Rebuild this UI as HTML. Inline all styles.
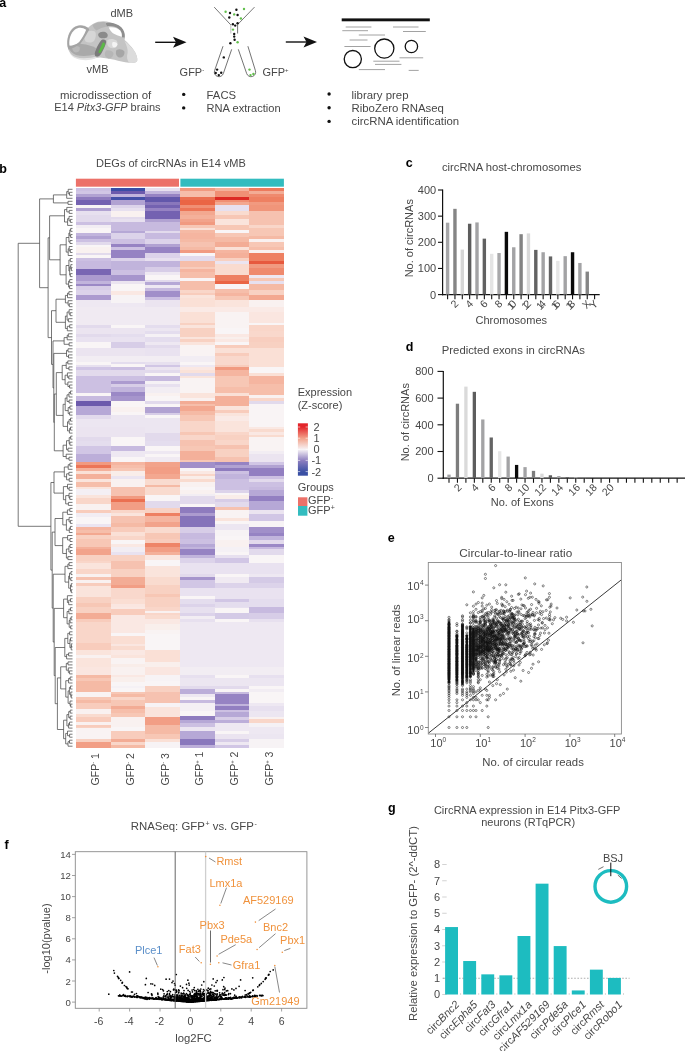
<!DOCTYPE html>
<html><head><meta charset="utf-8"><style>
html,body{margin:0;padding:0;background:#fff;}
svg{display:block;font-family:"Liberation Sans", sans-serif;will-change:transform;}
</style></head><body>
<svg width="685" height="1051" viewBox="0 0 685 1051">
<rect width="685" height="1051" fill="#fff"/>
<text x="-0.80" y="6.80" font-size="12.5" font-weight="bold" fill="#000">a</text>
<g>
<path d="M67.6,47 C66.4,39 68.5,31 74,27.2 C78.5,24.5 84,24.6 88,27.8 C91,25 94.5,22.8 98,21.8 C102,20.9 106,21.1 110,22.2 C116,23.7 121,27 123.6,31.5 C125.2,34.5 125.3,37.5 124.6,40 C128,43 131.5,46.5 134,50.5 C136.3,54 137.6,57.5 137.3,60.5 C136.4,62.8 133,63.3 129,62.8 C124,62.3 119,61.2 114.5,59.8 C110,58.8 105,58 100,57.4 C94,58.3 87,59.2 80,58.8 C74,58.3 69.5,54.5 67.6,47 Z" fill="#c4c4c4"/>
<path d="M69.5,53 C73,56.8 78,58.3 84,58.3 C89,58.2 94,57.4 97.5,56 C96.5,58.6 92,60 86,60.2 C79,60.3 73,58.5 69.5,53 Z" fill="#e3e3e3"/>
<path d="M68,46 C69,50 72,53.5 76,55 C82,56.5 89,56 95,54.5 L96,48 C92,46 87,44.5 82,44 C77,43.5 72,44 68,46 Z" fill="#a9a9a9"/>
<path d="M72,46.5 C74.5,45.3 77.5,45.5 79.5,47.3 C80.5,49.8 79,52.3 76,52.6 C73.5,52.2 72,50 72,46.5 Z" fill="#b9b9b9"/>
<path d="M85,33 C88,30.5 92,30 95,31.5 C96.5,34 96,38 94,41 C91.5,43 88,43 85.5,41.5 C84,38.5 84,35.5 85,33 Z" fill="#d6d6d6"/>
<path d="M67.6,46.5 C66.6,39 68.8,31.5 74,27.4 C78.3,24.6 84,24.7 88.2,28 L89.3,29.6 C86.2,35 83.5,40 80.6,43.6 C77,46.5 72.5,48.5 68.6,49.5 Z" fill="#a4a4a4"/>
<path d="M69.4,45.5 C68.8,39 70.6,33 75,29.5 C78.5,27 82.6,27.2 86.2,29.8 C84.2,34.5 81.8,38.8 79.2,42 C76,44.5 72.6,46.1 69.4,45.5 Z" fill="#ffffff"/>
<path d="M105.5,23.2 C111,21.8 117,23.5 121.3,27.2 C124,30 125.2,33.5 124.6,37.6 L122,37.2 C122.4,33.8 121.2,30.9 118.8,28.9 C115,26 110.5,25.4 106.8,26.4 Z" fill="#8e8e8e"/>
<path d="M108.8,27.6 C112.8,26.8 117,27.7 119.8,30.3 C121.6,32.2 122,34.6 121.7,36.8 C118.5,36 115.5,34.8 113,33.3 C111,31.8 109.6,29.8 108.8,27.6 Z" fill="#ffffff"/>
<path d="M92.5,25 C96,22.5 100.5,21.5 105.5,22.3 L106.8,26.4 C103,27.2 99.5,28.5 96.5,30.5 C94.5,29 93.2,27.2 92.5,25 Z" fill="#b3b3b3"/>
<path d="M98.3,33.8 C99.5,31.8 102.5,31.2 105.2,32 C107.6,33 108.4,35.4 107.2,37.2 C105.2,38.6 101.8,38.6 99.5,37.4 C98.3,36.4 97.9,35 98.3,33.8 Z" fill="#8a8a8a"/>
<path d="M101.5,40 C104,39 106.5,39.8 106.2,42.3 C105.5,45.5 103.5,49.5 101.6,53 C100.3,55.5 98,57.2 95.8,56.6 C94.2,55.4 94.6,52.6 95.7,50 C97.2,46.5 99,42.5 101.5,40 Z" fill="#7b7b7b"/>
<path d="M107.5,40 C110.5,38.5 114,38.8 116.8,40.8 C118.2,43 117.6,46 115.4,47.8 C112.6,48.8 109.6,48 108,46 C107,44 106.8,42 107.5,40 Z" fill="#d9d9d9"/>
<path d="M112.5,42.2 C114.5,41.5 116.8,42.2 117.5,44.2 C117.3,46.4 115.4,47.6 113.3,47.3 C112,46.2 111.8,43.8 112.5,42.2 Z" fill="#f4f4f4"/>
<path d="M116.5,50 C119,48.6 122.5,49 124.3,51.2 C125,54 123.5,56.8 120.6,57.6 C118,57.6 116.2,55.8 115.9,53.4 C115.8,52.2 116,51 116.5,50 Z" fill="#a6a6a6"/>
<path d="M124.5,41 C128,43.5 131.5,47 134,50.5 C136.3,54 137.6,57.5 137.3,60.5 C136.4,62.8 133,63.3 129,62.8 C127,60 126.5,56.5 127.6,53 C128.2,49.5 126.5,45 124.5,41 Z" fill="#dcdcdc"/>
<path d="M106,50.5 C109,49.8 112,50.6 113.5,53 C113.6,56 111.5,58.3 108.5,58.5 C106,58 104.6,56 104.8,53.5 C105,52.4 105.4,51.3 106,50.5 Z" fill="#b6b6b6"/>
<path d="M103.9,42.4 C105.4,43 105.2,45 104.1,47 L100.6,52.6 C99.6,53.5 98.3,52.9 98.6,51.4 L101.9,44.2 C102.4,43 103.1,42.2 103.9,42.4 Z" fill="#5cb947"/>
</g>
<text x="110.50" y="16.70" font-size="11" fill="#474747">dMB</text>
<text x="86.50" y="72.70" font-size="11" fill="#474747">vMB</text>
<text x="60.00" y="98.70" font-size="11.4" fill="#474747">microdissection of</text>
<text x="54.2" y="111.3" font-size="11.0" fill="#474747">E14 <tspan font-style="italic">Pitx3-GFP</tspan> brains</text>
<line x1="155.20" y1="42.30" x2="178.50" y2="42.30" stroke="#111" stroke-width="1.4"/>
<path d="M173.0,36.8 L186.5,42.3 L173.0,47.8 L176.0,42.3 Z" fill="#111"/>
<line x1="285.80" y1="42.00" x2="309.00" y2="42.00" stroke="#111" stroke-width="1.4"/>
<path d="M303.5,36.5 L317.0,42.0 L303.5,47.5 L306.5,42.0 Z" fill="#111"/>
<path d="M214.2,7.1 L230.8,24.9" stroke="#555" stroke-width="0.8" fill="none"/>
<path d="M254.5,7.1 L237.6,24.6" stroke="#555" stroke-width="0.8" fill="none"/>
<line x1="230.80" y1="24.90" x2="230.80" y2="33.50" stroke="#c8c8c8" stroke-width="1.2"/>
<line x1="237.60" y1="24.60" x2="237.60" y2="33.50" stroke="#666" stroke-width="0.9"/>
<path d="M223,46.2 L214.6,70.6 A4.6,4.6 0 0 0 223.3,73.6 L231.7,49.3" stroke="#444" stroke-width="0.75" fill="none"/>
<path d="M238.3,49.3 L246.7,73.6 A4.6,4.6 0 0 0 255.4,70.6 L247.9,46.2" stroke="#444" stroke-width="0.75" fill="none"/>
<circle cx="236.40" cy="9.70" r="1.20" fill="#111" stroke="none" stroke-width="1"/>
<circle cx="230.00" cy="13.00" r="1.20" fill="#111" stroke="none" stroke-width="1"/>
<circle cx="237.60" cy="15.00" r="1.20" fill="#111" stroke="none" stroke-width="1"/>
<circle cx="229.30" cy="17.50" r="1.20" fill="#111" stroke="none" stroke-width="1"/>
<circle cx="232.90" cy="24.30" r="1.20" fill="#111" stroke="none" stroke-width="1"/>
<circle cx="235.20" cy="25.60" r="1.20" fill="#111" stroke="none" stroke-width="1"/>
<circle cx="237.60" cy="23.20" r="1.20" fill="#111" stroke="none" stroke-width="1"/>
<circle cx="234.20" cy="34.00" r="1.20" fill="#111" stroke="none" stroke-width="1"/>
<circle cx="234.20" cy="36.60" r="1.20" fill="#111" stroke="none" stroke-width="1"/>
<circle cx="234.60" cy="39.80" r="1.20" fill="#111" stroke="none" stroke-width="1"/>
<circle cx="230.40" cy="43.30" r="1.20" fill="#111" stroke="none" stroke-width="1"/>
<circle cx="223.80" cy="57.40" r="1.20" fill="#111" stroke="none" stroke-width="1"/>
<circle cx="217.10" cy="69.60" r="1.20" fill="#111" stroke="none" stroke-width="1"/>
<circle cx="215.70" cy="73.00" r="1.20" fill="#111" stroke="none" stroke-width="1"/>
<circle cx="221.20" cy="72.80" r="1.20" fill="#111" stroke="none" stroke-width="1"/>
<circle cx="218.80" cy="75.10" r="1.20" fill="#111" stroke="none" stroke-width="1"/>
<circle cx="225.60" cy="11.80" r="1.20" fill="#62c04c" stroke="none" stroke-width="1"/>
<circle cx="244.00" cy="9.00" r="1.20" fill="#62c04c" stroke="none" stroke-width="1"/>
<circle cx="234.20" cy="14.40" r="1.20" fill="#62c04c" stroke="none" stroke-width="1"/>
<circle cx="240.90" cy="18.50" r="1.20" fill="#62c04c" stroke="none" stroke-width="1"/>
<circle cx="233.00" cy="29.60" r="1.20" fill="#62c04c" stroke="none" stroke-width="1"/>
<circle cx="237.60" cy="42.30" r="1.20" fill="#62c04c" stroke="none" stroke-width="1"/>
<circle cx="249.50" cy="69.60" r="1.20" fill="#62c04c" stroke="none" stroke-width="1"/>
<circle cx="250.50" cy="75.10" r="1.20" fill="#62c04c" stroke="none" stroke-width="1"/>
<circle cx="253.40" cy="74.00" r="1.20" fill="#62c04c" stroke="none" stroke-width="1"/>
<text x="179.6" y="76.2" font-size="11" fill="#474747">GFP<tspan dy="-4" font-size="6">-</tspan></text>
<text x="262.4" y="76.2" font-size="11" fill="#474747">GFP<tspan dy="-4" font-size="6">+</tspan></text>
<circle cx="183.70" cy="94.40" r="1.70" fill="#111" stroke="none" stroke-width="1"/>
<circle cx="183.70" cy="107.90" r="1.70" fill="#111" stroke="none" stroke-width="1"/>
<text x="206.60" y="98.50" font-size="11.3" fill="#474747">FACS</text>
<text x="206.60" y="112.00" font-size="11.1" fill="#474747">RNA extraction</text>
<rect x="341.70" y="18.40" width="88.10" height="2.90" fill="#111"/>
<line x1="345.70" y1="27.00" x2="371.40" y2="27.00" stroke="#8a8a8a" stroke-width="0.8"/>
<line x1="393.00" y1="27.00" x2="418.50" y2="27.00" stroke="#8a8a8a" stroke-width="0.8"/>
<line x1="342.30" y1="30.70" x2="368.00" y2="30.70" stroke="#8a8a8a" stroke-width="0.8"/>
<line x1="403.00" y1="31.50" x2="425.80" y2="31.50" stroke="#8a8a8a" stroke-width="0.8"/>
<line x1="358.80" y1="35.00" x2="385.00" y2="35.00" stroke="#8a8a8a" stroke-width="0.8"/>
<line x1="349.60" y1="40.00" x2="367.50" y2="40.00" stroke="#8a8a8a" stroke-width="0.8"/>
<line x1="344.40" y1="46.50" x2="370.60" y2="46.50" stroke="#8a8a8a" stroke-width="0.8"/>
<line x1="399.50" y1="57.80" x2="423.20" y2="57.80" stroke="#8a8a8a" stroke-width="0.8"/>
<line x1="373.30" y1="61.20" x2="399.50" y2="61.20" stroke="#8a8a8a" stroke-width="0.8"/>
<line x1="375.00" y1="64.40" x2="401.40" y2="64.40" stroke="#8a8a8a" stroke-width="0.8"/>
<line x1="358.80" y1="69.60" x2="385.00" y2="69.60" stroke="#8a8a8a" stroke-width="0.8"/>
<line x1="408.70" y1="70.40" x2="418.70" y2="70.40" stroke="#8a8a8a" stroke-width="0.8"/>
<circle cx="384.30" cy="48.60" r="9.60" fill="none" stroke="#111" stroke-width="1.3"/>
<circle cx="411.40" cy="46.50" r="6.20" fill="none" stroke="#111" stroke-width="1.3"/>
<circle cx="352.80" cy="59.10" r="8.60" fill="none" stroke="#111" stroke-width="1.3"/>
<circle cx="329.10" cy="94.00" r="1.70" fill="#111" stroke="none" stroke-width="1"/>
<circle cx="329.10" cy="107.70" r="1.70" fill="#111" stroke="none" stroke-width="1"/>
<circle cx="329.10" cy="121.40" r="1.70" fill="#111" stroke="none" stroke-width="1"/>
<text x="351.50" y="98.50" font-size="11.4" fill="#474747">library prep</text>
<text x="351.50" y="111.80" font-size="11.4" fill="#474747">RiboZero RNAseq</text>
<text x="351.50" y="125.30" font-size="11.4" fill="#474747">circRNA identification</text>
<text x="-0.80" y="172.90" font-size="12.5" font-weight="bold" fill="#000">b</text>
<text x="96.10" y="167.00" font-size="11" fill="#474747">DEGs of circRNAs in E14 vMB</text>
<rect x="75.90" y="178.70" width="103.10" height="8.00" fill="#ec7169"/>
<rect x="180.40" y="178.70" width="103.50" height="8.00" fill="#33bcbf"/>
<g shape-rendering="crispEdges">
<rect x="75.90" y="187.80" width="34.97" height="3.30" fill="#ccc0e2"/>
<rect x="75.90" y="190.80" width="34.97" height="3.34" fill="#d1c6e5"/>
<rect x="75.90" y="193.83" width="34.97" height="3.34" fill="#b1a2d2"/>
<rect x="75.90" y="196.87" width="34.97" height="3.34" fill="#8e7bbe"/>
<rect x="75.90" y="199.91" width="34.97" height="5.61" fill="#7462b1"/>
<rect x="75.90" y="205.22" width="34.97" height="2.58" fill="#f9f5f6"/>
<rect x="75.90" y="207.50" width="34.97" height="4.10" fill="#b1a2d2"/>
<rect x="75.90" y="211.29" width="34.97" height="4.10" fill="#e7e0ef"/>
<rect x="75.90" y="215.09" width="34.97" height="7.13" fill="#e2daec"/>
<rect x="75.90" y="221.92" width="34.97" height="3.34" fill="#ccc0e2"/>
<rect x="75.90" y="224.96" width="34.97" height="3.03" fill="#f2edf3"/>
<rect x="75.90" y="227.69" width="34.97" height="5.16" fill="#f9f5f6"/>
<rect x="75.90" y="232.55" width="34.97" height="3.34" fill="#c1b4dc"/>
<rect x="75.90" y="235.58" width="34.97" height="4.10" fill="#b1a2d2"/>
<rect x="75.90" y="239.38" width="34.97" height="3.34" fill="#ccc0e2"/>
<rect x="75.90" y="242.42" width="34.97" height="2.58" fill="#e2daec"/>
<rect x="75.90" y="244.69" width="34.97" height="2.58" fill="#f9f5f6"/>
<rect x="110.57" y="187.80" width="34.97" height="3.30" fill="#3a4da6"/>
<rect x="110.57" y="190.80" width="34.97" height="3.34" fill="#6c5aac"/>
<rect x="110.57" y="193.83" width="34.97" height="3.34" fill="#c1b4dc"/>
<rect x="110.57" y="196.87" width="34.97" height="3.34" fill="#4450a7"/>
<rect x="110.57" y="199.91" width="34.97" height="5.31" fill="#b1a2d2"/>
<rect x="110.57" y="204.92" width="34.97" height="3.64" fill="#dcd3ea"/>
<rect x="110.57" y="208.26" width="34.97" height="3.34" fill="#e7e0ef"/>
<rect x="110.57" y="211.29" width="34.97" height="5.61" fill="#f9f1f0"/>
<rect x="110.57" y="216.61" width="34.97" height="2.58" fill="#e2daec"/>
<rect x="110.57" y="218.88" width="34.97" height="3.34" fill="#e7e0ef"/>
<rect x="110.57" y="221.92" width="34.97" height="9.41" fill="#c7badf"/>
<rect x="110.57" y="231.03" width="34.97" height="2.58" fill="#b6a8d6"/>
<rect x="110.57" y="233.31" width="34.97" height="6.37" fill="#dcd3ea"/>
<rect x="110.57" y="239.38" width="34.97" height="4.85" fill="#ccc0e2"/>
<rect x="110.57" y="243.93" width="34.97" height="3.34" fill="#9683c3"/>
<rect x="145.23" y="187.80" width="34.97" height="3.30" fill="#e7e0ef"/>
<rect x="145.23" y="190.80" width="34.97" height="3.34" fill="#c1b4dc"/>
<rect x="145.23" y="193.83" width="34.97" height="3.34" fill="#9683c3"/>
<rect x="145.23" y="196.87" width="34.97" height="5.61" fill="#6257ab"/>
<rect x="145.23" y="202.18" width="34.97" height="3.03" fill="#8977bc"/>
<rect x="145.23" y="204.92" width="34.97" height="3.64" fill="#7462b1"/>
<rect x="145.23" y="208.26" width="34.97" height="3.34" fill="#9683c3"/>
<rect x="145.23" y="211.29" width="34.97" height="7.89" fill="#7462b1"/>
<rect x="145.23" y="218.88" width="34.97" height="3.34" fill="#b1a2d2"/>
<rect x="145.23" y="221.92" width="34.97" height="9.41" fill="#c7badf"/>
<rect x="145.23" y="231.03" width="34.97" height="2.58" fill="#e2daec"/>
<rect x="145.23" y="233.31" width="34.97" height="6.37" fill="#c7badf"/>
<rect x="145.23" y="239.38" width="34.97" height="4.85" fill="#dcd3ea"/>
<rect x="145.23" y="243.93" width="34.97" height="3.34" fill="#b1a2d2"/>
<rect x="179.90" y="187.80" width="34.97" height="3.30" fill="#f19a80"/>
<rect x="179.90" y="190.80" width="34.97" height="6.37" fill="#f6beaa"/>
<rect x="179.90" y="196.87" width="34.97" height="3.34" fill="#eb7051"/>
<rect x="179.90" y="199.91" width="34.97" height="5.61" fill="#ea6545"/>
<rect x="179.90" y="205.22" width="34.97" height="3.34" fill="#f08f74"/>
<rect x="179.90" y="208.26" width="34.97" height="3.34" fill="#ec7557"/>
<rect x="179.90" y="211.29" width="34.97" height="4.10" fill="#f3a890"/>
<rect x="179.90" y="215.09" width="34.97" height="4.10" fill="#f4b09a"/>
<rect x="179.90" y="218.88" width="34.97" height="3.34" fill="#f2a38b"/>
<rect x="179.90" y="221.92" width="34.97" height="3.34" fill="#f19a80"/>
<rect x="179.90" y="224.96" width="34.97" height="3.03" fill="#f7c7b5"/>
<rect x="179.90" y="227.69" width="34.97" height="2.88" fill="#fae0d6"/>
<rect x="179.90" y="230.27" width="34.97" height="2.58" fill="#f5baa5"/>
<rect x="179.90" y="232.55" width="34.97" height="7.13" fill="#f5b5a0"/>
<rect x="179.90" y="239.38" width="34.97" height="3.34" fill="#f5baa5"/>
<rect x="179.90" y="242.42" width="34.97" height="4.85" fill="#f6c2b0"/>
<rect x="214.57" y="187.80" width="34.97" height="3.30" fill="#f4b09a"/>
<rect x="214.57" y="190.80" width="34.97" height="6.37" fill="#f08f74"/>
<rect x="214.57" y="196.87" width="34.97" height="3.34" fill="#dc2a24"/>
<rect x="214.57" y="199.91" width="34.97" height="2.58" fill="#f08f74"/>
<rect x="214.57" y="202.18" width="34.97" height="3.34" fill="#f3a890"/>
<rect x="214.57" y="205.22" width="34.97" height="6.37" fill="#e7e0ef"/>
<rect x="214.57" y="211.29" width="34.97" height="4.10" fill="#f9dbcf"/>
<rect x="214.57" y="215.09" width="34.97" height="4.10" fill="#f7c7b5"/>
<rect x="214.57" y="218.88" width="34.97" height="6.37" fill="#fae4dc"/>
<rect x="214.57" y="224.96" width="34.97" height="5.61" fill="#f7c7b5"/>
<rect x="214.57" y="230.27" width="34.97" height="3.34" fill="#f9f5f6"/>
<rect x="214.57" y="233.31" width="34.97" height="4.10" fill="#f7c7b5"/>
<rect x="214.57" y="237.10" width="34.97" height="4.85" fill="#f5baa5"/>
<rect x="214.57" y="241.66" width="34.97" height="5.61" fill="#f3ac95"/>
<rect x="249.23" y="187.80" width="34.97" height="3.30" fill="#ed7a5d"/>
<rect x="249.23" y="190.80" width="34.97" height="3.34" fill="#f3ac95"/>
<rect x="249.23" y="193.83" width="34.97" height="3.34" fill="#ef8a6e"/>
<rect x="249.23" y="196.87" width="34.97" height="5.61" fill="#ee8062"/>
<rect x="249.23" y="202.18" width="34.97" height="3.34" fill="#f19a80"/>
<rect x="249.23" y="205.22" width="34.97" height="6.37" fill="#f0957a"/>
<rect x="249.23" y="211.29" width="34.97" height="13.96" fill="#f6c2b0"/>
<rect x="249.23" y="224.96" width="34.97" height="3.34" fill="#f9d6c9"/>
<rect x="249.23" y="227.99" width="34.97" height="7.89" fill="#f7c7b5"/>
<rect x="249.23" y="235.58" width="34.97" height="3.34" fill="#f5baa5"/>
<rect x="249.23" y="238.62" width="34.97" height="3.34" fill="#f9f1f0"/>
<rect x="249.23" y="241.66" width="34.97" height="5.61" fill="#f7c7b5"/>
<rect x="75.90" y="247.00" width="34.97" height="6.07" fill="#f9f1f0"/>
<rect x="75.90" y="252.77" width="34.97" height="2.88" fill="#e2daec"/>
<rect x="75.90" y="255.35" width="34.97" height="2.88" fill="#f9f5f6"/>
<rect x="75.90" y="257.93" width="34.97" height="3.79" fill="#ccc0e2"/>
<rect x="75.90" y="261.42" width="34.97" height="7.89" fill="#c7badf"/>
<rect x="75.90" y="269.01" width="34.97" height="6.37" fill="#7966b3"/>
<rect x="75.90" y="275.09" width="34.97" height="6.37" fill="#ac9bcf"/>
<rect x="75.90" y="281.16" width="34.97" height="3.34" fill="#c1b4dc"/>
<rect x="75.90" y="284.20" width="34.97" height="2.58" fill="#9b89c6"/>
<rect x="75.90" y="286.47" width="34.97" height="4.10" fill="#d7cde7"/>
<rect x="75.90" y="290.27" width="34.97" height="4.85" fill="#dcd3ea"/>
<rect x="75.90" y="294.82" width="34.97" height="5.61" fill="#ac9bcf"/>
<rect x="75.90" y="300.14" width="34.97" height="7.13" fill="#eee8f2"/>
<rect x="110.57" y="247.00" width="34.97" height="3.34" fill="#ccc0e2"/>
<rect x="110.57" y="250.04" width="34.97" height="8.19" fill="#9683c3"/>
<rect x="110.57" y="257.93" width="34.97" height="3.03" fill="#dcd3ea"/>
<rect x="110.57" y="260.66" width="34.97" height="9.41" fill="#c1b4dc"/>
<rect x="110.57" y="269.77" width="34.97" height="5.61" fill="#ccc0e2"/>
<rect x="110.57" y="275.09" width="34.97" height="6.37" fill="#a695cc"/>
<rect x="110.57" y="281.16" width="34.97" height="3.34" fill="#ebe4f0"/>
<rect x="110.57" y="284.20" width="34.97" height="7.13" fill="#f9f5f6"/>
<rect x="110.57" y="291.03" width="34.97" height="4.10" fill="#fae8e3"/>
<rect x="110.57" y="294.82" width="34.97" height="8.35" fill="#f7f3f5"/>
<rect x="110.57" y="302.87" width="34.97" height="4.40" fill="#eee8f2"/>
<rect x="145.23" y="247.00" width="34.97" height="6.07" fill="#9683c3"/>
<rect x="145.23" y="252.77" width="34.97" height="5.46" fill="#dcd3ea"/>
<rect x="145.23" y="257.93" width="34.97" height="3.03" fill="#e7e0ef"/>
<rect x="145.23" y="260.66" width="34.97" height="6.37" fill="#c1b4dc"/>
<rect x="145.23" y="266.74" width="34.97" height="5.61" fill="#d7cde7"/>
<rect x="145.23" y="272.05" width="34.97" height="3.34" fill="#eee8f2"/>
<rect x="145.23" y="275.09" width="34.97" height="4.85" fill="#f9f5f6"/>
<rect x="145.23" y="279.64" width="34.97" height="2.58" fill="#e2daec"/>
<rect x="145.23" y="281.92" width="34.97" height="3.34" fill="#b6a8d6"/>
<rect x="145.23" y="284.96" width="34.97" height="3.34" fill="#eee8f2"/>
<rect x="145.23" y="287.99" width="34.97" height="3.34" fill="#c7badf"/>
<rect x="145.23" y="291.03" width="34.97" height="6.37" fill="#a18fc9"/>
<rect x="145.23" y="297.10" width="34.97" height="3.34" fill="#ccc0e2"/>
<rect x="145.23" y="300.14" width="34.97" height="7.13" fill="#ebe4f0"/>
<rect x="179.90" y="247.00" width="34.97" height="3.34" fill="#f5baa5"/>
<rect x="179.90" y="250.04" width="34.97" height="3.03" fill="#f19a80"/>
<rect x="179.90" y="252.77" width="34.97" height="3.34" fill="#f9f5f6"/>
<rect x="179.90" y="255.81" width="34.97" height="5.16" fill="#e2daec"/>
<rect x="179.90" y="260.66" width="34.97" height="6.37" fill="#f6beaa"/>
<rect x="179.90" y="266.74" width="34.97" height="2.58" fill="#f8ccbc"/>
<rect x="179.90" y="269.01" width="34.97" height="3.34" fill="#f5b5a0"/>
<rect x="179.90" y="272.05" width="34.97" height="6.37" fill="#f6beaa"/>
<rect x="179.90" y="278.12" width="34.97" height="2.88" fill="#f9f5f6"/>
<rect x="179.90" y="280.71" width="34.97" height="9.11" fill="#f6beaa"/>
<rect x="179.90" y="289.51" width="34.97" height="3.34" fill="#f9d6c9"/>
<rect x="179.90" y="292.55" width="34.97" height="2.58" fill="#f8ccbc"/>
<rect x="179.90" y="294.82" width="34.97" height="3.34" fill="#fae4dc"/>
<rect x="179.90" y="297.86" width="34.97" height="9.41" fill="#fae0d6"/>
<rect x="214.57" y="247.00" width="34.97" height="3.34" fill="#fae0d6"/>
<rect x="214.57" y="250.04" width="34.97" height="3.34" fill="#f5b5a0"/>
<rect x="214.57" y="253.07" width="34.97" height="5.16" fill="#f4b09a"/>
<rect x="214.57" y="257.93" width="34.97" height="3.03" fill="#f8d1c2"/>
<rect x="214.57" y="260.66" width="34.97" height="3.34" fill="#ebe4f0"/>
<rect x="214.57" y="263.70" width="34.97" height="11.69" fill="#f9dbcf"/>
<rect x="214.57" y="275.09" width="34.97" height="6.37" fill="#ee8062"/>
<rect x="214.57" y="281.16" width="34.97" height="2.88" fill="#ea6545"/>
<rect x="214.57" y="283.74" width="34.97" height="5.31" fill="#f9f5f6"/>
<rect x="214.57" y="288.75" width="34.97" height="4.10" fill="#f6beaa"/>
<rect x="214.57" y="292.55" width="34.97" height="3.34" fill="#f5b5a0"/>
<rect x="214.57" y="295.58" width="34.97" height="4.85" fill="#f7c7b5"/>
<rect x="214.57" y="300.14" width="34.97" height="7.13" fill="#fae4dc"/>
<rect x="249.23" y="247.00" width="34.97" height="3.03" fill="#f6beaa"/>
<rect x="249.23" y="249.73" width="34.97" height="3.34" fill="#f9f1f0"/>
<rect x="249.23" y="252.77" width="34.97" height="8.50" fill="#ee8062"/>
<rect x="249.23" y="260.97" width="34.97" height="3.03" fill="#e7593e"/>
<rect x="249.23" y="263.70" width="34.97" height="4.10" fill="#f19a80"/>
<rect x="249.23" y="267.50" width="34.97" height="7.89" fill="#ef8a6e"/>
<rect x="249.23" y="275.09" width="34.97" height="3.34" fill="#eee8f2"/>
<rect x="249.23" y="278.12" width="34.97" height="3.34" fill="#f7c7b5"/>
<rect x="249.23" y="281.16" width="34.97" height="3.34" fill="#e7e0ef"/>
<rect x="249.23" y="284.20" width="34.97" height="5.61" fill="#f5baa5"/>
<rect x="249.23" y="289.51" width="34.97" height="5.61" fill="#f8d1c2"/>
<rect x="249.23" y="294.82" width="34.97" height="5.61" fill="#f3a890"/>
<rect x="249.23" y="300.14" width="34.97" height="7.13" fill="#f9f1f0"/>
<rect x="75.90" y="307.00" width="34.97" height="18.52" fill="#f0eaf2"/>
<rect x="75.90" y="325.22" width="34.97" height="3.34" fill="#e2daec"/>
<rect x="75.90" y="328.26" width="34.97" height="6.37" fill="#ebe4f0"/>
<rect x="75.90" y="334.33" width="34.97" height="3.34" fill="#e2daec"/>
<rect x="75.90" y="337.36" width="34.97" height="4.85" fill="#e9e2f0"/>
<rect x="75.90" y="341.92" width="34.97" height="6.37" fill="#f9f5f6"/>
<rect x="75.90" y="347.99" width="34.97" height="7.89" fill="#ebe4f0"/>
<rect x="75.90" y="355.58" width="34.97" height="6.68" fill="#f2edf3"/>
<rect x="75.90" y="361.96" width="34.97" height="3.03" fill="#f9f5f6"/>
<rect x="75.90" y="364.69" width="34.97" height="2.58" fill="#e7e0ef"/>
<rect x="110.57" y="307.00" width="34.97" height="18.52" fill="#f0eaf2"/>
<rect x="110.57" y="325.22" width="34.97" height="3.34" fill="#f9f5f6"/>
<rect x="110.57" y="328.26" width="34.97" height="6.37" fill="#ebe4f0"/>
<rect x="110.57" y="334.33" width="34.97" height="3.34" fill="#e4ddee"/>
<rect x="110.57" y="337.36" width="34.97" height="4.85" fill="#e9e2f0"/>
<rect x="110.57" y="341.92" width="34.97" height="6.37" fill="#d7cde7"/>
<rect x="110.57" y="347.99" width="34.97" height="7.89" fill="#ebe4f0"/>
<rect x="110.57" y="355.58" width="34.97" height="6.68" fill="#f2edf3"/>
<rect x="110.57" y="361.96" width="34.97" height="2.73" fill="#e4ddee"/>
<rect x="110.57" y="364.39" width="34.97" height="2.88" fill="#f9f5f6"/>
<rect x="145.23" y="307.00" width="34.97" height="18.52" fill="#f0eaf2"/>
<rect x="145.23" y="325.22" width="34.97" height="3.34" fill="#e4ddee"/>
<rect x="145.23" y="328.26" width="34.97" height="3.34" fill="#ece6f1"/>
<rect x="145.23" y="331.29" width="34.97" height="2.58" fill="#e4ddee"/>
<rect x="145.23" y="333.57" width="34.97" height="3.79" fill="#f5f1f5"/>
<rect x="145.23" y="337.06" width="34.97" height="5.46" fill="#e4ddee"/>
<rect x="145.23" y="342.22" width="34.97" height="3.03" fill="#eee8f2"/>
<rect x="145.23" y="344.96" width="34.97" height="3.34" fill="#e2daec"/>
<rect x="145.23" y="347.99" width="34.97" height="7.89" fill="#e9e2f0"/>
<rect x="145.23" y="355.58" width="34.97" height="6.68" fill="#f2edf3"/>
<rect x="145.23" y="361.96" width="34.97" height="3.03" fill="#e7e0ef"/>
<rect x="145.23" y="364.69" width="34.97" height="2.58" fill="#d1c6e5"/>
<rect x="179.90" y="307.00" width="34.97" height="4.85" fill="#faeae6"/>
<rect x="179.90" y="311.55" width="34.97" height="11.69" fill="#fae0d6"/>
<rect x="179.90" y="322.94" width="34.97" height="2.58" fill="#f8d1c2"/>
<rect x="179.90" y="325.22" width="34.97" height="3.34" fill="#fae4dc"/>
<rect x="179.90" y="328.26" width="34.97" height="8.65" fill="#f8d1c2"/>
<rect x="179.90" y="336.61" width="34.97" height="2.58" fill="#fae4dc"/>
<rect x="179.90" y="338.88" width="34.97" height="3.34" fill="#f8d1c2"/>
<rect x="179.90" y="341.92" width="34.97" height="3.34" fill="#fae4dc"/>
<rect x="179.90" y="344.96" width="34.97" height="10.93" fill="#f9f3f3"/>
<rect x="179.90" y="355.58" width="34.97" height="6.68" fill="#f2edf3"/>
<rect x="179.90" y="361.96" width="34.97" height="3.03" fill="#f9f5f6"/>
<rect x="179.90" y="364.69" width="34.97" height="2.58" fill="#eee8f2"/>
<rect x="214.57" y="307.00" width="34.97" height="4.85" fill="#faeae6"/>
<rect x="214.57" y="311.55" width="34.97" height="17.00" fill="#f9f3f3"/>
<rect x="214.57" y="328.26" width="34.97" height="6.07" fill="#f9f5f6"/>
<rect x="214.57" y="334.02" width="34.97" height="2.88" fill="#fae8e3"/>
<rect x="214.57" y="336.61" width="34.97" height="2.88" fill="#f9efec"/>
<rect x="214.57" y="339.19" width="34.97" height="3.03" fill="#fae8e3"/>
<rect x="214.57" y="341.92" width="34.97" height="3.34" fill="#f9f5f6"/>
<rect x="214.57" y="344.96" width="34.97" height="3.34" fill="#f8ccbc"/>
<rect x="214.57" y="347.99" width="34.97" height="4.85" fill="#fae0d6"/>
<rect x="214.57" y="352.55" width="34.97" height="3.34" fill="#f8ccbc"/>
<rect x="214.57" y="355.58" width="34.97" height="9.41" fill="#f9d8cc"/>
<rect x="214.57" y="364.69" width="34.97" height="2.58" fill="#f8ccbc"/>
<rect x="249.23" y="307.00" width="34.97" height="4.85" fill="#faeae6"/>
<rect x="249.23" y="311.55" width="34.97" height="11.69" fill="#fae6e0"/>
<rect x="249.23" y="322.94" width="34.97" height="2.58" fill="#f9f5f6"/>
<rect x="249.23" y="325.22" width="34.97" height="6.37" fill="#f9d6c9"/>
<rect x="249.23" y="331.29" width="34.97" height="5.61" fill="#f9d8cc"/>
<rect x="249.23" y="336.61" width="34.97" height="5.61" fill="#f8cebf"/>
<rect x="249.23" y="341.92" width="34.97" height="6.37" fill="#f8d1c2"/>
<rect x="249.23" y="347.99" width="34.97" height="3.34" fill="#fae0d6"/>
<rect x="249.23" y="351.03" width="34.97" height="16.24" fill="#fae0d6"/>
<rect x="75.90" y="367.00" width="34.97" height="3.34" fill="#d1c6e5"/>
<rect x="75.90" y="370.04" width="34.97" height="6.37" fill="#e2daec"/>
<rect x="75.90" y="376.11" width="34.97" height="17.00" fill="#ccc0e2"/>
<rect x="75.90" y="392.81" width="34.97" height="3.34" fill="#f9f5f6"/>
<rect x="75.90" y="395.85" width="34.97" height="5.61" fill="#c7badf"/>
<rect x="75.90" y="401.16" width="34.97" height="5.61" fill="#6c5aac"/>
<rect x="75.90" y="406.47" width="34.97" height="8.65" fill="#b6a8d6"/>
<rect x="75.90" y="414.82" width="34.97" height="4.10" fill="#e2daec"/>
<rect x="75.90" y="418.62" width="34.97" height="8.65" fill="#ece6f1"/>
<rect x="110.57" y="367.00" width="34.97" height="3.34" fill="#ccc0e2"/>
<rect x="110.57" y="370.04" width="34.97" height="6.37" fill="#e2daec"/>
<rect x="110.57" y="376.11" width="34.97" height="4.85" fill="#ccc0e2"/>
<rect x="110.57" y="380.66" width="34.97" height="3.64" fill="#ac9bcf"/>
<rect x="110.57" y="384.00" width="34.97" height="3.03" fill="#d7cde7"/>
<rect x="110.57" y="386.74" width="34.97" height="5.61" fill="#c1b4dc"/>
<rect x="110.57" y="392.05" width="34.97" height="4.10" fill="#9b89c6"/>
<rect x="110.57" y="395.85" width="34.97" height="5.61" fill="#a695cc"/>
<rect x="110.57" y="401.16" width="34.97" height="6.37" fill="#f9f5f6"/>
<rect x="110.57" y="407.23" width="34.97" height="4.85" fill="#f9f1f0"/>
<rect x="110.57" y="411.79" width="34.97" height="3.34" fill="#f9f5f6"/>
<rect x="110.57" y="414.82" width="34.97" height="12.45" fill="#ece6f1"/>
<rect x="145.23" y="367.00" width="34.97" height="3.34" fill="#ebe4f0"/>
<rect x="145.23" y="370.04" width="34.97" height="3.03" fill="#e2daec"/>
<rect x="145.23" y="372.77" width="34.97" height="3.64" fill="#f9f5f6"/>
<rect x="145.23" y="376.11" width="34.97" height="4.85" fill="#c7badf"/>
<rect x="145.23" y="380.66" width="34.97" height="3.64" fill="#f5f1f5"/>
<rect x="145.23" y="384.00" width="34.97" height="3.03" fill="#e7e0ef"/>
<rect x="145.23" y="386.74" width="34.97" height="6.37" fill="#f2edf3"/>
<rect x="145.23" y="392.81" width="34.97" height="3.34" fill="#f9f1f0"/>
<rect x="145.23" y="395.85" width="34.97" height="5.61" fill="#f9f5f6"/>
<rect x="145.23" y="401.16" width="34.97" height="3.34" fill="#e2daec"/>
<rect x="145.23" y="404.20" width="34.97" height="2.88" fill="#f9f5f6"/>
<rect x="145.23" y="406.78" width="34.97" height="6.07" fill="#b1a2d2"/>
<rect x="145.23" y="412.55" width="34.97" height="3.03" fill="#d7cde7"/>
<rect x="145.23" y="415.28" width="34.97" height="2.88" fill="#f9f5f6"/>
<rect x="145.23" y="417.86" width="34.97" height="9.41" fill="#ece6f1"/>
<rect x="179.90" y="367.00" width="34.97" height="3.34" fill="#fae8e3"/>
<rect x="179.90" y="370.04" width="34.97" height="3.34" fill="#fae2d9"/>
<rect x="179.90" y="373.07" width="34.97" height="3.03" fill="#e2daec"/>
<rect x="179.90" y="375.81" width="34.97" height="2.88" fill="#fae4dc"/>
<rect x="179.90" y="378.39" width="34.97" height="14.72" fill="#f9f3f3"/>
<rect x="179.90" y="392.81" width="34.97" height="5.61" fill="#fae4dc"/>
<rect x="179.90" y="398.12" width="34.97" height="3.34" fill="#f9f1f0"/>
<rect x="179.90" y="401.16" width="34.97" height="3.34" fill="#f3ac95"/>
<rect x="179.90" y="404.20" width="34.97" height="2.58" fill="#f6beaa"/>
<rect x="179.90" y="406.47" width="34.97" height="4.85" fill="#f3a890"/>
<rect x="179.90" y="411.03" width="34.97" height="4.10" fill="#f5baa5"/>
<rect x="179.90" y="414.82" width="34.97" height="6.37" fill="#f7c7b5"/>
<rect x="179.90" y="420.90" width="34.97" height="6.37" fill="#f9d6c9"/>
<rect x="214.57" y="367.00" width="34.97" height="3.34" fill="#f19a80"/>
<rect x="214.57" y="370.04" width="34.97" height="6.07" fill="#f5b5a0"/>
<rect x="214.57" y="375.81" width="34.97" height="11.23" fill="#f7c7b5"/>
<rect x="214.57" y="386.74" width="34.97" height="6.37" fill="#f6beaa"/>
<rect x="214.57" y="392.81" width="34.97" height="3.03" fill="#fae0d6"/>
<rect x="214.57" y="395.54" width="34.97" height="11.23" fill="#f4b09a"/>
<rect x="214.57" y="406.47" width="34.97" height="3.34" fill="#fae4dc"/>
<rect x="214.57" y="409.51" width="34.97" height="3.34" fill="#f8ccbc"/>
<rect x="214.57" y="412.55" width="34.97" height="3.34" fill="#fae4dc"/>
<rect x="214.57" y="415.58" width="34.97" height="5.61" fill="#faeae6"/>
<rect x="214.57" y="420.90" width="34.97" height="6.37" fill="#fae4dc"/>
<rect x="249.23" y="367.00" width="34.97" height="6.37" fill="#f9f5f6"/>
<rect x="249.23" y="373.07" width="34.97" height="3.34" fill="#fae0d6"/>
<rect x="249.23" y="376.11" width="34.97" height="8.65" fill="#f5b5a0"/>
<rect x="249.23" y="384.46" width="34.97" height="10.93" fill="#f6beaa"/>
<rect x="249.23" y="395.09" width="34.97" height="3.34" fill="#f9f1f0"/>
<rect x="249.23" y="398.12" width="34.97" height="3.34" fill="#f9d6c9"/>
<rect x="249.23" y="401.16" width="34.97" height="3.34" fill="#e2daec"/>
<rect x="249.23" y="404.20" width="34.97" height="23.07" fill="#f9f4f5"/>
<rect x="75.90" y="427.00" width="34.97" height="10.17" fill="#ebe4f0"/>
<rect x="75.90" y="436.87" width="34.97" height="4.10" fill="#e2daec"/>
<rect x="75.90" y="440.66" width="34.97" height="5.61" fill="#e4ddee"/>
<rect x="75.90" y="445.98" width="34.97" height="7.89" fill="#d1c6e5"/>
<rect x="75.90" y="453.57" width="34.97" height="8.95" fill="#bcaed9"/>
<rect x="75.90" y="462.22" width="34.97" height="2.73" fill="#f19a80"/>
<rect x="75.90" y="464.65" width="34.97" height="3.64" fill="#ec7557"/>
<rect x="75.90" y="467.99" width="34.97" height="3.34" fill="#f4b09a"/>
<rect x="75.90" y="471.03" width="34.97" height="3.34" fill="#fae0d6"/>
<rect x="75.90" y="474.07" width="34.97" height="5.61" fill="#f4b09a"/>
<rect x="75.90" y="479.38" width="34.97" height="3.34" fill="#fae4dc"/>
<rect x="75.90" y="482.42" width="34.97" height="4.85" fill="#f6beaa"/>
<rect x="110.57" y="427.00" width="34.97" height="10.17" fill="#ebe4f0"/>
<rect x="110.57" y="436.87" width="34.97" height="9.41" fill="#f9f5f6"/>
<rect x="110.57" y="445.98" width="34.97" height="5.61" fill="#c7badf"/>
<rect x="110.57" y="451.29" width="34.97" height="5.61" fill="#eee8f2"/>
<rect x="110.57" y="456.61" width="34.97" height="5.92" fill="#f9f5f6"/>
<rect x="110.57" y="462.22" width="34.97" height="3.03" fill="#f5b5a0"/>
<rect x="110.57" y="464.96" width="34.97" height="3.34" fill="#f6beaa"/>
<rect x="110.57" y="467.99" width="34.97" height="3.34" fill="#f7c7b5"/>
<rect x="110.57" y="471.03" width="34.97" height="4.85" fill="#f9ede9"/>
<rect x="110.57" y="475.58" width="34.97" height="4.10" fill="#ebe4f0"/>
<rect x="110.57" y="479.38" width="34.97" height="7.89" fill="#f9f1f0"/>
<rect x="145.23" y="427.00" width="34.97" height="6.37" fill="#ece6f1"/>
<rect x="145.23" y="433.07" width="34.97" height="7.89" fill="#e2daec"/>
<rect x="145.23" y="440.66" width="34.97" height="5.61" fill="#e4ddee"/>
<rect x="145.23" y="445.98" width="34.97" height="5.61" fill="#f9f5f6"/>
<rect x="145.23" y="451.29" width="34.97" height="2.58" fill="#eee8f2"/>
<rect x="145.23" y="453.57" width="34.97" height="3.34" fill="#f9f5f6"/>
<rect x="145.23" y="456.61" width="34.97" height="5.92" fill="#f0eaf2"/>
<rect x="145.23" y="462.22" width="34.97" height="5.31" fill="#f2a38b"/>
<rect x="145.23" y="467.23" width="34.97" height="7.13" fill="#f29e85"/>
<rect x="145.23" y="474.07" width="34.97" height="5.61" fill="#f3a890"/>
<rect x="145.23" y="479.38" width="34.97" height="5.61" fill="#f9dbcf"/>
<rect x="145.23" y="484.69" width="34.97" height="2.58" fill="#f5baa5"/>
<rect x="179.90" y="427.00" width="34.97" height="4.85" fill="#f9d6c9"/>
<rect x="179.90" y="431.55" width="34.97" height="3.34" fill="#f7c7b5"/>
<rect x="179.90" y="434.59" width="34.97" height="5.61" fill="#f9d6c9"/>
<rect x="179.90" y="439.91" width="34.97" height="6.37" fill="#f6c2b0"/>
<rect x="179.90" y="445.98" width="34.97" height="5.61" fill="#f7c7b5"/>
<rect x="179.90" y="451.29" width="34.97" height="8.65" fill="#f4b09a"/>
<rect x="179.90" y="459.64" width="34.97" height="2.88" fill="#f7c7b5"/>
<rect x="179.90" y="462.22" width="34.97" height="5.77" fill="#a18fc9"/>
<rect x="179.90" y="467.69" width="34.97" height="3.64" fill="#f9f5f6"/>
<rect x="179.90" y="471.03" width="34.97" height="3.34" fill="#fae8e3"/>
<rect x="179.90" y="474.07" width="34.97" height="2.58" fill="#f9d6c9"/>
<rect x="179.90" y="476.34" width="34.97" height="3.34" fill="#f9ede9"/>
<rect x="179.90" y="479.38" width="34.97" height="3.34" fill="#f9dbcf"/>
<rect x="179.90" y="482.42" width="34.97" height="4.85" fill="#f9f1f0"/>
<rect x="214.57" y="427.00" width="34.97" height="4.85" fill="#fae4dc"/>
<rect x="214.57" y="431.55" width="34.97" height="4.10" fill="#f9d6c9"/>
<rect x="214.57" y="435.35" width="34.97" height="4.85" fill="#f8d1c2"/>
<rect x="214.57" y="439.91" width="34.97" height="5.61" fill="#f9d6c9"/>
<rect x="214.57" y="445.22" width="34.97" height="4.10" fill="#f6c2b0"/>
<rect x="214.57" y="449.01" width="34.97" height="8.65" fill="#f8d1c2"/>
<rect x="214.57" y="457.36" width="34.97" height="5.16" fill="#f6c2b0"/>
<rect x="214.57" y="462.22" width="34.97" height="3.03" fill="#9683c3"/>
<rect x="214.57" y="464.96" width="34.97" height="3.03" fill="#b1a2d2"/>
<rect x="214.57" y="467.69" width="34.97" height="3.64" fill="#8e7bbe"/>
<rect x="214.57" y="471.03" width="34.97" height="3.34" fill="#ccc0e2"/>
<rect x="214.57" y="474.07" width="34.97" height="5.61" fill="#c1b4dc"/>
<rect x="214.57" y="479.38" width="34.97" height="7.89" fill="#ccc0e2"/>
<rect x="249.23" y="427.00" width="34.97" height="2.58" fill="#fae8e3"/>
<rect x="249.23" y="429.28" width="34.97" height="2.58" fill="#f9dbcf"/>
<rect x="249.23" y="431.55" width="34.97" height="3.34" fill="#fae8e3"/>
<rect x="249.23" y="434.59" width="34.97" height="2.58" fill="#f9dbcf"/>
<rect x="249.23" y="436.87" width="34.97" height="13.96" fill="#f9f3f3"/>
<rect x="249.23" y="450.53" width="34.97" height="3.34" fill="#f2edf3"/>
<rect x="249.23" y="453.57" width="34.97" height="8.95" fill="#ebe4f0"/>
<rect x="249.23" y="462.22" width="34.97" height="3.03" fill="#d1c6e5"/>
<rect x="249.23" y="464.96" width="34.97" height="3.34" fill="#b1a2d2"/>
<rect x="249.23" y="467.99" width="34.97" height="7.89" fill="#927fc1"/>
<rect x="249.23" y="475.58" width="34.97" height="4.10" fill="#ccc0e2"/>
<rect x="249.23" y="479.38" width="34.97" height="3.34" fill="#e2daec"/>
<rect x="249.23" y="482.42" width="34.97" height="4.85" fill="#ccc0e2"/>
<rect x="75.90" y="487.00" width="34.97" height="2.58" fill="#fae4dc"/>
<rect x="75.90" y="489.28" width="34.97" height="6.37" fill="#f4eff4"/>
<rect x="75.90" y="495.35" width="34.97" height="3.34" fill="#fae4dc"/>
<rect x="75.90" y="498.39" width="34.97" height="6.37" fill="#f9d6c9"/>
<rect x="75.90" y="504.46" width="34.97" height="5.61" fill="#f9f1f0"/>
<rect x="75.90" y="509.77" width="34.97" height="3.34" fill="#f8ccbc"/>
<rect x="75.90" y="512.81" width="34.97" height="4.10" fill="#f2edf3"/>
<rect x="75.90" y="516.61" width="34.97" height="7.89" fill="#f9f5f6"/>
<rect x="75.90" y="524.20" width="34.97" height="2.88" fill="#ebe4f0"/>
<rect x="75.90" y="526.78" width="34.97" height="3.34" fill="#f5b5a0"/>
<rect x="75.90" y="529.81" width="34.97" height="3.03" fill="#f6beaa"/>
<rect x="75.90" y="532.55" width="34.97" height="2.58" fill="#f3a890"/>
<rect x="75.90" y="534.82" width="34.97" height="4.85" fill="#f8d1c2"/>
<rect x="75.90" y="539.38" width="34.97" height="7.89" fill="#f7c7b5"/>
<rect x="110.57" y="487.00" width="34.97" height="9.41" fill="#f6c2b0"/>
<rect x="110.57" y="496.11" width="34.97" height="3.03" fill="#f19a80"/>
<rect x="110.57" y="498.84" width="34.97" height="3.34" fill="#eb7051"/>
<rect x="110.57" y="501.88" width="34.97" height="8.19" fill="#f29e85"/>
<rect x="110.57" y="509.77" width="34.97" height="3.34" fill="#f9d6c9"/>
<rect x="110.57" y="512.81" width="34.97" height="3.34" fill="#fae4dc"/>
<rect x="110.57" y="515.85" width="34.97" height="7.89" fill="#f6c2b0"/>
<rect x="110.57" y="523.44" width="34.97" height="3.64" fill="#f5baa5"/>
<rect x="110.57" y="526.78" width="34.97" height="5.31" fill="#f8ccbc"/>
<rect x="110.57" y="531.79" width="34.97" height="4.10" fill="#fae0d6"/>
<rect x="110.57" y="535.58" width="34.97" height="4.85" fill="#f9d6c9"/>
<rect x="110.57" y="540.14" width="34.97" height="4.10" fill="#f9f5f6"/>
<rect x="110.57" y="543.93" width="34.97" height="3.34" fill="#fae8e3"/>
<rect x="145.23" y="487.00" width="34.97" height="8.65" fill="#f9dbcf"/>
<rect x="145.23" y="495.35" width="34.97" height="6.37" fill="#f9f5f6"/>
<rect x="145.23" y="501.42" width="34.97" height="6.37" fill="#e2daec"/>
<rect x="145.23" y="507.50" width="34.97" height="5.61" fill="#f8d1c2"/>
<rect x="145.23" y="512.81" width="34.97" height="3.34" fill="#ee8062"/>
<rect x="145.23" y="515.85" width="34.97" height="6.37" fill="#f5b5a0"/>
<rect x="145.23" y="521.92" width="34.97" height="5.16" fill="#f2a38b"/>
<rect x="145.23" y="526.78" width="34.97" height="6.07" fill="#f9dbcf"/>
<rect x="145.23" y="532.55" width="34.97" height="6.37" fill="#f7c7b5"/>
<rect x="145.23" y="538.62" width="34.97" height="4.85" fill="#f8ccbc"/>
<rect x="145.23" y="543.18" width="34.97" height="4.10" fill="#ee8568"/>
<rect x="179.90" y="487.00" width="34.97" height="3.34" fill="#f9f5f6"/>
<rect x="179.90" y="490.04" width="34.97" height="4.10" fill="#f9f1f0"/>
<rect x="179.90" y="493.83" width="34.97" height="2.58" fill="#f2edf3"/>
<rect x="179.90" y="496.11" width="34.97" height="8.65" fill="#e2daec"/>
<rect x="179.90" y="504.46" width="34.97" height="2.88" fill="#f9f5f6"/>
<rect x="179.90" y="507.04" width="34.97" height="6.07" fill="#8e7bbe"/>
<rect x="179.90" y="512.81" width="34.97" height="3.34" fill="#ac9bcf"/>
<rect x="179.90" y="515.85" width="34.97" height="11.23" fill="#8573ba"/>
<rect x="179.90" y="526.78" width="34.97" height="6.07" fill="#d7cde7"/>
<rect x="179.90" y="532.55" width="34.97" height="6.37" fill="#c7badf"/>
<rect x="179.90" y="538.62" width="34.97" height="5.61" fill="#ccc0e2"/>
<rect x="179.90" y="543.93" width="34.97" height="3.34" fill="#b6a8d6"/>
<rect x="214.57" y="487.00" width="34.97" height="3.34" fill="#ccc0e2"/>
<rect x="214.57" y="490.04" width="34.97" height="3.34" fill="#dcd3ea"/>
<rect x="214.57" y="493.07" width="34.97" height="2.58" fill="#f9f5f6"/>
<rect x="214.57" y="495.35" width="34.97" height="3.79" fill="#f9ede9"/>
<rect x="214.57" y="498.84" width="34.97" height="3.34" fill="#d7cde7"/>
<rect x="214.57" y="501.88" width="34.97" height="5.46" fill="#e2daec"/>
<rect x="214.57" y="507.04" width="34.97" height="3.03" fill="#f6c2b0"/>
<rect x="214.57" y="509.77" width="34.97" height="8.65" fill="#f9f3f3"/>
<rect x="214.57" y="518.12" width="34.97" height="2.88" fill="#fae4dc"/>
<rect x="214.57" y="520.71" width="34.97" height="3.79" fill="#f9f5f6"/>
<rect x="214.57" y="524.20" width="34.97" height="5.61" fill="#ece6f1"/>
<rect x="214.57" y="529.51" width="34.97" height="6.37" fill="#f7f3f5"/>
<rect x="214.57" y="535.58" width="34.97" height="4.85" fill="#f9f5f6"/>
<rect x="214.57" y="540.14" width="34.97" height="7.13" fill="#f9f1f0"/>
<rect x="249.23" y="487.00" width="34.97" height="3.34" fill="#c7badf"/>
<rect x="249.23" y="490.04" width="34.97" height="6.37" fill="#b6a8d6"/>
<rect x="249.23" y="496.11" width="34.97" height="5.61" fill="#927fc1"/>
<rect x="249.23" y="501.42" width="34.97" height="8.65" fill="#b6a8d6"/>
<rect x="249.23" y="509.77" width="34.97" height="4.85" fill="#ebe4f0"/>
<rect x="249.23" y="514.33" width="34.97" height="7.13" fill="#d1c6e5"/>
<rect x="249.23" y="521.16" width="34.97" height="5.92" fill="#f7f3f5"/>
<rect x="249.23" y="526.78" width="34.97" height="6.07" fill="#a18fc9"/>
<rect x="249.23" y="532.55" width="34.97" height="3.34" fill="#9683c3"/>
<rect x="249.23" y="535.58" width="34.97" height="4.85" fill="#c1b4dc"/>
<rect x="249.23" y="540.14" width="34.97" height="4.10" fill="#e2daec"/>
<rect x="249.23" y="543.93" width="34.97" height="3.34" fill="#9b89c6"/>
<rect x="75.90" y="547.00" width="34.97" height="2.58" fill="#f4b09a"/>
<rect x="75.90" y="549.28" width="34.97" height="5.61" fill="#f2a38b"/>
<rect x="75.90" y="554.59" width="34.97" height="6.37" fill="#f8d1c2"/>
<rect x="75.90" y="560.66" width="34.97" height="2.58" fill="#f9d6c9"/>
<rect x="75.90" y="562.94" width="34.97" height="6.37" fill="#fae4dc"/>
<rect x="75.90" y="569.01" width="34.97" height="4.85" fill="#f9d6c9"/>
<rect x="75.90" y="573.57" width="34.97" height="3.34" fill="#f9f1f0"/>
<rect x="75.90" y="576.61" width="34.97" height="3.34" fill="#f6c2b0"/>
<rect x="75.90" y="579.64" width="34.97" height="3.34" fill="#f9f1f0"/>
<rect x="75.90" y="582.68" width="34.97" height="3.34" fill="#f8ccbc"/>
<rect x="75.90" y="585.72" width="34.97" height="11.69" fill="#fae4dc"/>
<rect x="75.90" y="597.10" width="34.97" height="6.37" fill="#f8d1c2"/>
<rect x="75.90" y="603.18" width="34.97" height="4.10" fill="#f7c7b5"/>
<rect x="110.57" y="547.00" width="34.97" height="4.85" fill="#f2edf3"/>
<rect x="110.57" y="551.55" width="34.97" height="3.34" fill="#e9e2f0"/>
<rect x="110.57" y="554.59" width="34.97" height="6.37" fill="#f8d1c2"/>
<rect x="110.57" y="560.66" width="34.97" height="8.65" fill="#f6c2b0"/>
<rect x="110.57" y="569.01" width="34.97" height="7.89" fill="#f8d1c2"/>
<rect x="110.57" y="576.61" width="34.97" height="8.65" fill="#f3ac95"/>
<rect x="110.57" y="584.96" width="34.97" height="3.64" fill="#f29e85"/>
<rect x="110.57" y="588.30" width="34.97" height="10.62" fill="#f9d8cc"/>
<rect x="110.57" y="598.62" width="34.97" height="5.61" fill="#faded3"/>
<rect x="110.57" y="603.93" width="34.97" height="3.34" fill="#fae6e0"/>
<rect x="145.23" y="547.00" width="34.97" height="4.85" fill="#f29e85"/>
<rect x="145.23" y="551.55" width="34.97" height="3.34" fill="#f4b09a"/>
<rect x="145.23" y="554.59" width="34.97" height="5.61" fill="#fae6e0"/>
<rect x="145.23" y="559.91" width="34.97" height="6.37" fill="#f9f5f6"/>
<rect x="145.23" y="565.98" width="34.97" height="11.69" fill="#fae4dc"/>
<rect x="145.23" y="577.36" width="34.97" height="7.89" fill="#f9dbcf"/>
<rect x="145.23" y="584.96" width="34.97" height="9.41" fill="#f8d1c2"/>
<rect x="145.23" y="594.07" width="34.97" height="3.34" fill="#f7c7b5"/>
<rect x="145.23" y="597.10" width="34.97" height="10.17" fill="#f8d1c2"/>
<rect x="179.90" y="547.00" width="34.97" height="2.58" fill="#c1b4dc"/>
<rect x="179.90" y="549.28" width="34.97" height="5.61" fill="#9683c3"/>
<rect x="179.90" y="554.59" width="34.97" height="3.34" fill="#c1b4dc"/>
<rect x="179.90" y="557.63" width="34.97" height="5.61" fill="#dcd3ea"/>
<rect x="179.90" y="562.94" width="34.97" height="11.69" fill="#e9e2f0"/>
<rect x="179.90" y="574.33" width="34.97" height="3.03" fill="#e2daec"/>
<rect x="179.90" y="577.06" width="34.97" height="3.34" fill="#a695cc"/>
<rect x="179.90" y="580.10" width="34.97" height="8.19" fill="#d1c6e5"/>
<rect x="179.90" y="587.99" width="34.97" height="8.65" fill="#e9e2f0"/>
<rect x="179.90" y="596.34" width="34.97" height="3.34" fill="#f9f5f6"/>
<rect x="179.90" y="599.38" width="34.97" height="4.85" fill="#e4ddee"/>
<rect x="179.90" y="603.93" width="34.97" height="3.34" fill="#dcd3ea"/>
<rect x="214.57" y="547.00" width="34.97" height="5.61" fill="#f5f1f5"/>
<rect x="214.57" y="552.31" width="34.97" height="3.34" fill="#f9f5f6"/>
<rect x="214.57" y="555.35" width="34.97" height="2.58" fill="#e7e0ef"/>
<rect x="214.57" y="557.63" width="34.97" height="5.61" fill="#d1c6e5"/>
<rect x="214.57" y="562.94" width="34.97" height="11.69" fill="#e9e2f0"/>
<rect x="214.57" y="574.33" width="34.97" height="3.34" fill="#f9f5f6"/>
<rect x="214.57" y="577.36" width="34.97" height="5.61" fill="#f0eaf2"/>
<rect x="214.57" y="582.68" width="34.97" height="5.61" fill="#dcd3ea"/>
<rect x="214.57" y="587.99" width="34.97" height="10.93" fill="#e9e2f0"/>
<rect x="214.57" y="598.62" width="34.97" height="4.10" fill="#d1c6e5"/>
<rect x="214.57" y="602.42" width="34.97" height="4.85" fill="#e4ddee"/>
<rect x="249.23" y="547.00" width="34.97" height="2.58" fill="#c7badf"/>
<rect x="249.23" y="549.28" width="34.97" height="5.61" fill="#e2daec"/>
<rect x="249.23" y="554.59" width="34.97" height="8.65" fill="#f9f5f6"/>
<rect x="249.23" y="562.94" width="34.97" height="11.69" fill="#e9e2f0"/>
<rect x="249.23" y="574.33" width="34.97" height="3.03" fill="#eee8f2"/>
<rect x="249.23" y="577.06" width="34.97" height="5.92" fill="#d4cae6"/>
<rect x="249.23" y="582.68" width="34.97" height="5.61" fill="#dcd3ea"/>
<rect x="249.23" y="587.99" width="34.97" height="10.93" fill="#e9e2f0"/>
<rect x="249.23" y="598.62" width="34.97" height="8.65" fill="#e4ddee"/>
<rect x="75.90" y="607.00" width="34.97" height="6.37" fill="#f8d1c2"/>
<rect x="75.90" y="613.07" width="34.97" height="6.07" fill="#f3ac95"/>
<rect x="75.90" y="618.84" width="34.97" height="3.64" fill="#f8ccbc"/>
<rect x="75.90" y="622.18" width="34.97" height="21.56" fill="#f9d6c9"/>
<rect x="75.90" y="643.44" width="34.97" height="6.37" fill="#f8ccbc"/>
<rect x="75.90" y="649.51" width="34.97" height="5.61" fill="#fae4dc"/>
<rect x="75.90" y="654.82" width="34.97" height="3.34" fill="#f9f1f0"/>
<rect x="75.90" y="657.86" width="34.97" height="9.41" fill="#fae4dc"/>
<rect x="110.57" y="607.00" width="34.97" height="1.82" fill="#fae8e3"/>
<rect x="110.57" y="608.52" width="34.97" height="7.13" fill="#f8ccbc"/>
<rect x="110.57" y="615.35" width="34.97" height="17.76" fill="#fae8e3"/>
<rect x="110.57" y="632.81" width="34.97" height="3.34" fill="#f9f5f6"/>
<rect x="110.57" y="635.85" width="34.97" height="8.65" fill="#faded3"/>
<rect x="110.57" y="644.20" width="34.97" height="2.58" fill="#fae6e0"/>
<rect x="110.57" y="646.47" width="34.97" height="3.34" fill="#f9dbcf"/>
<rect x="110.57" y="649.51" width="34.97" height="5.61" fill="#fae8e3"/>
<rect x="110.57" y="654.82" width="34.97" height="3.34" fill="#fae4dc"/>
<rect x="110.57" y="657.86" width="34.97" height="6.37" fill="#f9f3f3"/>
<rect x="110.57" y="663.93" width="34.97" height="3.34" fill="#f9ede9"/>
<rect x="145.23" y="607.00" width="34.97" height="4.10" fill="#f9d6c9"/>
<rect x="145.23" y="610.80" width="34.97" height="2.58" fill="#f9f1f0"/>
<rect x="145.23" y="613.07" width="34.97" height="2.58" fill="#f9d6c9"/>
<rect x="145.23" y="615.35" width="34.97" height="4.10" fill="#f9dbcf"/>
<rect x="145.23" y="619.15" width="34.97" height="5.61" fill="#fae8e3"/>
<rect x="145.23" y="624.46" width="34.97" height="5.61" fill="#f9efec"/>
<rect x="145.23" y="629.77" width="34.97" height="4.10" fill="#f9f3f3"/>
<rect x="145.23" y="633.57" width="34.97" height="16.24" fill="#f9f5f6"/>
<rect x="145.23" y="649.51" width="34.97" height="12.45" fill="#fae0d6"/>
<rect x="145.23" y="661.66" width="34.97" height="5.61" fill="#f9efec"/>
<rect x="179.90" y="607.00" width="34.97" height="6.37" fill="#e7e0ef"/>
<rect x="179.90" y="613.07" width="34.97" height="3.03" fill="#dcd3ea"/>
<rect x="179.90" y="615.81" width="34.97" height="3.64" fill="#f2edf3"/>
<rect x="179.90" y="619.15" width="34.97" height="3.34" fill="#e7e0ef"/>
<rect x="179.90" y="622.18" width="34.97" height="45.09" fill="#eee8f2"/>
<rect x="214.57" y="607.00" width="34.97" height="1.51" fill="#e7e0ef"/>
<rect x="214.57" y="608.21" width="34.97" height="5.16" fill="#f9f5f6"/>
<rect x="214.57" y="613.07" width="34.97" height="6.37" fill="#d4cae6"/>
<rect x="214.57" y="619.15" width="34.97" height="3.34" fill="#f9f5f6"/>
<rect x="214.57" y="622.18" width="34.97" height="45.09" fill="#eee8f2"/>
<rect x="249.23" y="607.00" width="34.97" height="6.37" fill="#c7badf"/>
<rect x="249.23" y="613.07" width="34.97" height="6.37" fill="#d7cde7"/>
<rect x="249.23" y="619.15" width="34.97" height="3.34" fill="#e7e0ef"/>
<rect x="249.23" y="622.18" width="34.97" height="45.09" fill="#eee8f2"/>
<rect x="75.90" y="667.00" width="34.97" height="7.89" fill="#fae6e0"/>
<rect x="75.90" y="674.59" width="34.97" height="3.64" fill="#f5baa5"/>
<rect x="75.90" y="677.93" width="34.97" height="3.03" fill="#f7c7b5"/>
<rect x="75.90" y="680.66" width="34.97" height="11.69" fill="#f5baa5"/>
<rect x="75.90" y="692.05" width="34.97" height="5.61" fill="#f9f3f3"/>
<rect x="75.90" y="697.36" width="34.97" height="2.58" fill="#f7c7b5"/>
<rect x="75.90" y="699.64" width="34.97" height="4.10" fill="#f5baa5"/>
<rect x="75.90" y="703.44" width="34.97" height="5.61" fill="#f8ccbc"/>
<rect x="75.90" y="708.75" width="34.97" height="5.61" fill="#f9f1f0"/>
<rect x="75.90" y="714.07" width="34.97" height="3.34" fill="#f9dbcf"/>
<rect x="75.90" y="717.10" width="34.97" height="5.61" fill="#f8ccbc"/>
<rect x="75.90" y="722.42" width="34.97" height="2.58" fill="#f9f1f0"/>
<rect x="75.90" y="724.69" width="34.97" height="2.58" fill="#f8ccbc"/>
<rect x="110.57" y="667.00" width="34.97" height="7.89" fill="#f9f1f0"/>
<rect x="110.57" y="674.59" width="34.97" height="2.58" fill="#fae8e3"/>
<rect x="110.57" y="676.87" width="34.97" height="5.61" fill="#f9efec"/>
<rect x="110.57" y="682.18" width="34.97" height="4.10" fill="#f9f5f6"/>
<rect x="110.57" y="685.98" width="34.97" height="2.58" fill="#f5f1f5"/>
<rect x="110.57" y="688.26" width="34.97" height="4.10" fill="#f9f5f6"/>
<rect x="110.57" y="692.05" width="34.97" height="2.58" fill="#f7c7b5"/>
<rect x="110.57" y="694.33" width="34.97" height="3.34" fill="#f5baa5"/>
<rect x="110.57" y="697.36" width="34.97" height="3.34" fill="#f9d6c9"/>
<rect x="110.57" y="700.40" width="34.97" height="5.61" fill="#f7c7b5"/>
<rect x="110.57" y="705.72" width="34.97" height="3.34" fill="#f3ac95"/>
<rect x="110.57" y="708.75" width="34.97" height="4.10" fill="#f6beaa"/>
<rect x="110.57" y="712.55" width="34.97" height="4.85" fill="#f7c7b5"/>
<rect x="110.57" y="717.10" width="34.97" height="10.17" fill="#f9f1f0"/>
<rect x="145.23" y="667.00" width="34.97" height="7.89" fill="#fae6e0"/>
<rect x="145.23" y="674.59" width="34.97" height="6.37" fill="#f7f3f5"/>
<rect x="145.23" y="680.66" width="34.97" height="5.61" fill="#f9f5f6"/>
<rect x="145.23" y="685.98" width="34.97" height="6.37" fill="#f8d1c2"/>
<rect x="145.23" y="692.05" width="34.97" height="10.93" fill="#f6c2b0"/>
<rect x="145.23" y="702.68" width="34.97" height="4.85" fill="#f7f3f5"/>
<rect x="145.23" y="707.23" width="34.97" height="10.17" fill="#fae4dc"/>
<rect x="145.23" y="717.10" width="34.97" height="7.89" fill="#f29e85"/>
<rect x="145.23" y="724.69" width="34.97" height="2.58" fill="#f5baa5"/>
<rect x="179.90" y="667.00" width="34.97" height="7.89" fill="#f2edf3"/>
<rect x="179.90" y="674.59" width="34.97" height="3.64" fill="#e7e0ef"/>
<rect x="179.90" y="677.93" width="34.97" height="8.35" fill="#ece6f1"/>
<rect x="179.90" y="685.98" width="34.97" height="3.34" fill="#e2daec"/>
<rect x="179.90" y="689.01" width="34.97" height="5.61" fill="#bcaed9"/>
<rect x="179.90" y="694.33" width="34.97" height="3.34" fill="#eee8f2"/>
<rect x="179.90" y="697.36" width="34.97" height="3.03" fill="#f9f5f6"/>
<rect x="179.90" y="700.10" width="34.97" height="3.34" fill="#c7badf"/>
<rect x="179.90" y="703.13" width="34.97" height="8.19" fill="#f4eff4"/>
<rect x="179.90" y="711.03" width="34.97" height="5.61" fill="#f9f5f6"/>
<rect x="179.90" y="716.34" width="34.97" height="4.10" fill="#8e7bbe"/>
<rect x="179.90" y="720.14" width="34.97" height="3.34" fill="#b6a8d6"/>
<rect x="179.90" y="723.18" width="34.97" height="4.10" fill="#ccc0e2"/>
<rect x="214.57" y="667.00" width="34.97" height="7.89" fill="#f2edf3"/>
<rect x="214.57" y="674.59" width="34.97" height="3.64" fill="#f9f5f6"/>
<rect x="214.57" y="677.93" width="34.97" height="8.35" fill="#ece6f1"/>
<rect x="214.57" y="685.98" width="34.97" height="3.34" fill="#e2daec"/>
<rect x="214.57" y="689.01" width="34.97" height="3.34" fill="#f9f5f6"/>
<rect x="214.57" y="692.05" width="34.97" height="2.58" fill="#c7badf"/>
<rect x="214.57" y="694.33" width="34.97" height="10.17" fill="#9683c3"/>
<rect x="214.57" y="704.20" width="34.97" height="2.58" fill="#c1b4dc"/>
<rect x="214.57" y="706.47" width="34.97" height="3.34" fill="#927fc1"/>
<rect x="214.57" y="709.51" width="34.97" height="2.58" fill="#ccc0e2"/>
<rect x="214.57" y="711.79" width="34.97" height="5.61" fill="#b6a8d6"/>
<rect x="214.57" y="717.10" width="34.97" height="3.34" fill="#d7cde7"/>
<rect x="214.57" y="720.14" width="34.97" height="3.34" fill="#bcaed9"/>
<rect x="214.57" y="723.18" width="34.97" height="4.10" fill="#eee8f2"/>
<rect x="249.23" y="667.00" width="34.97" height="7.89" fill="#f2edf3"/>
<rect x="249.23" y="674.59" width="34.97" height="3.64" fill="#e7e0ef"/>
<rect x="249.23" y="677.93" width="34.97" height="8.35" fill="#ece6f1"/>
<rect x="249.23" y="685.98" width="34.97" height="3.34" fill="#f9f5f6"/>
<rect x="249.23" y="689.01" width="34.97" height="3.34" fill="#f2edf3"/>
<rect x="249.23" y="692.05" width="34.97" height="10.93" fill="#f9f5f6"/>
<rect x="249.23" y="702.68" width="34.97" height="3.34" fill="#eee8f2"/>
<rect x="249.23" y="705.72" width="34.97" height="5.61" fill="#e7e0ef"/>
<rect x="249.23" y="711.03" width="34.97" height="6.37" fill="#ece6f1"/>
<rect x="249.23" y="717.10" width="34.97" height="2.58" fill="#f9f1f0"/>
<rect x="249.23" y="719.38" width="34.97" height="4.10" fill="#f9d6c9"/>
<rect x="249.23" y="723.18" width="34.97" height="4.10" fill="#f5f1f5"/>
<rect x="75.90" y="727.04" width="34.97" height="1.51" fill="#f8d1c2"/>
<rect x="75.90" y="728.26" width="34.97" height="10.93" fill="#f9f3f3"/>
<rect x="75.90" y="738.88" width="34.97" height="3.64" fill="#f8d1c2"/>
<rect x="75.90" y="742.22" width="34.97" height="5.77" fill="#f29e85"/>
<rect x="110.57" y="727.04" width="34.97" height="4.55" fill="#f9f5f6"/>
<rect x="110.57" y="731.29" width="34.97" height="7.89" fill="#f8ccbc"/>
<rect x="110.57" y="738.88" width="34.97" height="3.64" fill="#f3ac95"/>
<rect x="110.57" y="742.22" width="34.97" height="3.03" fill="#f9d6c9"/>
<rect x="110.57" y="744.96" width="34.97" height="3.03" fill="#f5baa5"/>
<rect x="145.23" y="727.04" width="34.97" height="7.59" fill="#f5baa5"/>
<rect x="145.23" y="734.33" width="34.97" height="4.85" fill="#f7c7b5"/>
<rect x="145.23" y="738.88" width="34.97" height="3.34" fill="#fae0d6"/>
<rect x="145.23" y="741.92" width="34.97" height="6.07" fill="#f7f3f5"/>
<rect x="179.90" y="727.04" width="34.97" height="4.55" fill="#ece6f1"/>
<rect x="179.90" y="731.29" width="34.97" height="7.89" fill="#b6a8d6"/>
<rect x="179.90" y="738.88" width="34.97" height="6.37" fill="#8977bc"/>
<rect x="179.90" y="744.96" width="34.97" height="3.03" fill="#bcaed9"/>
<rect x="214.57" y="727.04" width="34.97" height="3.79" fill="#eee8f2"/>
<rect x="214.57" y="730.53" width="34.97" height="4.10" fill="#f9f5f6"/>
<rect x="214.57" y="734.33" width="34.97" height="4.85" fill="#ebe4f0"/>
<rect x="214.57" y="738.88" width="34.97" height="3.34" fill="#d7cde7"/>
<rect x="214.57" y="741.92" width="34.97" height="3.34" fill="#eee8f2"/>
<rect x="214.57" y="744.96" width="34.97" height="3.03" fill="#d1c6e5"/>
<rect x="249.23" y="727.04" width="34.97" height="7.59" fill="#eee8f2"/>
<rect x="249.23" y="734.33" width="34.97" height="4.85" fill="#ece6f1"/>
<rect x="249.23" y="738.88" width="34.97" height="9.11" fill="#f7f3f5"/>
</g>
<text x="99.23" y="785.40" font-size="10.5" fill="#474747" transform="rotate(-90 99.23 785.40)">GFP<tspan dy="-4" font-size="6">-</tspan><tspan dy="4"> 1</tspan></text>
<text x="133.90" y="785.40" font-size="10.5" fill="#474747" transform="rotate(-90 133.90 785.40)">GFP<tspan dy="-4" font-size="6">-</tspan><tspan dy="4"> 2</tspan></text>
<text x="168.57" y="785.40" font-size="10.5" fill="#474747" transform="rotate(-90 168.57 785.40)">GFP<tspan dy="-4" font-size="6">-</tspan><tspan dy="4"> 3</tspan></text>
<text x="203.23" y="785.40" font-size="10.5" fill="#474747" transform="rotate(-90 203.23 785.40)">GFP<tspan dy="-4" font-size="6">+</tspan><tspan dy="4"> 1</tspan></text>
<text x="237.90" y="785.40" font-size="10.5" fill="#474747" transform="rotate(-90 237.90 785.40)">GFP<tspan dy="-4" font-size="6">+</tspan><tspan dy="4"> 2</tspan></text>
<text x="272.57" y="785.40" font-size="10.5" fill="#474747" transform="rotate(-90 272.57 785.40)">GFP<tspan dy="-4" font-size="6">+</tspan><tspan dy="4"> 3</tspan></text>
<g stroke="#4a4a4a" stroke-width="0.75" fill="none">
<line x1="69.5" y1="192.3" x2="69.5" y2="195.3"/>
<line x1="69.5" y1="192.3" x2="72.5" y2="192.3"/>
<line x1="69.5" y1="195.3" x2="72.5" y2="195.3"/>
<line x1="68.2" y1="189.3" x2="68.2" y2="193.8"/>
<line x1="68.2" y1="189.3" x2="72.5" y2="189.3"/>
<line x1="68.2" y1="193.8" x2="69.5" y2="193.8"/>
<line x1="66.7" y1="191.6" x2="66.7" y2="198.3"/>
<line x1="66.7" y1="191.6" x2="68.2" y2="191.6"/>
<line x1="66.7" y1="198.3" x2="72.5" y2="198.3"/>
<line x1="68.0" y1="201.3" x2="68.0" y2="204.4"/>
<line x1="68.0" y1="201.3" x2="72.5" y2="201.3"/>
<line x1="68.0" y1="204.4" x2="72.5" y2="204.4"/>
<line x1="53.4" y1="194.9" x2="53.4" y2="202.9"/>
<line x1="53.4" y1="194.9" x2="66.7" y2="194.9"/>
<line x1="53.4" y1="202.9" x2="68.0" y2="202.9"/>
<line x1="69.2" y1="210.4" x2="69.2" y2="213.4"/>
<line x1="69.2" y1="210.4" x2="72.5" y2="210.4"/>
<line x1="69.2" y1="213.4" x2="72.5" y2="213.4"/>
<line x1="66.8" y1="207.4" x2="66.8" y2="211.9"/>
<line x1="66.8" y1="207.4" x2="72.5" y2="207.4"/>
<line x1="66.8" y1="211.9" x2="69.2" y2="211.9"/>
<line x1="70.4" y1="219.4" x2="70.4" y2="222.4"/>
<line x1="70.4" y1="219.4" x2="72.5" y2="219.4"/>
<line x1="70.4" y1="222.4" x2="72.5" y2="222.4"/>
<line x1="69.0" y1="216.4" x2="69.0" y2="220.9"/>
<line x1="69.0" y1="216.4" x2="72.5" y2="216.4"/>
<line x1="69.0" y1="220.9" x2="70.4" y2="220.9"/>
<line x1="67.6" y1="218.7" x2="67.6" y2="225.4"/>
<line x1="67.6" y1="218.7" x2="69.0" y2="218.7"/>
<line x1="67.6" y1="225.4" x2="72.5" y2="225.4"/>
<line x1="64.5" y1="209.6" x2="64.5" y2="222.0"/>
<line x1="64.5" y1="209.6" x2="66.8" y2="209.6"/>
<line x1="64.5" y1="222.0" x2="67.6" y2="222.0"/>
<line x1="70.7" y1="228.4" x2="70.7" y2="231.4"/>
<line x1="70.7" y1="228.4" x2="72.5" y2="228.4"/>
<line x1="70.7" y1="231.4" x2="72.5" y2="231.4"/>
<line x1="70.7" y1="234.5" x2="70.7" y2="237.5"/>
<line x1="70.7" y1="234.5" x2="72.5" y2="234.5"/>
<line x1="70.7" y1="237.5" x2="72.5" y2="237.5"/>
<line x1="69.8" y1="229.9" x2="69.8" y2="236.0"/>
<line x1="69.8" y1="229.9" x2="70.7" y2="229.9"/>
<line x1="69.8" y1="236.0" x2="70.7" y2="236.0"/>
<line x1="70.0" y1="240.5" x2="70.0" y2="243.5"/>
<line x1="70.0" y1="240.5" x2="72.5" y2="240.5"/>
<line x1="70.0" y1="243.5" x2="72.5" y2="243.5"/>
<line x1="68.9" y1="233.0" x2="68.9" y2="242.0"/>
<line x1="68.9" y1="233.0" x2="69.8" y2="233.0"/>
<line x1="68.9" y1="242.0" x2="70.0" y2="242.0"/>
<line x1="70.3" y1="249.5" x2="70.3" y2="252.5"/>
<line x1="70.3" y1="249.5" x2="72.5" y2="249.5"/>
<line x1="70.3" y1="252.5" x2="72.5" y2="252.5"/>
<line x1="69.2" y1="246.5" x2="69.2" y2="251.0"/>
<line x1="69.2" y1="246.5" x2="72.5" y2="246.5"/>
<line x1="69.2" y1="251.0" x2="70.3" y2="251.0"/>
<line x1="68.2" y1="248.8" x2="68.2" y2="255.5"/>
<line x1="68.2" y1="248.8" x2="69.2" y2="248.8"/>
<line x1="68.2" y1="255.5" x2="72.5" y2="255.5"/>
<line x1="66.2" y1="237.5" x2="66.2" y2="252.1"/>
<line x1="66.2" y1="237.5" x2="68.9" y2="237.5"/>
<line x1="66.2" y1="252.1" x2="68.2" y2="252.1"/>
<line x1="70.3" y1="258.5" x2="70.3" y2="261.6"/>
<line x1="70.3" y1="258.5" x2="72.5" y2="258.5"/>
<line x1="70.3" y1="261.6" x2="72.5" y2="261.6"/>
<line x1="71.3" y1="267.6" x2="71.3" y2="270.6"/>
<line x1="71.3" y1="267.6" x2="72.5" y2="267.6"/>
<line x1="71.3" y1="270.6" x2="72.5" y2="270.6"/>
<line x1="70.8" y1="264.6" x2="70.8" y2="269.1"/>
<line x1="70.8" y1="264.6" x2="72.5" y2="264.6"/>
<line x1="70.8" y1="269.1" x2="71.3" y2="269.1"/>
<line x1="70.3" y1="273.6" x2="70.3" y2="276.6"/>
<line x1="70.3" y1="273.6" x2="72.5" y2="273.6"/>
<line x1="70.3" y1="276.6" x2="72.5" y2="276.6"/>
<line x1="69.7" y1="266.8" x2="69.7" y2="275.1"/>
<line x1="69.7" y1="266.8" x2="70.8" y2="266.8"/>
<line x1="69.7" y1="275.1" x2="70.3" y2="275.1"/>
<line x1="68.9" y1="260.0" x2="68.9" y2="271.0"/>
<line x1="68.9" y1="260.0" x2="70.3" y2="260.0"/>
<line x1="68.9" y1="271.0" x2="69.7" y2="271.0"/>
<line x1="69.7" y1="279.6" x2="69.7" y2="282.6"/>
<line x1="69.7" y1="279.6" x2="72.5" y2="279.6"/>
<line x1="69.7" y1="282.6" x2="72.5" y2="282.6"/>
<line x1="69.6" y1="285.6" x2="69.6" y2="288.6"/>
<line x1="69.6" y1="285.6" x2="72.5" y2="285.6"/>
<line x1="69.6" y1="288.6" x2="72.5" y2="288.6"/>
<line x1="68.6" y1="281.1" x2="68.6" y2="287.1"/>
<line x1="68.6" y1="281.1" x2="69.7" y2="281.1"/>
<line x1="68.6" y1="287.1" x2="69.6" y2="287.1"/>
<line x1="66.1" y1="265.5" x2="66.1" y2="284.1"/>
<line x1="66.1" y1="265.5" x2="68.9" y2="265.5"/>
<line x1="66.1" y1="284.1" x2="68.6" y2="284.1"/>
<line x1="60.1" y1="244.8" x2="60.1" y2="274.8"/>
<line x1="60.1" y1="244.8" x2="66.2" y2="244.8"/>
<line x1="60.1" y1="274.8" x2="66.1" y2="274.8"/>
<line x1="49.6" y1="215.8" x2="49.6" y2="259.8"/>
<line x1="49.6" y1="215.8" x2="64.5" y2="215.8"/>
<line x1="49.6" y1="259.8" x2="60.1" y2="259.8"/>
<line x1="68.9" y1="291.7" x2="68.9" y2="294.7"/>
<line x1="68.9" y1="291.7" x2="72.5" y2="291.7"/>
<line x1="68.9" y1="294.7" x2="72.5" y2="294.7"/>
<line x1="67.5" y1="293.2" x2="67.5" y2="297.7"/>
<line x1="67.5" y1="293.2" x2="68.9" y2="293.2"/>
<line x1="67.5" y1="297.7" x2="72.5" y2="297.7"/>
<line x1="69.3" y1="303.7" x2="69.3" y2="306.7"/>
<line x1="69.3" y1="303.7" x2="72.5" y2="303.7"/>
<line x1="69.3" y1="306.7" x2="72.5" y2="306.7"/>
<line x1="68.1" y1="300.7" x2="68.1" y2="305.2"/>
<line x1="68.1" y1="300.7" x2="72.5" y2="300.7"/>
<line x1="68.1" y1="305.2" x2="69.3" y2="305.2"/>
<line x1="65.4" y1="295.4" x2="65.4" y2="302.9"/>
<line x1="65.4" y1="295.4" x2="67.5" y2="295.4"/>
<line x1="65.4" y1="302.9" x2="68.1" y2="302.9"/>
<line x1="70.2" y1="312.7" x2="70.2" y2="315.7"/>
<line x1="70.2" y1="312.7" x2="72.5" y2="312.7"/>
<line x1="70.2" y1="315.7" x2="72.5" y2="315.7"/>
<line x1="69.1" y1="309.7" x2="69.1" y2="314.2"/>
<line x1="69.1" y1="309.7" x2="72.5" y2="309.7"/>
<line x1="69.1" y1="314.2" x2="70.2" y2="314.2"/>
<line x1="68.4" y1="318.7" x2="68.4" y2="321.8"/>
<line x1="68.4" y1="318.7" x2="72.5" y2="318.7"/>
<line x1="68.4" y1="321.8" x2="72.5" y2="321.8"/>
<line x1="67.1" y1="312.0" x2="67.1" y2="320.2"/>
<line x1="67.1" y1="312.0" x2="69.1" y2="312.0"/>
<line x1="67.1" y1="320.2" x2="68.4" y2="320.2"/>
<line x1="69.7" y1="324.8" x2="69.7" y2="327.8"/>
<line x1="69.7" y1="324.8" x2="72.5" y2="324.8"/>
<line x1="69.7" y1="327.8" x2="72.5" y2="327.8"/>
<line x1="67.3" y1="326.3" x2="67.3" y2="330.8"/>
<line x1="67.3" y1="326.3" x2="69.7" y2="326.3"/>
<line x1="67.3" y1="330.8" x2="72.5" y2="330.8"/>
<line x1="65.4" y1="316.1" x2="65.4" y2="328.5"/>
<line x1="65.4" y1="316.1" x2="67.1" y2="316.1"/>
<line x1="65.4" y1="328.5" x2="67.3" y2="328.5"/>
<line x1="56.0" y1="299.2" x2="56.0" y2="322.3"/>
<line x1="56.0" y1="299.2" x2="65.4" y2="299.2"/>
<line x1="56.0" y1="322.3" x2="65.4" y2="322.3"/>
<line x1="68.3" y1="333.8" x2="68.3" y2="336.8"/>
<line x1="68.3" y1="333.8" x2="72.5" y2="333.8"/>
<line x1="68.3" y1="336.8" x2="72.5" y2="336.8"/>
<line x1="67.2" y1="335.3" x2="67.2" y2="339.8"/>
<line x1="67.2" y1="335.3" x2="68.3" y2="335.3"/>
<line x1="67.2" y1="339.8" x2="72.5" y2="339.8"/>
<line x1="69.1" y1="342.8" x2="69.1" y2="345.8"/>
<line x1="69.1" y1="342.8" x2="72.5" y2="342.8"/>
<line x1="69.1" y1="345.8" x2="72.5" y2="345.8"/>
<line x1="64.1" y1="337.6" x2="64.1" y2="344.3"/>
<line x1="64.1" y1="337.6" x2="67.2" y2="337.6"/>
<line x1="64.1" y1="344.3" x2="69.1" y2="344.3"/>
<line x1="68.0" y1="348.8" x2="68.0" y2="351.9"/>
<line x1="68.0" y1="348.8" x2="72.5" y2="348.8"/>
<line x1="68.0" y1="351.9" x2="72.5" y2="351.9"/>
<line x1="68.5" y1="354.9" x2="68.5" y2="357.9"/>
<line x1="68.5" y1="354.9" x2="72.5" y2="354.9"/>
<line x1="68.5" y1="357.9" x2="72.5" y2="357.9"/>
<line x1="66.5" y1="350.4" x2="66.5" y2="356.4"/>
<line x1="66.5" y1="350.4" x2="68.0" y2="350.4"/>
<line x1="66.5" y1="356.4" x2="68.5" y2="356.4"/>
<line x1="67.8" y1="360.9" x2="67.8" y2="363.9"/>
<line x1="67.8" y1="360.9" x2="72.5" y2="360.9"/>
<line x1="67.8" y1="363.9" x2="72.5" y2="363.9"/>
<line x1="68.9" y1="366.9" x2="68.9" y2="369.9"/>
<line x1="68.9" y1="366.9" x2="72.5" y2="366.9"/>
<line x1="68.9" y1="369.9" x2="72.5" y2="369.9"/>
<line x1="66.2" y1="362.4" x2="66.2" y2="368.4"/>
<line x1="66.2" y1="362.4" x2="67.8" y2="362.4"/>
<line x1="66.2" y1="368.4" x2="68.9" y2="368.4"/>
<line x1="68.8" y1="375.9" x2="68.8" y2="378.9"/>
<line x1="68.8" y1="375.9" x2="72.5" y2="375.9"/>
<line x1="68.8" y1="378.9" x2="72.5" y2="378.9"/>
<line x1="67.4" y1="372.9" x2="67.4" y2="377.4"/>
<line x1="67.4" y1="372.9" x2="72.5" y2="372.9"/>
<line x1="67.4" y1="377.4" x2="68.8" y2="377.4"/>
<line x1="69.6" y1="385.0" x2="69.6" y2="388.0"/>
<line x1="69.6" y1="385.0" x2="72.5" y2="385.0"/>
<line x1="69.6" y1="388.0" x2="72.5" y2="388.0"/>
<line x1="67.9" y1="382.0" x2="67.9" y2="386.5"/>
<line x1="67.9" y1="382.0" x2="72.5" y2="382.0"/>
<line x1="67.9" y1="386.5" x2="69.6" y2="386.5"/>
<line x1="65.1" y1="375.2" x2="65.1" y2="384.2"/>
<line x1="65.1" y1="375.2" x2="67.4" y2="375.2"/>
<line x1="65.1" y1="384.2" x2="67.9" y2="384.2"/>
<line x1="62.2" y1="365.4" x2="62.2" y2="379.7"/>
<line x1="62.2" y1="365.4" x2="66.2" y2="365.4"/>
<line x1="62.2" y1="379.7" x2="65.1" y2="379.7"/>
<line x1="70.4" y1="391.0" x2="70.4" y2="394.0"/>
<line x1="70.4" y1="391.0" x2="72.5" y2="391.0"/>
<line x1="70.4" y1="394.0" x2="72.5" y2="394.0"/>
<line x1="69.0" y1="392.5" x2="69.0" y2="397.0"/>
<line x1="69.0" y1="392.5" x2="70.4" y2="392.5"/>
<line x1="69.0" y1="397.0" x2="72.5" y2="397.0"/>
<line x1="69.1" y1="400.0" x2="69.1" y2="403.0"/>
<line x1="69.1" y1="400.0" x2="72.5" y2="400.0"/>
<line x1="69.1" y1="403.0" x2="72.5" y2="403.0"/>
<line x1="67.0" y1="394.8" x2="67.0" y2="401.5"/>
<line x1="67.0" y1="394.8" x2="69.0" y2="394.8"/>
<line x1="67.0" y1="401.5" x2="69.1" y2="401.5"/>
<line x1="69.9" y1="406.0" x2="69.9" y2="409.1"/>
<line x1="69.9" y1="406.0" x2="72.5" y2="406.0"/>
<line x1="69.9" y1="409.1" x2="72.5" y2="409.1"/>
<line x1="69.6" y1="412.1" x2="69.6" y2="415.1"/>
<line x1="69.6" y1="412.1" x2="72.5" y2="412.1"/>
<line x1="69.6" y1="415.1" x2="72.5" y2="415.1"/>
<line x1="68.2" y1="407.5" x2="68.2" y2="413.6"/>
<line x1="68.2" y1="407.5" x2="69.9" y2="407.5"/>
<line x1="68.2" y1="413.6" x2="69.6" y2="413.6"/>
<line x1="65.2" y1="398.1" x2="65.2" y2="410.6"/>
<line x1="65.2" y1="398.1" x2="67.0" y2="398.1"/>
<line x1="65.2" y1="410.6" x2="68.2" y2="410.6"/>
<line x1="70.5" y1="418.1" x2="70.5" y2="421.1"/>
<line x1="70.5" y1="418.1" x2="72.5" y2="418.1"/>
<line x1="70.5" y1="421.1" x2="72.5" y2="421.1"/>
<line x1="69.0" y1="419.6" x2="69.0" y2="424.1"/>
<line x1="69.0" y1="419.6" x2="70.5" y2="419.6"/>
<line x1="69.0" y1="424.1" x2="72.5" y2="424.1"/>
<line x1="70.5" y1="427.1" x2="70.5" y2="430.1"/>
<line x1="70.5" y1="427.1" x2="72.5" y2="427.1"/>
<line x1="70.5" y1="430.1" x2="72.5" y2="430.1"/>
<line x1="69.4" y1="428.6" x2="69.4" y2="433.1"/>
<line x1="69.4" y1="428.6" x2="70.5" y2="428.6"/>
<line x1="69.4" y1="433.1" x2="72.5" y2="433.1"/>
<line x1="67.5" y1="421.8" x2="67.5" y2="430.9"/>
<line x1="67.5" y1="421.8" x2="69.0" y2="421.8"/>
<line x1="67.5" y1="430.9" x2="69.4" y2="430.9"/>
<line x1="63.1" y1="404.3" x2="63.1" y2="426.4"/>
<line x1="63.1" y1="404.3" x2="65.2" y2="404.3"/>
<line x1="63.1" y1="426.4" x2="67.5" y2="426.4"/>
<line x1="56.3" y1="372.6" x2="56.3" y2="415.4"/>
<line x1="56.3" y1="372.6" x2="62.2" y2="372.6"/>
<line x1="56.3" y1="415.4" x2="63.1" y2="415.4"/>
<line x1="70.7" y1="436.1" x2="70.7" y2="439.2"/>
<line x1="70.7" y1="436.1" x2="72.5" y2="436.1"/>
<line x1="70.7" y1="439.2" x2="72.5" y2="439.2"/>
<line x1="69.9" y1="442.2" x2="69.9" y2="445.2"/>
<line x1="69.9" y1="442.2" x2="72.5" y2="442.2"/>
<line x1="69.9" y1="445.2" x2="72.5" y2="445.2"/>
<line x1="69.2" y1="437.6" x2="69.2" y2="443.7"/>
<line x1="69.2" y1="437.6" x2="70.7" y2="437.6"/>
<line x1="69.2" y1="443.7" x2="69.9" y2="443.7"/>
<line x1="68.0" y1="448.2" x2="68.0" y2="451.2"/>
<line x1="68.0" y1="448.2" x2="72.5" y2="448.2"/>
<line x1="68.0" y1="451.2" x2="72.5" y2="451.2"/>
<line x1="66.5" y1="440.7" x2="66.5" y2="449.7"/>
<line x1="66.5" y1="440.7" x2="69.2" y2="440.7"/>
<line x1="66.5" y1="449.7" x2="68.0" y2="449.7"/>
<line x1="69.0" y1="457.2" x2="69.0" y2="460.2"/>
<line x1="69.0" y1="457.2" x2="72.5" y2="457.2"/>
<line x1="69.0" y1="460.2" x2="72.5" y2="460.2"/>
<line x1="66.2" y1="454.2" x2="66.2" y2="458.7"/>
<line x1="66.2" y1="454.2" x2="72.5" y2="454.2"/>
<line x1="66.2" y1="458.7" x2="69.0" y2="458.7"/>
<line x1="63.1" y1="445.2" x2="63.1" y2="456.5"/>
<line x1="63.1" y1="445.2" x2="66.5" y2="445.2"/>
<line x1="63.1" y1="456.5" x2="66.2" y2="456.5"/>
<line x1="54.3" y1="394.0" x2="54.3" y2="450.8"/>
<line x1="54.3" y1="394.0" x2="56.3" y2="394.0"/>
<line x1="54.3" y1="450.8" x2="63.1" y2="450.8"/>
<line x1="53.8" y1="353.4" x2="53.8" y2="422.4"/>
<line x1="53.8" y1="353.4" x2="66.5" y2="353.4"/>
<line x1="53.8" y1="422.4" x2="54.3" y2="422.4"/>
<line x1="53.0" y1="340.9" x2="53.0" y2="387.9"/>
<line x1="53.0" y1="340.9" x2="64.1" y2="340.9"/>
<line x1="53.0" y1="387.9" x2="53.8" y2="387.9"/>
<line x1="51.5" y1="310.7" x2="51.5" y2="364.4"/>
<line x1="51.5" y1="310.7" x2="56.0" y2="310.7"/>
<line x1="51.5" y1="364.4" x2="53.0" y2="364.4"/>
<line x1="48.1" y1="237.8" x2="48.1" y2="337.6"/>
<line x1="48.1" y1="237.8" x2="49.6" y2="237.8"/>
<line x1="48.1" y1="337.6" x2="51.5" y2="337.6"/>
<line x1="39.6" y1="198.9" x2="39.6" y2="287.7"/>
<line x1="39.6" y1="198.9" x2="53.4" y2="198.9"/>
<line x1="39.6" y1="287.7" x2="48.1" y2="287.7"/>
<line x1="69.9" y1="463.2" x2="69.9" y2="466.2"/>
<line x1="69.9" y1="463.2" x2="72.5" y2="463.2"/>
<line x1="69.9" y1="466.2" x2="72.5" y2="466.2"/>
<line x1="68.2" y1="464.7" x2="68.2" y2="469.3"/>
<line x1="68.2" y1="464.7" x2="69.9" y2="464.7"/>
<line x1="68.2" y1="469.3" x2="72.5" y2="469.3"/>
<line x1="68.9" y1="472.3" x2="68.9" y2="475.3"/>
<line x1="68.9" y1="472.3" x2="72.5" y2="472.3"/>
<line x1="68.9" y1="475.3" x2="72.5" y2="475.3"/>
<line x1="69.2" y1="478.3" x2="69.2" y2="481.3"/>
<line x1="69.2" y1="478.3" x2="72.5" y2="478.3"/>
<line x1="69.2" y1="481.3" x2="72.5" y2="481.3"/>
<line x1="66.6" y1="473.8" x2="66.6" y2="479.8"/>
<line x1="66.6" y1="473.8" x2="68.9" y2="473.8"/>
<line x1="66.6" y1="479.8" x2="69.2" y2="479.8"/>
<line x1="64.3" y1="467.0" x2="64.3" y2="476.8"/>
<line x1="64.3" y1="467.0" x2="68.2" y2="467.0"/>
<line x1="64.3" y1="476.8" x2="66.6" y2="476.8"/>
<line x1="69.1" y1="487.3" x2="69.1" y2="490.3"/>
<line x1="69.1" y1="487.3" x2="72.5" y2="487.3"/>
<line x1="69.1" y1="490.3" x2="72.5" y2="490.3"/>
<line x1="67.5" y1="484.3" x2="67.5" y2="488.8"/>
<line x1="67.5" y1="484.3" x2="72.5" y2="484.3"/>
<line x1="67.5" y1="488.8" x2="69.1" y2="488.8"/>
<line x1="69.8" y1="496.3" x2="69.8" y2="499.4"/>
<line x1="69.8" y1="496.3" x2="72.5" y2="496.3"/>
<line x1="69.8" y1="499.4" x2="72.5" y2="499.4"/>
<line x1="69.0" y1="493.3" x2="69.0" y2="497.9"/>
<line x1="69.0" y1="493.3" x2="72.5" y2="493.3"/>
<line x1="69.0" y1="497.9" x2="69.8" y2="497.9"/>
<line x1="68.4" y1="502.4" x2="68.4" y2="505.4"/>
<line x1="68.4" y1="502.4" x2="72.5" y2="502.4"/>
<line x1="68.4" y1="505.4" x2="72.5" y2="505.4"/>
<line x1="65.7" y1="495.6" x2="65.7" y2="503.9"/>
<line x1="65.7" y1="495.6" x2="69.0" y2="495.6"/>
<line x1="65.7" y1="503.9" x2="68.4" y2="503.9"/>
<line x1="63.4" y1="486.6" x2="63.4" y2="499.7"/>
<line x1="63.4" y1="486.6" x2="67.5" y2="486.6"/>
<line x1="63.4" y1="499.7" x2="65.7" y2="499.7"/>
<line x1="54.0" y1="471.9" x2="54.0" y2="493.1"/>
<line x1="54.0" y1="471.9" x2="64.3" y2="471.9"/>
<line x1="54.0" y1="493.1" x2="63.4" y2="493.1"/>
<line x1="69.8" y1="508.4" x2="69.8" y2="511.4"/>
<line x1="69.8" y1="508.4" x2="72.5" y2="508.4"/>
<line x1="69.8" y1="511.4" x2="72.5" y2="511.4"/>
<line x1="67.4" y1="509.9" x2="67.4" y2="514.4"/>
<line x1="67.4" y1="509.9" x2="69.8" y2="509.9"/>
<line x1="67.4" y1="514.4" x2="72.5" y2="514.4"/>
<line x1="70.4" y1="520.4" x2="70.4" y2="523.4"/>
<line x1="70.4" y1="520.4" x2="72.5" y2="520.4"/>
<line x1="70.4" y1="523.4" x2="72.5" y2="523.4"/>
<line x1="69.1" y1="517.4" x2="69.1" y2="521.9"/>
<line x1="69.1" y1="517.4" x2="72.5" y2="517.4"/>
<line x1="69.1" y1="521.9" x2="70.4" y2="521.9"/>
<line x1="70.4" y1="526.4" x2="70.4" y2="529.5"/>
<line x1="70.4" y1="526.4" x2="72.5" y2="526.4"/>
<line x1="70.4" y1="529.5" x2="72.5" y2="529.5"/>
<line x1="69.3" y1="528.0" x2="69.3" y2="532.5"/>
<line x1="69.3" y1="528.0" x2="70.4" y2="528.0"/>
<line x1="69.3" y1="532.5" x2="72.5" y2="532.5"/>
<line x1="66.4" y1="519.7" x2="66.4" y2="530.2"/>
<line x1="66.4" y1="519.7" x2="69.1" y2="519.7"/>
<line x1="66.4" y1="530.2" x2="69.3" y2="530.2"/>
<line x1="62.8" y1="512.2" x2="62.8" y2="524.9"/>
<line x1="62.8" y1="512.2" x2="67.4" y2="512.2"/>
<line x1="62.8" y1="524.9" x2="66.4" y2="524.9"/>
<line x1="70.0" y1="538.5" x2="70.0" y2="541.5"/>
<line x1="70.0" y1="538.5" x2="72.5" y2="538.5"/>
<line x1="70.0" y1="541.5" x2="72.5" y2="541.5"/>
<line x1="67.6" y1="535.5" x2="67.6" y2="540.0"/>
<line x1="67.6" y1="535.5" x2="72.5" y2="535.5"/>
<line x1="67.6" y1="540.0" x2="70.0" y2="540.0"/>
<line x1="70.0" y1="544.5" x2="70.0" y2="547.5"/>
<line x1="70.0" y1="544.5" x2="72.5" y2="544.5"/>
<line x1="70.0" y1="547.5" x2="72.5" y2="547.5"/>
<line x1="70.4" y1="550.5" x2="70.4" y2="553.5"/>
<line x1="70.4" y1="550.5" x2="72.5" y2="550.5"/>
<line x1="70.4" y1="553.5" x2="72.5" y2="553.5"/>
<line x1="68.9" y1="546.0" x2="68.9" y2="552.0"/>
<line x1="68.9" y1="546.0" x2="70.0" y2="546.0"/>
<line x1="68.9" y1="552.0" x2="70.4" y2="552.0"/>
<line x1="67.9" y1="556.6" x2="67.9" y2="559.6"/>
<line x1="67.9" y1="556.6" x2="72.5" y2="556.6"/>
<line x1="67.9" y1="559.6" x2="72.5" y2="559.6"/>
<line x1="66.4" y1="549.0" x2="66.4" y2="558.1"/>
<line x1="66.4" y1="549.0" x2="68.9" y2="549.0"/>
<line x1="66.4" y1="558.1" x2="67.9" y2="558.1"/>
<line x1="62.7" y1="537.7" x2="62.7" y2="553.5"/>
<line x1="62.7" y1="537.7" x2="67.6" y2="537.7"/>
<line x1="62.7" y1="553.5" x2="66.4" y2="553.5"/>
<line x1="55.0" y1="518.5" x2="55.0" y2="545.6"/>
<line x1="55.0" y1="518.5" x2="62.8" y2="518.5"/>
<line x1="55.0" y1="545.6" x2="62.7" y2="545.6"/>
<line x1="69.1" y1="562.6" x2="69.1" y2="565.6"/>
<line x1="69.1" y1="562.6" x2="72.5" y2="562.6"/>
<line x1="69.1" y1="565.6" x2="72.5" y2="565.6"/>
<line x1="67.9" y1="564.1" x2="67.9" y2="568.6"/>
<line x1="67.9" y1="564.1" x2="69.1" y2="564.1"/>
<line x1="67.9" y1="568.6" x2="72.5" y2="568.6"/>
<line x1="71.0" y1="571.6" x2="71.0" y2="574.6"/>
<line x1="71.0" y1="571.6" x2="72.5" y2="571.6"/>
<line x1="71.0" y1="574.6" x2="72.5" y2="574.6"/>
<line x1="70.8" y1="577.6" x2="70.8" y2="580.6"/>
<line x1="70.8" y1="577.6" x2="72.5" y2="577.6"/>
<line x1="70.8" y1="580.6" x2="72.5" y2="580.6"/>
<line x1="69.5" y1="573.1" x2="69.5" y2="579.1"/>
<line x1="69.5" y1="573.1" x2="71.0" y2="573.1"/>
<line x1="69.5" y1="579.1" x2="70.8" y2="579.1"/>
<line x1="71.3" y1="583.6" x2="71.3" y2="586.7"/>
<line x1="71.3" y1="583.6" x2="72.5" y2="583.6"/>
<line x1="71.3" y1="586.7" x2="72.5" y2="586.7"/>
<line x1="71.3" y1="589.7" x2="71.3" y2="592.7"/>
<line x1="71.3" y1="589.7" x2="72.5" y2="589.7"/>
<line x1="71.3" y1="592.7" x2="72.5" y2="592.7"/>
<line x1="70.5" y1="585.1" x2="70.5" y2="591.2"/>
<line x1="70.5" y1="585.1" x2="71.3" y2="585.1"/>
<line x1="70.5" y1="591.2" x2="71.3" y2="591.2"/>
<line x1="68.7" y1="576.1" x2="68.7" y2="588.2"/>
<line x1="68.7" y1="576.1" x2="69.5" y2="576.1"/>
<line x1="68.7" y1="588.2" x2="70.5" y2="588.2"/>
<line x1="65.0" y1="566.3" x2="65.0" y2="582.1"/>
<line x1="65.0" y1="566.3" x2="67.9" y2="566.3"/>
<line x1="65.0" y1="582.1" x2="68.7" y2="582.1"/>
<line x1="70.5" y1="598.7" x2="70.5" y2="601.7"/>
<line x1="70.5" y1="598.7" x2="72.5" y2="598.7"/>
<line x1="70.5" y1="601.7" x2="72.5" y2="601.7"/>
<line x1="68.7" y1="600.2" x2="68.7" y2="604.7"/>
<line x1="68.7" y1="600.2" x2="70.5" y2="600.2"/>
<line x1="68.7" y1="604.7" x2="72.5" y2="604.7"/>
<line x1="67.4" y1="595.7" x2="67.4" y2="602.5"/>
<line x1="67.4" y1="595.7" x2="72.5" y2="595.7"/>
<line x1="67.4" y1="602.5" x2="68.7" y2="602.5"/>
<line x1="70.5" y1="607.7" x2="70.5" y2="610.7"/>
<line x1="70.5" y1="607.7" x2="72.5" y2="607.7"/>
<line x1="70.5" y1="610.7" x2="72.5" y2="610.7"/>
<line x1="68.9" y1="609.2" x2="68.9" y2="613.7"/>
<line x1="68.9" y1="609.2" x2="70.5" y2="609.2"/>
<line x1="68.9" y1="613.7" x2="72.5" y2="613.7"/>
<line x1="71.1" y1="616.8" x2="71.1" y2="619.8"/>
<line x1="71.1" y1="616.8" x2="72.5" y2="616.8"/>
<line x1="71.1" y1="619.8" x2="72.5" y2="619.8"/>
<line x1="70.1" y1="618.3" x2="70.1" y2="622.8"/>
<line x1="70.1" y1="618.3" x2="71.1" y2="618.3"/>
<line x1="70.1" y1="622.8" x2="72.5" y2="622.8"/>
<line x1="70.7" y1="625.8" x2="70.7" y2="628.8"/>
<line x1="70.7" y1="625.8" x2="72.5" y2="625.8"/>
<line x1="70.7" y1="628.8" x2="72.5" y2="628.8"/>
<line x1="69.2" y1="620.5" x2="69.2" y2="627.3"/>
<line x1="69.2" y1="620.5" x2="70.1" y2="620.5"/>
<line x1="69.2" y1="627.3" x2="70.7" y2="627.3"/>
<line x1="67.1" y1="611.5" x2="67.1" y2="623.9"/>
<line x1="67.1" y1="611.5" x2="68.9" y2="611.5"/>
<line x1="67.1" y1="623.9" x2="69.2" y2="623.9"/>
<line x1="63.6" y1="599.1" x2="63.6" y2="617.7"/>
<line x1="63.6" y1="599.1" x2="67.4" y2="599.1"/>
<line x1="63.6" y1="617.7" x2="67.1" y2="617.7"/>
<line x1="69.6" y1="631.8" x2="69.6" y2="634.8"/>
<line x1="69.6" y1="631.8" x2="72.5" y2="631.8"/>
<line x1="69.6" y1="634.8" x2="72.5" y2="634.8"/>
<line x1="70.5" y1="637.8" x2="70.5" y2="640.8"/>
<line x1="70.5" y1="637.8" x2="72.5" y2="637.8"/>
<line x1="70.5" y1="640.8" x2="72.5" y2="640.8"/>
<line x1="71.3" y1="643.8" x2="71.3" y2="646.9"/>
<line x1="71.3" y1="643.8" x2="72.5" y2="643.8"/>
<line x1="71.3" y1="646.9" x2="72.5" y2="646.9"/>
<line x1="71.2" y1="645.4" x2="71.2" y2="649.9"/>
<line x1="71.2" y1="645.4" x2="71.3" y2="645.4"/>
<line x1="71.2" y1="649.9" x2="72.5" y2="649.9"/>
<line x1="69.9" y1="639.3" x2="69.9" y2="647.6"/>
<line x1="69.9" y1="639.3" x2="70.5" y2="639.3"/>
<line x1="69.9" y1="647.6" x2="71.2" y2="647.6"/>
<line x1="67.8" y1="633.3" x2="67.8" y2="643.5"/>
<line x1="67.8" y1="633.3" x2="69.6" y2="633.3"/>
<line x1="67.8" y1="643.5" x2="69.9" y2="643.5"/>
<line x1="68.6" y1="652.9" x2="68.6" y2="655.9"/>
<line x1="68.6" y1="652.9" x2="72.5" y2="652.9"/>
<line x1="68.6" y1="655.9" x2="72.5" y2="655.9"/>
<line x1="66.6" y1="654.4" x2="66.6" y2="658.9"/>
<line x1="66.6" y1="654.4" x2="68.6" y2="654.4"/>
<line x1="66.6" y1="658.9" x2="72.5" y2="658.9"/>
<line x1="64.8" y1="638.4" x2="64.8" y2="656.6"/>
<line x1="64.8" y1="638.4" x2="67.8" y2="638.4"/>
<line x1="64.8" y1="656.6" x2="66.6" y2="656.6"/>
<line x1="68.0" y1="661.9" x2="68.0" y2="664.9"/>
<line x1="68.0" y1="661.9" x2="72.5" y2="661.9"/>
<line x1="68.0" y1="664.9" x2="72.5" y2="664.9"/>
<line x1="69.4" y1="670.9" x2="69.4" y2="673.9"/>
<line x1="69.4" y1="670.9" x2="72.5" y2="670.9"/>
<line x1="69.4" y1="673.9" x2="72.5" y2="673.9"/>
<line x1="68.3" y1="667.9" x2="68.3" y2="672.4"/>
<line x1="68.3" y1="667.9" x2="72.5" y2="667.9"/>
<line x1="68.3" y1="672.4" x2="69.4" y2="672.4"/>
<line x1="66.3" y1="663.4" x2="66.3" y2="670.2"/>
<line x1="66.3" y1="663.4" x2="68.0" y2="663.4"/>
<line x1="66.3" y1="670.2" x2="68.3" y2="670.2"/>
<line x1="70.1" y1="677.0" x2="70.1" y2="680.0"/>
<line x1="70.1" y1="677.0" x2="72.5" y2="677.0"/>
<line x1="70.1" y1="680.0" x2="72.5" y2="680.0"/>
<line x1="68.6" y1="678.5" x2="68.6" y2="683.0"/>
<line x1="68.6" y1="678.5" x2="70.1" y2="678.5"/>
<line x1="68.6" y1="683.0" x2="72.5" y2="683.0"/>
<line x1="70.4" y1="686.0" x2="70.4" y2="689.0"/>
<line x1="70.4" y1="686.0" x2="72.5" y2="686.0"/>
<line x1="70.4" y1="689.0" x2="72.5" y2="689.0"/>
<line x1="71.2" y1="695.0" x2="71.2" y2="698.0"/>
<line x1="71.2" y1="695.0" x2="72.5" y2="695.0"/>
<line x1="71.2" y1="698.0" x2="72.5" y2="698.0"/>
<line x1="70.8" y1="692.0" x2="70.8" y2="696.5"/>
<line x1="70.8" y1="692.0" x2="72.5" y2="692.0"/>
<line x1="70.8" y1="696.5" x2="71.2" y2="696.5"/>
<line x1="69.4" y1="687.5" x2="69.4" y2="694.3"/>
<line x1="69.4" y1="687.5" x2="70.4" y2="687.5"/>
<line x1="69.4" y1="694.3" x2="70.8" y2="694.3"/>
<line x1="70.7" y1="704.1" x2="70.7" y2="707.1"/>
<line x1="70.7" y1="704.1" x2="72.5" y2="704.1"/>
<line x1="70.7" y1="707.1" x2="72.5" y2="707.1"/>
<line x1="70.0" y1="701.0" x2="70.0" y2="705.6"/>
<line x1="70.0" y1="701.0" x2="72.5" y2="701.0"/>
<line x1="70.0" y1="705.6" x2="70.7" y2="705.6"/>
<line x1="68.1" y1="690.9" x2="68.1" y2="703.3"/>
<line x1="68.1" y1="690.9" x2="69.4" y2="690.9"/>
<line x1="68.1" y1="703.3" x2="70.0" y2="703.3"/>
<line x1="65.8" y1="680.7" x2="65.8" y2="697.1"/>
<line x1="65.8" y1="680.7" x2="68.6" y2="680.7"/>
<line x1="65.8" y1="697.1" x2="68.1" y2="697.1"/>
<line x1="60.7" y1="666.8" x2="60.7" y2="688.9"/>
<line x1="60.7" y1="666.8" x2="66.3" y2="666.8"/>
<line x1="60.7" y1="688.9" x2="65.8" y2="688.9"/>
<line x1="70.2" y1="710.1" x2="70.2" y2="713.1"/>
<line x1="70.2" y1="710.1" x2="72.5" y2="710.1"/>
<line x1="70.2" y1="713.1" x2="72.5" y2="713.1"/>
<line x1="70.1" y1="716.1" x2="70.1" y2="719.1"/>
<line x1="70.1" y1="716.1" x2="72.5" y2="716.1"/>
<line x1="70.1" y1="719.1" x2="72.5" y2="719.1"/>
<line x1="68.7" y1="711.6" x2="68.7" y2="717.6"/>
<line x1="68.7" y1="711.6" x2="70.2" y2="711.6"/>
<line x1="68.7" y1="717.6" x2="70.1" y2="717.6"/>
<line x1="69.5" y1="722.1" x2="69.5" y2="725.1"/>
<line x1="69.5" y1="722.1" x2="72.5" y2="722.1"/>
<line x1="69.5" y1="725.1" x2="72.5" y2="725.1"/>
<line x1="68.6" y1="723.6" x2="68.6" y2="728.1"/>
<line x1="68.6" y1="723.6" x2="69.5" y2="723.6"/>
<line x1="68.6" y1="728.1" x2="72.5" y2="728.1"/>
<line x1="66.9" y1="714.6" x2="66.9" y2="725.9"/>
<line x1="66.9" y1="714.6" x2="68.7" y2="714.6"/>
<line x1="66.9" y1="725.9" x2="68.6" y2="725.9"/>
<line x1="69.6" y1="734.2" x2="69.6" y2="737.2"/>
<line x1="69.6" y1="734.2" x2="72.5" y2="734.2"/>
<line x1="69.6" y1="737.2" x2="72.5" y2="737.2"/>
<line x1="67.5" y1="731.1" x2="67.5" y2="735.7"/>
<line x1="67.5" y1="731.1" x2="72.5" y2="731.1"/>
<line x1="67.5" y1="735.7" x2="69.6" y2="735.7"/>
<line x1="69.5" y1="740.2" x2="69.5" y2="743.2"/>
<line x1="69.5" y1="740.2" x2="72.5" y2="740.2"/>
<line x1="69.5" y1="743.2" x2="72.5" y2="743.2"/>
<line x1="68.0" y1="741.7" x2="68.0" y2="746.2"/>
<line x1="68.0" y1="741.7" x2="69.5" y2="741.7"/>
<line x1="68.0" y1="746.2" x2="72.5" y2="746.2"/>
<line x1="65.7" y1="733.4" x2="65.7" y2="743.9"/>
<line x1="65.7" y1="733.4" x2="67.5" y2="733.4"/>
<line x1="65.7" y1="743.9" x2="68.0" y2="743.9"/>
<line x1="63.6" y1="720.2" x2="63.6" y2="738.7"/>
<line x1="63.6" y1="720.2" x2="66.9" y2="720.2"/>
<line x1="63.6" y1="738.7" x2="65.7" y2="738.7"/>
<line x1="57.4" y1="677.9" x2="57.4" y2="729.5"/>
<line x1="57.4" y1="677.9" x2="60.7" y2="677.9"/>
<line x1="57.4" y1="729.5" x2="63.6" y2="729.5"/>
<line x1="55.2" y1="647.5" x2="55.2" y2="703.7"/>
<line x1="55.2" y1="647.5" x2="64.8" y2="647.5"/>
<line x1="55.2" y1="703.7" x2="57.4" y2="703.7"/>
<line x1="54.2" y1="608.4" x2="54.2" y2="675.6"/>
<line x1="54.2" y1="608.4" x2="63.6" y2="608.4"/>
<line x1="54.2" y1="675.6" x2="55.2" y2="675.6"/>
<line x1="53.2" y1="574.2" x2="53.2" y2="642.0"/>
<line x1="53.2" y1="574.2" x2="65.0" y2="574.2"/>
<line x1="53.2" y1="642.0" x2="54.2" y2="642.0"/>
<line x1="52.2" y1="532.1" x2="52.2" y2="608.1"/>
<line x1="52.2" y1="532.1" x2="55.0" y2="532.1"/>
<line x1="52.2" y1="608.1" x2="53.2" y2="608.1"/>
<line x1="50.9" y1="482.5" x2="50.9" y2="570.1"/>
<line x1="50.9" y1="482.5" x2="54.0" y2="482.5"/>
<line x1="50.9" y1="570.1" x2="52.2" y2="570.1"/>
<line x1="18.2" y1="243.3" x2="18.2" y2="526.3"/>
<line x1="18.2" y1="243.3" x2="39.6" y2="243.3"/>
<line x1="18.2" y1="526.3" x2="50.9" y2="526.3"/>
</g>
<text x="297.70" y="395.70" font-size="11" fill="#474747">Expression</text>
<text x="297.70" y="409.30" font-size="11" fill="#474747">(Z-score)</text>
<defs><linearGradient id="zg" x1="0" y1="0" x2="0" y2="1"><stop offset="0" stop-color="#e3232a"/><stop offset="0.07" stop-color="#e3262b"/><stop offset="0.29" stop-color="#f3a38b"/><stop offset="0.5" stop-color="#f7f3f6"/><stop offset="0.71" stop-color="#8e7fc0"/><stop offset="0.93" stop-color="#3a50a4"/><stop offset="1" stop-color="#3a50a4"/></linearGradient></defs>
<rect x="297.90" y="423.30" width="10.00" height="52.40" fill="url(#zg)"/>
<line x1="297.90" y1="427.00" x2="300.20" y2="427.00" stroke="#ffffff" stroke-width="0.6"/>
<line x1="305.60" y1="427.00" x2="307.90" y2="427.00" stroke="#ffffff" stroke-width="0.6"/>
<text x="313.40" y="430.90" font-size="11" fill="#474747">2</text>
<line x1="297.90" y1="438.20" x2="300.20" y2="438.20" stroke="#ffffff" stroke-width="0.6"/>
<line x1="305.60" y1="438.20" x2="307.90" y2="438.20" stroke="#ffffff" stroke-width="0.6"/>
<text x="313.40" y="442.10" font-size="11" fill="#474747">1</text>
<line x1="297.90" y1="449.30" x2="300.20" y2="449.30" stroke="#ffffff" stroke-width="0.6"/>
<line x1="305.60" y1="449.30" x2="307.90" y2="449.30" stroke="#ffffff" stroke-width="0.6"/>
<text x="313.40" y="453.20" font-size="11" fill="#474747">0</text>
<line x1="297.90" y1="460.40" x2="300.20" y2="460.40" stroke="#ffffff" stroke-width="0.6"/>
<line x1="305.60" y1="460.40" x2="307.90" y2="460.40" stroke="#ffffff" stroke-width="0.6"/>
<text x="311.40" y="464.30" font-size="11" fill="#474747">-1</text>
<line x1="297.90" y1="471.60" x2="300.20" y2="471.60" stroke="#ffffff" stroke-width="0.6"/>
<line x1="305.60" y1="471.60" x2="307.90" y2="471.60" stroke="#ffffff" stroke-width="0.6"/>
<text x="311.40" y="475.50" font-size="11" fill="#474747">-2</text>
<text x="297.70" y="490.70" font-size="11" fill="#474747">Groups</text>
<rect x="298.00" y="497.30" width="9.40" height="8.70" fill="#ec7169"/>
<rect x="298.00" y="506.00" width="9.40" height="9.70" fill="#33bcbf"/>
<text x="308" y="504.0" font-size="11" fill="#474747">GFP<tspan dy="-4" font-size="7">-</tspan></text>
<text x="308" y="514.0" font-size="11" fill="#474747">GFP<tspan dy="-4" font-size="7">+</tspan></text>
<text x="405.80" y="166.50" font-size="12.5" font-weight="bold" fill="#000">c</text>
<text x="441.90" y="170.80" font-size="11.25" fill="#474747">circRNA host-chromosomes</text>
<line x1="442.60" y1="189.50" x2="442.60" y2="295.20" stroke="#111" stroke-width="1.2"/>
<line x1="442.00" y1="294.60" x2="599.70" y2="294.60" stroke="#111" stroke-width="1.2"/>
<line x1="438.00" y1="294.60" x2="442.60" y2="294.60" stroke="#111" stroke-width="1.1"/>
<text x="436.20" y="298.50" font-size="11" text-anchor="end" fill="#474747">0</text>
<line x1="438.00" y1="268.45" x2="442.60" y2="268.45" stroke="#111" stroke-width="1.1"/>
<text x="436.20" y="272.35" font-size="11" text-anchor="end" fill="#474747">100</text>
<line x1="438.00" y1="242.30" x2="442.60" y2="242.30" stroke="#111" stroke-width="1.1"/>
<text x="436.20" y="246.20" font-size="11" text-anchor="end" fill="#474747">200</text>
<line x1="438.00" y1="216.15" x2="442.60" y2="216.15" stroke="#111" stroke-width="1.1"/>
<text x="436.20" y="220.05" font-size="11" text-anchor="end" fill="#474747">300</text>
<line x1="438.00" y1="190.00" x2="442.60" y2="190.00" stroke="#111" stroke-width="1.1"/>
<text x="436.20" y="193.90" font-size="11" text-anchor="end" fill="#474747">400</text>
<rect x="445.90" y="222.69" width="3.40" height="71.91" fill="#a6a6a8"/>
<line x1="447.60" y1="294.60" x2="447.60" y2="299.20" stroke="#111" stroke-width="1.1"/>
<rect x="453.25" y="208.83" width="3.40" height="85.77" fill="#858585"/>
<line x1="454.95" y1="294.60" x2="454.95" y2="299.20" stroke="#111" stroke-width="1.1"/>
<rect x="460.60" y="249.62" width="3.40" height="44.98" fill="#d6d6d6"/>
<line x1="462.30" y1="294.60" x2="462.30" y2="299.20" stroke="#111" stroke-width="1.1"/>
<rect x="467.95" y="223.73" width="3.40" height="70.87" fill="#5d5d5d"/>
<line x1="469.65" y1="294.60" x2="469.65" y2="299.20" stroke="#111" stroke-width="1.1"/>
<rect x="475.30" y="222.43" width="3.40" height="72.17" fill="#a3a3a5"/>
<line x1="477.00" y1="294.60" x2="477.00" y2="299.20" stroke="#111" stroke-width="1.1"/>
<rect x="482.65" y="238.64" width="3.40" height="55.96" fill="#616161"/>
<line x1="484.35" y1="294.60" x2="484.35" y2="299.20" stroke="#111" stroke-width="1.1"/>
<rect x="490.00" y="253.81" width="3.40" height="40.79" fill="#e4e4e4"/>
<line x1="491.70" y1="294.60" x2="491.70" y2="299.20" stroke="#111" stroke-width="1.1"/>
<rect x="497.35" y="253.02" width="3.40" height="41.58" fill="#a8a8aa"/>
<line x1="499.05" y1="294.60" x2="499.05" y2="299.20" stroke="#111" stroke-width="1.1"/>
<rect x="504.70" y="231.84" width="3.40" height="62.76" fill="#0a0a0a"/>
<line x1="506.40" y1="294.60" x2="506.40" y2="299.20" stroke="#111" stroke-width="1.1"/>
<rect x="512.05" y="247.27" width="3.40" height="47.33" fill="#a3a3a5"/>
<line x1="513.75" y1="294.60" x2="513.75" y2="299.20" stroke="#111" stroke-width="1.1"/>
<rect x="519.40" y="234.19" width="3.40" height="60.41" fill="#838383"/>
<line x1="521.10" y1="294.60" x2="521.10" y2="299.20" stroke="#111" stroke-width="1.1"/>
<rect x="526.75" y="233.41" width="3.40" height="61.19" fill="#d9d9d9"/>
<line x1="528.45" y1="294.60" x2="528.45" y2="299.20" stroke="#111" stroke-width="1.1"/>
<rect x="534.10" y="249.88" width="3.40" height="44.72" fill="#626262"/>
<line x1="535.80" y1="294.60" x2="535.80" y2="299.20" stroke="#111" stroke-width="1.1"/>
<rect x="541.45" y="252.24" width="3.40" height="42.36" fill="#a3a3a5"/>
<line x1="543.15" y1="294.60" x2="543.15" y2="299.20" stroke="#111" stroke-width="1.1"/>
<rect x="548.80" y="256.42" width="3.40" height="38.18" fill="#646464"/>
<line x1="550.50" y1="294.60" x2="550.50" y2="299.20" stroke="#111" stroke-width="1.1"/>
<rect x="556.15" y="260.87" width="3.40" height="33.73" fill="#e6e6e6"/>
<line x1="557.85" y1="294.60" x2="557.85" y2="299.20" stroke="#111" stroke-width="1.1"/>
<rect x="563.50" y="256.16" width="3.40" height="38.44" fill="#a3a3a5"/>
<line x1="565.20" y1="294.60" x2="565.20" y2="299.20" stroke="#111" stroke-width="1.1"/>
<rect x="570.85" y="252.24" width="3.40" height="42.36" fill="#0a0a0a"/>
<line x1="572.55" y1="294.60" x2="572.55" y2="299.20" stroke="#111" stroke-width="1.1"/>
<rect x="578.20" y="262.96" width="3.40" height="31.64" fill="#a3a3a5"/>
<line x1="579.90" y1="294.60" x2="579.90" y2="299.20" stroke="#111" stroke-width="1.1"/>
<rect x="585.55" y="271.59" width="3.40" height="23.01" fill="#858585"/>
<line x1="587.25" y1="294.60" x2="587.25" y2="299.20" stroke="#111" stroke-width="1.1"/>
<line x1="594.60" y1="294.60" x2="594.60" y2="299.20" stroke="#111" stroke-width="1.1"/>
<text x="456.25" y="301.60" font-size="10.5" text-anchor="end" fill="#474747" transform="rotate(-45 456.25 301.60)" dominant-baseline="central">2</text>
<text x="470.95" y="301.60" font-size="10.5" text-anchor="end" fill="#474747" transform="rotate(-45 470.95 301.60)" dominant-baseline="central">4</text>
<text x="485.65" y="301.60" font-size="10.5" text-anchor="end" fill="#474747" transform="rotate(-45 485.65 301.60)" dominant-baseline="central">6</text>
<text x="500.35" y="301.60" font-size="10.5" text-anchor="end" fill="#474747" transform="rotate(-45 500.35 301.60)" dominant-baseline="central">8</text>
<text x="512.05" y="303.90" font-size="10.5" text-anchor="end" fill="#474747" letter-spacing="-3.2" transform="rotate(-45 512.05 303.90)" dominant-baseline="central">10</text>
<text x="526.75" y="303.90" font-size="10.5" text-anchor="end" fill="#474747" letter-spacing="-3.2" transform="rotate(-45 526.75 303.90)" dominant-baseline="central">12</text>
<text x="541.45" y="303.90" font-size="10.5" text-anchor="end" fill="#474747" letter-spacing="-3.2" transform="rotate(-45 541.45 303.90)" dominant-baseline="central">14</text>
<text x="556.15" y="303.90" font-size="10.5" text-anchor="end" fill="#474747" letter-spacing="-3.2" transform="rotate(-45 556.15 303.90)" dominant-baseline="central">16</text>
<text x="570.85" y="303.90" font-size="10.5" text-anchor="end" fill="#474747" letter-spacing="-3.2" transform="rotate(-45 570.85 303.90)" dominant-baseline="central">18</text>
<text x="588.55" y="301.60" font-size="10.5" text-anchor="end" fill="#474747" transform="rotate(-45 588.55 301.60)" dominant-baseline="central">X</text>
<text x="595.90" y="301.60" font-size="10.5" text-anchor="end" fill="#474747" transform="rotate(-45 595.90 301.60)" dominant-baseline="central">Y</text>
<text x="475.50" y="323.50" font-size="11" fill="#474747">Chromosomes</text>
<text x="413.2" y="238.2" font-size="11" text-anchor="middle" fill="#474747" transform="rotate(-90 413.2 238.2)">No. of circRNAs</text>
<text x="405.80" y="350.50" font-size="12.5" font-weight="bold" fill="#000">d</text>
<text x="441.80" y="353.80" font-size="11.3" fill="#474747">Predicted exons in circRNAs</text>
<line x1="443.30" y1="370.90" x2="443.30" y2="478.80" stroke="#111" stroke-width="1.2"/>
<line x1="442.70" y1="478.20" x2="685.00" y2="478.20" stroke="#111" stroke-width="1.2"/>
<line x1="437.50" y1="478.20" x2="443.30" y2="478.20" stroke="#111" stroke-width="1.1"/>
<text x="433.60" y="482.10" font-size="11" text-anchor="end" fill="#474747">0</text>
<line x1="437.50" y1="451.50" x2="443.30" y2="451.50" stroke="#111" stroke-width="1.1"/>
<text x="433.60" y="455.40" font-size="11" text-anchor="end" fill="#474747">200</text>
<line x1="437.50" y1="424.80" x2="443.30" y2="424.80" stroke="#111" stroke-width="1.1"/>
<text x="433.60" y="428.70" font-size="11" text-anchor="end" fill="#474747">400</text>
<line x1="437.50" y1="398.10" x2="443.30" y2="398.10" stroke="#111" stroke-width="1.1"/>
<text x="433.60" y="402.00" font-size="11" text-anchor="end" fill="#474747">600</text>
<line x1="437.50" y1="371.40" x2="443.30" y2="371.40" stroke="#111" stroke-width="1.1"/>
<text x="433.60" y="375.30" font-size="11" text-anchor="end" fill="#474747">800</text>
<rect x="447.35" y="474.60" width="3.30" height="3.60" fill="#a3a3a5"/>
<line x1="449.00" y1="478.20" x2="449.00" y2="482.80" stroke="#111" stroke-width="1.1"/>
<rect x="455.80" y="403.71" width="3.30" height="74.49" fill="#7d7d7d"/>
<line x1="457.45" y1="478.20" x2="457.45" y2="482.80" stroke="#111" stroke-width="1.1"/>
<rect x="464.25" y="386.62" width="3.30" height="91.58" fill="#dadada"/>
<line x1="465.90" y1="478.20" x2="465.90" y2="482.80" stroke="#111" stroke-width="1.1"/>
<rect x="472.70" y="391.83" width="3.30" height="86.37" fill="#5d5d5d"/>
<line x1="474.35" y1="478.20" x2="474.35" y2="482.80" stroke="#111" stroke-width="1.1"/>
<rect x="481.15" y="419.46" width="3.30" height="58.74" fill="#a3a3a5"/>
<line x1="482.80" y1="478.20" x2="482.80" y2="482.80" stroke="#111" stroke-width="1.1"/>
<rect x="489.60" y="437.48" width="3.30" height="40.72" fill="#646464"/>
<line x1="491.25" y1="478.20" x2="491.25" y2="482.80" stroke="#111" stroke-width="1.1"/>
<rect x="498.05" y="451.23" width="3.30" height="26.97" fill="#e6e6e6"/>
<line x1="499.70" y1="478.20" x2="499.70" y2="482.80" stroke="#111" stroke-width="1.1"/>
<rect x="506.50" y="456.57" width="3.30" height="21.63" fill="#a3a3a5"/>
<line x1="508.15" y1="478.20" x2="508.15" y2="482.80" stroke="#111" stroke-width="1.1"/>
<rect x="514.95" y="464.92" width="3.30" height="13.28" fill="#0a0a0a"/>
<line x1="516.60" y1="478.20" x2="516.60" y2="482.80" stroke="#111" stroke-width="1.1"/>
<rect x="523.40" y="467.12" width="3.30" height="11.08" fill="#a3a3a5"/>
<line x1="525.05" y1="478.20" x2="525.05" y2="482.80" stroke="#111" stroke-width="1.1"/>
<rect x="531.85" y="470.86" width="3.30" height="7.34" fill="#7d7d7d"/>
<line x1="533.50" y1="478.20" x2="533.50" y2="482.80" stroke="#111" stroke-width="1.1"/>
<rect x="540.30" y="473.66" width="3.30" height="4.54" fill="#dadada"/>
<line x1="541.95" y1="478.20" x2="541.95" y2="482.80" stroke="#111" stroke-width="1.1"/>
<rect x="548.75" y="475.26" width="3.30" height="2.94" fill="#5d5d5d"/>
<line x1="550.40" y1="478.20" x2="550.40" y2="482.80" stroke="#111" stroke-width="1.1"/>
<rect x="557.20" y="476.06" width="3.30" height="2.14" fill="#a3a3a5"/>
<line x1="558.85" y1="478.20" x2="558.85" y2="482.80" stroke="#111" stroke-width="1.1"/>
<rect x="565.65" y="477.13" width="3.30" height="1.07" fill="#646464"/>
<line x1="567.30" y1="478.20" x2="567.30" y2="482.80" stroke="#111" stroke-width="1.1"/>
<rect x="574.10" y="477.67" width="3.30" height="0.53" fill="#e6e6e6"/>
<line x1="575.75" y1="478.20" x2="575.75" y2="482.80" stroke="#111" stroke-width="1.1"/>
<rect x="582.55" y="477.93" width="3.30" height="0.27" fill="#a3a3a5"/>
<line x1="584.20" y1="478.20" x2="584.20" y2="482.80" stroke="#111" stroke-width="1.1"/>
<rect x="591.00" y="478.07" width="3.30" height="0.13" fill="#0a0a0a"/>
<line x1="592.65" y1="478.20" x2="592.65" y2="482.80" stroke="#111" stroke-width="1.1"/>
<line x1="601.10" y1="478.20" x2="601.10" y2="482.80" stroke="#111" stroke-width="1.1"/>
<line x1="609.55" y1="478.20" x2="609.55" y2="482.80" stroke="#111" stroke-width="1.1"/>
<line x1="618.00" y1="478.20" x2="618.00" y2="482.80" stroke="#111" stroke-width="1.1"/>
<line x1="626.45" y1="478.20" x2="626.45" y2="482.80" stroke="#111" stroke-width="1.1"/>
<line x1="634.90" y1="478.20" x2="634.90" y2="482.80" stroke="#111" stroke-width="1.1"/>
<line x1="643.35" y1="478.20" x2="643.35" y2="482.80" stroke="#111" stroke-width="1.1"/>
<line x1="651.80" y1="478.20" x2="651.80" y2="482.80" stroke="#111" stroke-width="1.1"/>
<line x1="660.25" y1="478.20" x2="660.25" y2="482.80" stroke="#111" stroke-width="1.1"/>
<line x1="668.70" y1="478.20" x2="668.70" y2="482.80" stroke="#111" stroke-width="1.1"/>
<line x1="677.15" y1="478.20" x2="677.15" y2="482.80" stroke="#111" stroke-width="1.1"/>
<text x="459.65" y="485.40" font-size="10.5" text-anchor="end" fill="#474747" transform="rotate(-45 459.65 485.40)" dominant-baseline="central">2</text>
<text x="476.55" y="485.40" font-size="10.5" text-anchor="end" fill="#474747" transform="rotate(-45 476.55 485.40)" dominant-baseline="central">4</text>
<text x="493.45" y="485.40" font-size="10.5" text-anchor="end" fill="#474747" transform="rotate(-45 493.45 485.40)" dominant-baseline="central">6</text>
<text x="510.35" y="485.40" font-size="10.5" text-anchor="end" fill="#474747" transform="rotate(-45 510.35 485.40)" dominant-baseline="central">8</text>
<text x="527.25" y="485.40" font-size="10.5" text-anchor="end" fill="#474747" transform="rotate(-45 527.25 485.40)" dominant-baseline="central">10</text>
<text x="544.15" y="485.40" font-size="10.5" text-anchor="end" fill="#474747" transform="rotate(-45 544.15 485.40)" dominant-baseline="central">12</text>
<text x="561.05" y="485.40" font-size="10.5" text-anchor="end" fill="#474747" transform="rotate(-45 561.05 485.40)" dominant-baseline="central">14</text>
<text x="577.95" y="485.40" font-size="10.5" text-anchor="end" fill="#474747" transform="rotate(-45 577.95 485.40)" dominant-baseline="central">16</text>
<text x="594.85" y="485.40" font-size="10.5" text-anchor="end" fill="#474747" transform="rotate(-45 594.85 485.40)" dominant-baseline="central">18</text>
<text x="611.75" y="485.40" font-size="10.5" text-anchor="end" fill="#474747" transform="rotate(-45 611.75 485.40)" dominant-baseline="central">20</text>
<text x="490.80" y="506.40" font-size="11" fill="#474747">No. of Exons</text>
<text x="409.2" y="422.2" font-size="11" text-anchor="middle" fill="#474747" transform="rotate(-90 409.2 422.2)">No. of circRNAs</text>
<text x="387.80" y="542.00" font-size="12.5" font-weight="bold" fill="#000">e</text>
<text x="459.30" y="557.00" font-size="11.75" fill="#474747">Circular-to-linear ratio</text>
<rect x="447.84" y="621.41" width="2.3" height="61.59" fill="#151515"/>
<rect x="455.73" y="634.94" width="2.3" height="46.28" fill="#151515"/>
<rect x="461.32" y="624.26" width="2.3" height="60.52" fill="#151515"/>
<rect x="465.66" y="634.94" width="2.3" height="42.72" fill="#151515"/>
<rect x="469.21" y="626.04" width="2.3" height="51.62" fill="#151515"/>
<rect x="472.21" y="627.82" width="2.3" height="44.50" fill="#151515"/>
<g class="sc" fill="none" stroke="#111" stroke-width="0.5">
<circle cx="449.0" cy="663.2" r="1.05"/>
<circle cx="449.0" cy="659.6" r="1.05"/>
<circle cx="449.0" cy="656.9" r="1.05"/>
<circle cx="449.0" cy="651.2" r="1.05"/>
<circle cx="449.0" cy="658.1" r="1.05"/>
<circle cx="449.0" cy="645.7" r="1.05"/>
<circle cx="449.0" cy="670.5" r="1.05"/>
<circle cx="449.0" cy="635.0" r="1.05"/>
<circle cx="449.0" cy="637.5" r="1.05"/>
<circle cx="449.0" cy="651.3" r="1.05"/>
<circle cx="449.0" cy="652.6" r="1.05"/>
<circle cx="449.0" cy="649.6" r="1.05"/>
<circle cx="449.0" cy="644.5" r="1.05"/>
<circle cx="449.0" cy="665.3" r="1.05"/>
<circle cx="449.0" cy="659.9" r="1.05"/>
<circle cx="449.0" cy="664.5" r="1.05"/>
<circle cx="449.0" cy="628.9" r="1.05"/>
<circle cx="449.0" cy="653.4" r="1.05"/>
<circle cx="449.0" cy="642.5" r="1.05"/>
<circle cx="449.0" cy="672.1" r="1.05"/>
<circle cx="449.0" cy="638.6" r="1.05"/>
<circle cx="449.0" cy="653.1" r="1.05"/>
<circle cx="449.0" cy="686.7" r="1.05"/>
<circle cx="449.0" cy="646.2" r="1.05"/>
<circle cx="449.0" cy="667.6" r="1.05"/>
<circle cx="449.0" cy="668.3" r="1.05"/>
<circle cx="449.0" cy="624.8" r="1.05"/>
<circle cx="449.0" cy="647.0" r="1.05"/>
<circle cx="449.0" cy="660.3" r="1.05"/>
<circle cx="449.0" cy="648.7" r="1.05"/>
<circle cx="449.0" cy="649.2" r="1.05"/>
<circle cx="449.0" cy="662.7" r="1.05"/>
<circle cx="449.0" cy="644.1" r="1.05"/>
<circle cx="449.0" cy="643.6" r="1.05"/>
<circle cx="449.0" cy="657.4" r="1.05"/>
<circle cx="449.0" cy="682.8" r="1.05"/>
<circle cx="449.0" cy="647.5" r="1.05"/>
<circle cx="449.0" cy="658.6" r="1.05"/>
<circle cx="449.0" cy="661.4" r="1.05"/>
<circle cx="449.0" cy="645.1" r="1.05"/>
<circle cx="449.0" cy="655.7" r="1.05"/>
<circle cx="449.0" cy="654.8" r="1.05"/>
<circle cx="449.0" cy="666.4" r="1.05"/>
<circle cx="449.0" cy="652.1" r="1.05"/>
<circle cx="449.0" cy="650.6" r="1.05"/>
<circle cx="449.0" cy="649.8" r="1.05"/>
<circle cx="449.0" cy="654.1" r="1.05"/>
<circle cx="449.0" cy="663.7" r="1.05"/>
<circle cx="449.0" cy="659.0" r="1.05"/>
<circle cx="449.0" cy="673.9" r="1.05"/>
<circle cx="449.0" cy="677.1" r="1.05"/>
<circle cx="449.0" cy="646.5" r="1.05"/>
<circle cx="449.0" cy="676.5" r="1.05"/>
<circle cx="449.0" cy="665.0" r="1.05"/>
<circle cx="449.0" cy="641.6" r="1.05"/>
<circle cx="449.0" cy="677.7" r="1.05"/>
<circle cx="449.0" cy="639.6" r="1.05"/>
<circle cx="449.0" cy="685.6" r="1.05"/>
<circle cx="449.0" cy="661.2" r="1.05"/>
<circle cx="449.0" cy="670.1" r="1.05"/>
<circle cx="449.0" cy="642.2" r="1.05"/>
<circle cx="449.0" cy="673.4" r="1.05"/>
<circle cx="449.0" cy="643.2" r="1.05"/>
<circle cx="449.0" cy="655.8" r="1.05"/>
<circle cx="449.0" cy="633.8" r="1.05"/>
<circle cx="449.0" cy="629.6" r="1.05"/>
<circle cx="449.0" cy="635.9" r="1.05"/>
<circle cx="449.0" cy="671.3" r="1.05"/>
<circle cx="449.0" cy="710.5" r="1.05"/>
<circle cx="449.0" cy="636.8" r="1.05"/>
<circle cx="449.0" cy="628.0" r="1.05"/>
<circle cx="449.0" cy="669.3" r="1.05"/>
<circle cx="449.0" cy="676.0" r="1.05"/>
<circle cx="449.0" cy="669.0" r="1.05"/>
<circle cx="449.0" cy="624.5" r="1.05"/>
<circle cx="449.0" cy="693.5" r="1.05"/>
<circle cx="449.0" cy="632.2" r="1.05"/>
<circle cx="449.0" cy="656.6" r="1.05"/>
<circle cx="449.0" cy="654.4" r="1.05"/>
<circle cx="449.0" cy="636.4" r="1.05"/>
<circle cx="449.0" cy="633.4" r="1.05"/>
<circle cx="449.0" cy="679.0" r="1.05"/>
<circle cx="449.0" cy="648.1" r="1.05"/>
<circle cx="449.0" cy="638.0" r="1.05"/>
<circle cx="449.0" cy="620.3" r="1.05"/>
<circle cx="449.0" cy="668.0" r="1.05"/>
<circle cx="449.0" cy="697.4" r="1.05"/>
<circle cx="449.0" cy="663.9" r="1.05"/>
<circle cx="449.0" cy="632.4" r="1.05"/>
<circle cx="449.0" cy="626.7" r="1.05"/>
<circle cx="449.0" cy="629.9" r="1.05"/>
<circle cx="449.0" cy="666.1" r="1.05"/>
<circle cx="449.0" cy="687.8" r="1.05"/>
<circle cx="449.0" cy="635.3" r="1.05"/>
<circle cx="449.0" cy="674.9" r="1.05"/>
<circle cx="449.0" cy="683.7" r="1.05"/>
<circle cx="449.0" cy="638.8" r="1.05"/>
<circle cx="449.0" cy="617.3" r="1.05"/>
<circle cx="449.0" cy="641.2" r="1.05"/>
<circle cx="449.0" cy="625.3" r="1.05"/>
<circle cx="449.0" cy="640.3" r="1.05"/>
<circle cx="449.0" cy="627.1" r="1.05"/>
<circle cx="449.0" cy="682.0" r="1.05"/>
<circle cx="449.0" cy="679.7" r="1.05"/>
<circle cx="449.0" cy="673.0" r="1.05"/>
<circle cx="449.0" cy="674.4" r="1.05"/>
<circle cx="449.0" cy="670.9" r="1.05"/>
<circle cx="449.0" cy="631.5" r="1.05"/>
<circle cx="449.0" cy="633.1" r="1.05"/>
<circle cx="449.0" cy="640.1" r="1.05"/>
<circle cx="449.0" cy="716.8" r="1.05"/>
<circle cx="449.0" cy="619.5" r="1.05"/>
<circle cx="449.0" cy="667.0" r="1.05"/>
<circle cx="449.0" cy="634.7" r="1.05"/>
<circle cx="449.0" cy="630.3" r="1.05"/>
<circle cx="449.0" cy="662.0" r="1.05"/>
<circle cx="449.0" cy="690.4" r="1.05"/>
<circle cx="449.0" cy="695.3" r="1.05"/>
<circle cx="449.0" cy="631.2" r="1.05"/>
<circle cx="449.0" cy="675.4" r="1.05"/>
<circle cx="449.0" cy="621.9" r="1.05"/>
<circle cx="449.0" cy="628.5" r="1.05"/>
<circle cx="449.0" cy="689.1" r="1.05"/>
<circle cx="449.0" cy="623.3" r="1.05"/>
<circle cx="449.0" cy="691.9" r="1.05"/>
<circle cx="449.0" cy="706.1" r="1.05"/>
<circle cx="449.0" cy="727.5" r="1.05"/>
<circle cx="449.0" cy="702.6" r="1.05"/>
<circle cx="449.0" cy="623.9" r="1.05"/>
<circle cx="449.0" cy="681.2" r="1.05"/>
<circle cx="449.0" cy="699.8" r="1.05"/>
<circle cx="449.0" cy="627.4" r="1.05"/>
<circle cx="449.0" cy="678.4" r="1.05"/>
<circle cx="449.0" cy="672.5" r="1.05"/>
<circle cx="456.9" cy="667.3" r="1.05"/>
<circle cx="456.9" cy="648.2" r="1.05"/>
<circle cx="456.9" cy="661.4" r="1.05"/>
<circle cx="456.9" cy="710.5" r="1.05"/>
<circle cx="456.9" cy="648.8" r="1.05"/>
<circle cx="456.9" cy="657.4" r="1.05"/>
<circle cx="456.9" cy="647.0" r="1.05"/>
<circle cx="456.9" cy="656.0" r="1.05"/>
<circle cx="456.9" cy="662.3" r="1.05"/>
<circle cx="456.9" cy="653.1" r="1.05"/>
<circle cx="456.9" cy="670.9" r="1.05"/>
<circle cx="456.9" cy="658.3" r="1.05"/>
<circle cx="456.9" cy="681.2" r="1.05"/>
<circle cx="456.9" cy="664.5" r="1.05"/>
<circle cx="456.9" cy="676.0" r="1.05"/>
<circle cx="456.9" cy="645.1" r="1.05"/>
<circle cx="456.9" cy="642.9" r="1.05"/>
<circle cx="456.9" cy="650.0" r="1.05"/>
<circle cx="456.9" cy="663.0" r="1.05"/>
<circle cx="456.9" cy="659.6" r="1.05"/>
<circle cx="456.9" cy="665.3" r="1.05"/>
<circle cx="456.9" cy="669.0" r="1.05"/>
<circle cx="456.9" cy="646.0" r="1.05"/>
<circle cx="456.9" cy="660.7" r="1.05"/>
<circle cx="456.9" cy="665.0" r="1.05"/>
<circle cx="456.9" cy="668.6" r="1.05"/>
<circle cx="456.9" cy="682.8" r="1.05"/>
<circle cx="456.9" cy="670.1" r="1.05"/>
<circle cx="456.9" cy="693.5" r="1.05"/>
<circle cx="456.9" cy="663.9" r="1.05"/>
<circle cx="456.9" cy="665.8" r="1.05"/>
<circle cx="456.9" cy="650.9" r="1.05"/>
<circle cx="456.9" cy="640.2" r="1.05"/>
<circle cx="456.9" cy="679.7" r="1.05"/>
<circle cx="456.9" cy="663.7" r="1.05"/>
<circle cx="456.9" cy="654.3" r="1.05"/>
<circle cx="456.9" cy="666.7" r="1.05"/>
<circle cx="456.9" cy="673.4" r="1.05"/>
<circle cx="456.9" cy="637.2" r="1.05"/>
<circle cx="456.9" cy="689.1" r="1.05"/>
<circle cx="456.9" cy="683.7" r="1.05"/>
<circle cx="456.9" cy="672.5" r="1.05"/>
<circle cx="456.9" cy="654.8" r="1.05"/>
<circle cx="456.9" cy="667.0" r="1.05"/>
<circle cx="456.9" cy="633.7" r="1.05"/>
<circle cx="456.9" cy="642.4" r="1.05"/>
<circle cx="456.9" cy="657.8" r="1.05"/>
<circle cx="456.9" cy="640.9" r="1.05"/>
<circle cx="456.9" cy="670.5" r="1.05"/>
<circle cx="456.9" cy="652.4" r="1.05"/>
<circle cx="456.9" cy="658.8" r="1.05"/>
<circle cx="456.9" cy="643.6" r="1.05"/>
<circle cx="456.9" cy="634.9" r="1.05"/>
<circle cx="456.9" cy="676.5" r="1.05"/>
<circle cx="456.9" cy="671.7" r="1.05"/>
<circle cx="456.9" cy="682.0" r="1.05"/>
<circle cx="456.9" cy="631.1" r="1.05"/>
<circle cx="456.9" cy="625.5" r="1.05"/>
<circle cx="456.9" cy="669.3" r="1.05"/>
<circle cx="456.9" cy="636.0" r="1.05"/>
<circle cx="456.9" cy="623.6" r="1.05"/>
<circle cx="456.9" cy="673.9" r="1.05"/>
<circle cx="456.9" cy="668.0" r="1.05"/>
<circle cx="456.9" cy="645.4" r="1.05"/>
<circle cx="456.9" cy="641.3" r="1.05"/>
<circle cx="456.9" cy="680.4" r="1.05"/>
<circle cx="456.9" cy="647.4" r="1.05"/>
<circle cx="456.9" cy="635.7" r="1.05"/>
<circle cx="456.9" cy="677.7" r="1.05"/>
<circle cx="456.9" cy="653.9" r="1.05"/>
<circle cx="456.9" cy="631.5" r="1.05"/>
<circle cx="456.9" cy="674.9" r="1.05"/>
<circle cx="456.9" cy="653.5" r="1.05"/>
<circle cx="456.9" cy="649.5" r="1.05"/>
<circle cx="456.9" cy="659.9" r="1.05"/>
<circle cx="456.9" cy="651.5" r="1.05"/>
<circle cx="456.9" cy="677.1" r="1.05"/>
<circle cx="456.9" cy="661.8" r="1.05"/>
<circle cx="456.9" cy="650.4" r="1.05"/>
<circle cx="456.9" cy="690.4" r="1.05"/>
<circle cx="456.9" cy="686.7" r="1.05"/>
<circle cx="456.9" cy="639.2" r="1.05"/>
<circle cx="456.9" cy="651.8" r="1.05"/>
<circle cx="456.9" cy="646.3" r="1.05"/>
<circle cx="456.9" cy="636.5" r="1.05"/>
<circle cx="456.9" cy="661.2" r="1.05"/>
<circle cx="456.9" cy="684.6" r="1.05"/>
<circle cx="456.9" cy="679.0" r="1.05"/>
<circle cx="456.9" cy="655.4" r="1.05"/>
<circle cx="456.9" cy="656.9" r="1.05"/>
<circle cx="456.9" cy="672.1" r="1.05"/>
<circle cx="456.9" cy="674.4" r="1.05"/>
<circle cx="456.9" cy="639.3" r="1.05"/>
<circle cx="456.9" cy="706.1" r="1.05"/>
<circle cx="462.5" cy="658.1" r="1.05"/>
<circle cx="462.5" cy="641.4" r="1.05"/>
<circle cx="462.5" cy="645.3" r="1.05"/>
<circle cx="462.5" cy="677.7" r="1.05"/>
<circle cx="462.5" cy="666.1" r="1.05"/>
<circle cx="462.5" cy="661.8" r="1.05"/>
<circle cx="462.5" cy="664.7" r="1.05"/>
<circle cx="462.5" cy="643.9" r="1.05"/>
<circle cx="462.5" cy="639.2" r="1.05"/>
<circle cx="462.5" cy="657.4" r="1.05"/>
<circle cx="462.5" cy="672.5" r="1.05"/>
<circle cx="462.5" cy="650.1" r="1.05"/>
<circle cx="462.5" cy="634.9" r="1.05"/>
<circle cx="462.5" cy="624.5" r="1.05"/>
<circle cx="462.5" cy="669.3" r="1.05"/>
<circle cx="462.5" cy="649.0" r="1.05"/>
<circle cx="462.5" cy="665.3" r="1.05"/>
<circle cx="462.5" cy="630.5" r="1.05"/>
<circle cx="462.5" cy="667.6" r="1.05"/>
<circle cx="462.5" cy="654.4" r="1.05"/>
<circle cx="462.5" cy="655.3" r="1.05"/>
<circle cx="462.5" cy="666.4" r="1.05"/>
<circle cx="462.5" cy="644.4" r="1.05"/>
<circle cx="462.5" cy="653.6" r="1.05"/>
<circle cx="462.5" cy="632.9" r="1.05"/>
<circle cx="462.5" cy="647.5" r="1.05"/>
<circle cx="462.5" cy="637.3" r="1.05"/>
<circle cx="462.5" cy="716.8" r="1.05"/>
<circle cx="462.5" cy="654.8" r="1.05"/>
<circle cx="462.5" cy="636.1" r="1.05"/>
<circle cx="462.5" cy="684.6" r="1.05"/>
<circle cx="462.5" cy="639.8" r="1.05"/>
<circle cx="462.5" cy="681.2" r="1.05"/>
<circle cx="462.5" cy="647.8" r="1.05"/>
<circle cx="462.5" cy="659.6" r="1.05"/>
<circle cx="462.5" cy="651.7" r="1.05"/>
<circle cx="462.5" cy="667.0" r="1.05"/>
<circle cx="462.5" cy="648.7" r="1.05"/>
<circle cx="462.5" cy="661.0" r="1.05"/>
<circle cx="462.5" cy="671.7" r="1.05"/>
<circle cx="462.5" cy="649.5" r="1.05"/>
<circle cx="462.5" cy="651.0" r="1.05"/>
<circle cx="462.5" cy="646.1" r="1.05"/>
<circle cx="462.5" cy="658.8" r="1.05"/>
<circle cx="462.5" cy="647.2" r="1.05"/>
<circle cx="462.5" cy="662.3" r="1.05"/>
<circle cx="462.5" cy="663.9" r="1.05"/>
<circle cx="462.5" cy="676.0" r="1.05"/>
<circle cx="462.5" cy="637.1" r="1.05"/>
<circle cx="462.5" cy="661.4" r="1.05"/>
<circle cx="462.5" cy="633.4" r="1.05"/>
<circle cx="462.5" cy="616.9" r="1.05"/>
<circle cx="462.5" cy="645.0" r="1.05"/>
<circle cx="462.5" cy="656.5" r="1.05"/>
<circle cx="462.5" cy="660.7" r="1.05"/>
<circle cx="462.5" cy="656.9" r="1.05"/>
<circle cx="462.5" cy="653.0" r="1.05"/>
<circle cx="462.5" cy="680.4" r="1.05"/>
<circle cx="462.5" cy="652.1" r="1.05"/>
<circle cx="462.5" cy="650.7" r="1.05"/>
<circle cx="462.5" cy="625.8" r="1.05"/>
<circle cx="462.5" cy="672.1" r="1.05"/>
<circle cx="462.5" cy="631.9" r="1.05"/>
<circle cx="462.5" cy="652.4" r="1.05"/>
<circle cx="462.5" cy="668.0" r="1.05"/>
<circle cx="462.5" cy="668.6" r="1.05"/>
<circle cx="462.5" cy="673.4" r="1.05"/>
<circle cx="462.5" cy="656.1" r="1.05"/>
<circle cx="462.5" cy="631.0" r="1.05"/>
<circle cx="462.5" cy="641.0" r="1.05"/>
<circle cx="462.5" cy="678.4" r="1.05"/>
<circle cx="462.5" cy="670.5" r="1.05"/>
<circle cx="462.5" cy="629.6" r="1.05"/>
<circle cx="462.5" cy="625.1" r="1.05"/>
<circle cx="462.5" cy="674.4" r="1.05"/>
<circle cx="462.5" cy="658.5" r="1.05"/>
<circle cx="462.5" cy="619.6" r="1.05"/>
<circle cx="462.5" cy="643.1" r="1.05"/>
<circle cx="462.5" cy="621.0" r="1.05"/>
<circle cx="462.5" cy="663.0" r="1.05"/>
<circle cx="462.5" cy="670.1" r="1.05"/>
<circle cx="462.5" cy="626.9" r="1.05"/>
<circle cx="462.5" cy="643.3" r="1.05"/>
<circle cx="462.5" cy="685.6" r="1.05"/>
<circle cx="462.5" cy="660.1" r="1.05"/>
<circle cx="462.5" cy="633.9" r="1.05"/>
<circle cx="462.5" cy="638.1" r="1.05"/>
<circle cx="462.5" cy="673.0" r="1.05"/>
<circle cx="462.5" cy="627.9" r="1.05"/>
<circle cx="462.5" cy="641.8" r="1.05"/>
<circle cx="462.5" cy="632.7" r="1.05"/>
<circle cx="462.5" cy="636.5" r="1.05"/>
<circle cx="462.5" cy="629.0" r="1.05"/>
<circle cx="462.5" cy="674.9" r="1.05"/>
<circle cx="462.5" cy="615.8" r="1.05"/>
<circle cx="462.5" cy="626.6" r="1.05"/>
<circle cx="462.5" cy="634.3" r="1.05"/>
<circle cx="462.5" cy="635.4" r="1.05"/>
<circle cx="462.5" cy="646.4" r="1.05"/>
<circle cx="462.5" cy="624.0" r="1.05"/>
<circle cx="462.5" cy="640.7" r="1.05"/>
<circle cx="462.5" cy="653.9" r="1.05"/>
<circle cx="462.5" cy="639.4" r="1.05"/>
<circle cx="462.5" cy="663.4" r="1.05"/>
<circle cx="462.5" cy="689.1" r="1.05"/>
<circle cx="462.5" cy="631.4" r="1.05"/>
<circle cx="462.5" cy="690.4" r="1.05"/>
<circle cx="462.5" cy="682.0" r="1.05"/>
<circle cx="462.5" cy="673.9" r="1.05"/>
<circle cx="462.5" cy="665.0" r="1.05"/>
<circle cx="462.5" cy="669.0" r="1.05"/>
<circle cx="462.5" cy="642.3" r="1.05"/>
<circle cx="462.5" cy="670.9" r="1.05"/>
<circle cx="462.5" cy="695.3" r="1.05"/>
<circle cx="462.5" cy="727.5" r="1.05"/>
<circle cx="462.5" cy="682.8" r="1.05"/>
<circle cx="462.5" cy="676.5" r="1.05"/>
<circle cx="466.8" cy="656.1" r="1.05"/>
<circle cx="466.8" cy="658.5" r="1.05"/>
<circle cx="466.8" cy="644.4" r="1.05"/>
<circle cx="466.8" cy="676.5" r="1.05"/>
<circle cx="466.8" cy="649.5" r="1.05"/>
<circle cx="466.8" cy="664.2" r="1.05"/>
<circle cx="466.8" cy="660.1" r="1.05"/>
<circle cx="466.8" cy="667.6" r="1.05"/>
<circle cx="466.8" cy="626.8" r="1.05"/>
<circle cx="466.8" cy="647.6" r="1.05"/>
<circle cx="466.8" cy="642.3" r="1.05"/>
<circle cx="466.8" cy="659.6" r="1.05"/>
<circle cx="466.8" cy="656.5" r="1.05"/>
<circle cx="466.8" cy="636.1" r="1.05"/>
<circle cx="466.8" cy="645.2" r="1.05"/>
<circle cx="466.8" cy="654.0" r="1.05"/>
<circle cx="466.8" cy="680.4" r="1.05"/>
<circle cx="466.8" cy="652.4" r="1.05"/>
<circle cx="466.8" cy="675.4" r="1.05"/>
<circle cx="466.8" cy="650.1" r="1.05"/>
<circle cx="466.8" cy="654.5" r="1.05"/>
<circle cx="466.8" cy="653.4" r="1.05"/>
<circle cx="466.8" cy="679.7" r="1.05"/>
<circle cx="466.8" cy="632.9" r="1.05"/>
<circle cx="466.8" cy="660.3" r="1.05"/>
<circle cx="466.8" cy="661.4" r="1.05"/>
<circle cx="466.8" cy="657.9" r="1.05"/>
<circle cx="466.8" cy="639.6" r="1.05"/>
<circle cx="466.8" cy="667.0" r="1.05"/>
<circle cx="466.8" cy="649.2" r="1.05"/>
<circle cx="466.8" cy="665.8" r="1.05"/>
<circle cx="466.8" cy="678.4" r="1.05"/>
<circle cx="466.8" cy="651.7" r="1.05"/>
<circle cx="466.8" cy="673.0" r="1.05"/>
<circle cx="466.8" cy="647.2" r="1.05"/>
<circle cx="466.8" cy="657.4" r="1.05"/>
<circle cx="466.8" cy="639.2" r="1.05"/>
<circle cx="466.8" cy="655.5" r="1.05"/>
<circle cx="466.8" cy="627.7" r="1.05"/>
<circle cx="466.8" cy="665.3" r="1.05"/>
<circle cx="466.8" cy="669.3" r="1.05"/>
<circle cx="466.8" cy="661.8" r="1.05"/>
<circle cx="466.8" cy="664.5" r="1.05"/>
<circle cx="466.8" cy="666.7" r="1.05"/>
<circle cx="466.8" cy="638.2" r="1.05"/>
<circle cx="466.8" cy="648.0" r="1.05"/>
<circle cx="466.8" cy="638.6" r="1.05"/>
<circle cx="466.8" cy="671.7" r="1.05"/>
<circle cx="466.8" cy="670.5" r="1.05"/>
<circle cx="466.8" cy="676.0" r="1.05"/>
<circle cx="466.8" cy="659.2" r="1.05"/>
<circle cx="466.8" cy="648.6" r="1.05"/>
<circle cx="466.8" cy="663.0" r="1.05"/>
<circle cx="466.8" cy="672.1" r="1.05"/>
<circle cx="466.8" cy="682.8" r="1.05"/>
<circle cx="466.8" cy="673.4" r="1.05"/>
<circle cx="466.8" cy="702.6" r="1.05"/>
<circle cx="466.8" cy="645.5" r="1.05"/>
<circle cx="466.8" cy="651.8" r="1.05"/>
<circle cx="466.8" cy="663.7" r="1.05"/>
<circle cx="466.8" cy="668.3" r="1.05"/>
<circle cx="466.8" cy="646.6" r="1.05"/>
<circle cx="466.8" cy="641.5" r="1.05"/>
<circle cx="466.8" cy="677.1" r="1.05"/>
<circle cx="466.8" cy="654.8" r="1.05"/>
<circle cx="466.8" cy="653.1" r="1.05"/>
<circle cx="466.8" cy="646.1" r="1.05"/>
<circle cx="466.8" cy="674.4" r="1.05"/>
<circle cx="466.8" cy="670.1" r="1.05"/>
<circle cx="466.8" cy="651.1" r="1.05"/>
<circle cx="466.8" cy="628.9" r="1.05"/>
<circle cx="466.8" cy="635.2" r="1.05"/>
<circle cx="466.8" cy="657.1" r="1.05"/>
<circle cx="466.8" cy="604.8" r="1.05"/>
<circle cx="466.8" cy="677.7" r="1.05"/>
<circle cx="466.8" cy="662.5" r="1.05"/>
<circle cx="466.8" cy="650.3" r="1.05"/>
<circle cx="466.8" cy="681.2" r="1.05"/>
<circle cx="466.8" cy="695.3" r="1.05"/>
<circle cx="470.4" cy="633.7" r="1.05"/>
<circle cx="470.4" cy="671.7" r="1.05"/>
<circle cx="470.4" cy="651.9" r="1.05"/>
<circle cx="470.4" cy="633.9" r="1.05"/>
<circle cx="470.4" cy="659.0" r="1.05"/>
<circle cx="470.4" cy="658.3" r="1.05"/>
<circle cx="470.4" cy="646.5" r="1.05"/>
<circle cx="470.4" cy="654.8" r="1.05"/>
<circle cx="470.4" cy="651.3" r="1.05"/>
<circle cx="470.4" cy="656.0" r="1.05"/>
<circle cx="470.4" cy="657.9" r="1.05"/>
<circle cx="470.4" cy="666.1" r="1.05"/>
<circle cx="470.4" cy="647.7" r="1.05"/>
<circle cx="470.4" cy="636.1" r="1.05"/>
<circle cx="470.4" cy="659.9" r="1.05"/>
<circle cx="470.4" cy="681.2" r="1.05"/>
<circle cx="470.4" cy="642.5" r="1.05"/>
<circle cx="470.4" cy="673.4" r="1.05"/>
<circle cx="470.4" cy="646.0" r="1.05"/>
<circle cx="470.4" cy="651.2" r="1.05"/>
<circle cx="470.4" cy="659.4" r="1.05"/>
<circle cx="470.4" cy="654.5" r="1.05"/>
<circle cx="470.4" cy="648.0" r="1.05"/>
<circle cx="470.4" cy="648.5" r="1.05"/>
<circle cx="470.4" cy="639.3" r="1.05"/>
<circle cx="470.4" cy="668.6" r="1.05"/>
<circle cx="470.4" cy="650.4" r="1.05"/>
<circle cx="470.4" cy="643.1" r="1.05"/>
<circle cx="470.4" cy="649.1" r="1.05"/>
<circle cx="470.4" cy="645.6" r="1.05"/>
<circle cx="470.4" cy="660.5" r="1.05"/>
<circle cx="470.4" cy="653.2" r="1.05"/>
<circle cx="470.4" cy="628.7" r="1.05"/>
<circle cx="470.4" cy="668.0" r="1.05"/>
<circle cx="470.4" cy="690.4" r="1.05"/>
<circle cx="470.4" cy="662.3" r="1.05"/>
<circle cx="470.4" cy="673.9" r="1.05"/>
<circle cx="470.4" cy="652.6" r="1.05"/>
<circle cx="470.4" cy="640.5" r="1.05"/>
<circle cx="470.4" cy="673.0" r="1.05"/>
<circle cx="470.4" cy="646.8" r="1.05"/>
<circle cx="470.4" cy="672.5" r="1.05"/>
<circle cx="470.4" cy="649.9" r="1.05"/>
<circle cx="470.4" cy="641.8" r="1.05"/>
<circle cx="470.4" cy="663.2" r="1.05"/>
<circle cx="470.4" cy="637.5" r="1.05"/>
<circle cx="470.4" cy="657.6" r="1.05"/>
<circle cx="470.4" cy="669.3" r="1.05"/>
<circle cx="470.4" cy="663.4" r="1.05"/>
<circle cx="470.4" cy="617.0" r="1.05"/>
<circle cx="470.4" cy="672.1" r="1.05"/>
<circle cx="470.4" cy="631.9" r="1.05"/>
<circle cx="470.4" cy="634.6" r="1.05"/>
<circle cx="470.4" cy="639.9" r="1.05"/>
<circle cx="470.4" cy="645.1" r="1.05"/>
<circle cx="470.4" cy="666.7" r="1.05"/>
<circle cx="470.4" cy="644.7" r="1.05"/>
<circle cx="470.4" cy="612.8" r="1.05"/>
<circle cx="470.4" cy="685.6" r="1.05"/>
<circle cx="470.4" cy="653.4" r="1.05"/>
<circle cx="470.4" cy="682.8" r="1.05"/>
<circle cx="470.4" cy="631.1" r="1.05"/>
<circle cx="470.4" cy="638.1" r="1.05"/>
<circle cx="470.4" cy="664.2" r="1.05"/>
<circle cx="470.4" cy="638.3" r="1.05"/>
<circle cx="470.4" cy="643.8" r="1.05"/>
<circle cx="470.4" cy="629.0" r="1.05"/>
<circle cx="470.4" cy="655.4" r="1.05"/>
<circle cx="470.4" cy="661.2" r="1.05"/>
<circle cx="470.4" cy="643.5" r="1.05"/>
<circle cx="470.4" cy="687.8" r="1.05"/>
<circle cx="470.4" cy="626.2" r="1.05"/>
<circle cx="470.4" cy="632.4" r="1.05"/>
<circle cx="470.4" cy="637.2" r="1.05"/>
<circle cx="470.4" cy="656.8" r="1.05"/>
<circle cx="470.4" cy="641.7" r="1.05"/>
<circle cx="470.4" cy="676.0" r="1.05"/>
<circle cx="470.4" cy="662.0" r="1.05"/>
<circle cx="470.4" cy="640.9" r="1.05"/>
<circle cx="470.4" cy="629.4" r="1.05"/>
<circle cx="470.4" cy="622.7" r="1.05"/>
<circle cx="470.4" cy="620.2" r="1.05"/>
<circle cx="470.4" cy="664.5" r="1.05"/>
<circle cx="470.4" cy="633.0" r="1.05"/>
<circle cx="470.4" cy="654.1" r="1.05"/>
<circle cx="470.4" cy="634.9" r="1.05"/>
<circle cx="470.4" cy="665.0" r="1.05"/>
<circle cx="470.4" cy="661.6" r="1.05"/>
<circle cx="470.4" cy="695.3" r="1.05"/>
<circle cx="470.4" cy="679.7" r="1.05"/>
<circle cx="470.4" cy="626.7" r="1.05"/>
<circle cx="470.4" cy="670.1" r="1.05"/>
<circle cx="470.4" cy="623.2" r="1.05"/>
<circle cx="470.4" cy="689.1" r="1.05"/>
<circle cx="470.4" cy="635.6" r="1.05"/>
<circle cx="470.4" cy="656.5" r="1.05"/>
<circle cx="470.4" cy="649.5" r="1.05"/>
<circle cx="470.4" cy="676.5" r="1.05"/>
<circle cx="470.4" cy="665.3" r="1.05"/>
<circle cx="470.4" cy="639.2" r="1.05"/>
<circle cx="470.4" cy="627.5" r="1.05"/>
<circle cx="473.4" cy="648.3" r="1.05"/>
<circle cx="473.4" cy="614.4" r="1.05"/>
<circle cx="473.4" cy="639.8" r="1.05"/>
<circle cx="473.4" cy="653.4" r="1.05"/>
<circle cx="473.4" cy="634.8" r="1.05"/>
<circle cx="473.4" cy="641.8" r="1.05"/>
<circle cx="473.4" cy="645.2" r="1.05"/>
<circle cx="473.4" cy="697.4" r="1.05"/>
<circle cx="473.4" cy="651.1" r="1.05"/>
<circle cx="473.4" cy="621.3" r="1.05"/>
<circle cx="473.4" cy="674.4" r="1.05"/>
<circle cx="473.4" cy="649.1" r="1.05"/>
<circle cx="473.4" cy="638.9" r="1.05"/>
<circle cx="473.4" cy="630.6" r="1.05"/>
<circle cx="473.4" cy="654.5" r="1.05"/>
<circle cx="473.4" cy="637.5" r="1.05"/>
<circle cx="473.4" cy="616.2" r="1.05"/>
<circle cx="473.4" cy="642.4" r="1.05"/>
<circle cx="473.4" cy="655.4" r="1.05"/>
<circle cx="473.4" cy="650.3" r="1.05"/>
<circle cx="473.4" cy="647.4" r="1.05"/>
<circle cx="473.4" cy="644.5" r="1.05"/>
<circle cx="473.4" cy="658.1" r="1.05"/>
<circle cx="473.4" cy="644.0" r="1.05"/>
<circle cx="473.4" cy="649.6" r="1.05"/>
<circle cx="473.4" cy="632.2" r="1.05"/>
<circle cx="473.4" cy="618.2" r="1.05"/>
<circle cx="473.4" cy="667.6" r="1.05"/>
<circle cx="473.4" cy="661.6" r="1.05"/>
<circle cx="473.4" cy="634.3" r="1.05"/>
<circle cx="473.4" cy="666.1" r="1.05"/>
<circle cx="473.4" cy="606.2" r="1.05"/>
<circle cx="473.4" cy="653.2" r="1.05"/>
<circle cx="473.4" cy="691.9" r="1.05"/>
<circle cx="473.4" cy="659.0" r="1.05"/>
<circle cx="473.4" cy="648.1" r="1.05"/>
<circle cx="473.4" cy="637.2" r="1.05"/>
<circle cx="473.4" cy="650.0" r="1.05"/>
<circle cx="473.4" cy="667.0" r="1.05"/>
<circle cx="473.4" cy="673.9" r="1.05"/>
<circle cx="473.4" cy="636.4" r="1.05"/>
<circle cx="473.4" cy="633.1" r="1.05"/>
<circle cx="473.4" cy="651.8" r="1.05"/>
<circle cx="473.4" cy="656.1" r="1.05"/>
<circle cx="473.4" cy="646.9" r="1.05"/>
<circle cx="473.4" cy="651.3" r="1.05"/>
<circle cx="473.4" cy="656.3" r="1.05"/>
<circle cx="473.4" cy="646.6" r="1.05"/>
<circle cx="473.4" cy="632.6" r="1.05"/>
<circle cx="473.4" cy="643.6" r="1.05"/>
<circle cx="473.4" cy="625.4" r="1.05"/>
<circle cx="473.4" cy="643.2" r="1.05"/>
<circle cx="473.4" cy="645.3" r="1.05"/>
<circle cx="473.4" cy="639.7" r="1.05"/>
<circle cx="473.4" cy="640.8" r="1.05"/>
<circle cx="473.4" cy="641.5" r="1.05"/>
<circle cx="473.4" cy="662.3" r="1.05"/>
<circle cx="473.4" cy="664.7" r="1.05"/>
<circle cx="473.4" cy="699.8" r="1.05"/>
<circle cx="473.4" cy="633.3" r="1.05"/>
<circle cx="473.4" cy="636.2" r="1.05"/>
<circle cx="473.4" cy="652.4" r="1.05"/>
<circle cx="473.4" cy="622.5" r="1.05"/>
<circle cx="473.4" cy="631.2" r="1.05"/>
<circle cx="473.4" cy="591.9" r="1.05"/>
<circle cx="473.4" cy="663.2" r="1.05"/>
<circle cx="473.4" cy="655.1" r="1.05"/>
<circle cx="473.4" cy="663.9" r="1.05"/>
<circle cx="473.4" cy="627.4" r="1.05"/>
<circle cx="473.4" cy="640.4" r="1.05"/>
<circle cx="473.4" cy="635.3" r="1.05"/>
<circle cx="473.4" cy="637.8" r="1.05"/>
<circle cx="473.4" cy="620.2" r="1.05"/>
<circle cx="473.4" cy="616.7" r="1.05"/>
<circle cx="473.4" cy="665.0" r="1.05"/>
<circle cx="473.4" cy="629.0" r="1.05"/>
<circle cx="473.4" cy="659.7" r="1.05"/>
<circle cx="473.4" cy="653.9" r="1.05"/>
<circle cx="473.4" cy="611.6" r="1.05"/>
<circle cx="473.4" cy="657.4" r="1.05"/>
<circle cx="473.4" cy="686.7" r="1.05"/>
<circle cx="473.4" cy="669.3" r="1.05"/>
<circle cx="473.4" cy="628.2" r="1.05"/>
<circle cx="473.4" cy="668.6" r="1.05"/>
<circle cx="473.4" cy="673.0" r="1.05"/>
<circle cx="473.4" cy="673.4" r="1.05"/>
<circle cx="473.4" cy="617.4" r="1.05"/>
<circle cx="473.4" cy="615.7" r="1.05"/>
<circle cx="476.0" cy="633.3" r="1.05"/>
<circle cx="476.0" cy="648.7" r="1.05"/>
<circle cx="476.0" cy="620.5" r="1.05"/>
<circle cx="476.0" cy="634.3" r="1.05"/>
<circle cx="476.0" cy="636.8" r="1.05"/>
<circle cx="476.0" cy="643.1" r="1.05"/>
<circle cx="476.0" cy="642.0" r="1.05"/>
<circle cx="476.0" cy="644.5" r="1.05"/>
<circle cx="476.0" cy="629.2" r="1.05"/>
<circle cx="476.0" cy="667.6" r="1.05"/>
<circle cx="476.0" cy="659.7" r="1.05"/>
<circle cx="476.0" cy="626.3" r="1.05"/>
<circle cx="476.0" cy="650.1" r="1.05"/>
<circle cx="476.0" cy="658.1" r="1.05"/>
<circle cx="476.0" cy="653.2" r="1.05"/>
<circle cx="476.0" cy="631.8" r="1.05"/>
<circle cx="476.0" cy="649.1" r="1.05"/>
<circle cx="476.0" cy="657.6" r="1.05"/>
<circle cx="476.0" cy="650.9" r="1.05"/>
<circle cx="476.0" cy="651.3" r="1.05"/>
<circle cx="476.0" cy="655.1" r="1.05"/>
<circle cx="476.0" cy="666.7" r="1.05"/>
<circle cx="476.0" cy="646.3" r="1.05"/>
<circle cx="476.0" cy="609.3" r="1.05"/>
<circle cx="476.0" cy="621.1" r="1.05"/>
<circle cx="476.0" cy="650.3" r="1.05"/>
<circle cx="476.0" cy="635.5" r="1.05"/>
<circle cx="476.0" cy="660.1" r="1.05"/>
<circle cx="476.0" cy="640.1" r="1.05"/>
<circle cx="476.0" cy="640.5" r="1.05"/>
<circle cx="476.0" cy="637.4" r="1.05"/>
<circle cx="476.0" cy="658.6" r="1.05"/>
<circle cx="476.0" cy="636.2" r="1.05"/>
<circle cx="476.0" cy="647.4" r="1.05"/>
<circle cx="476.0" cy="652.6" r="1.05"/>
<circle cx="476.0" cy="645.9" r="1.05"/>
<circle cx="476.0" cy="664.2" r="1.05"/>
<circle cx="476.0" cy="654.1" r="1.05"/>
<circle cx="476.0" cy="617.2" r="1.05"/>
<circle cx="476.0" cy="629.5" r="1.05"/>
<circle cx="476.0" cy="656.1" r="1.05"/>
<circle cx="476.0" cy="661.0" r="1.05"/>
<circle cx="476.0" cy="628.0" r="1.05"/>
<circle cx="476.0" cy="649.6" r="1.05"/>
<circle cx="476.0" cy="621.7" r="1.05"/>
<circle cx="476.0" cy="656.5" r="1.05"/>
<circle cx="476.0" cy="645.7" r="1.05"/>
<circle cx="476.0" cy="660.3" r="1.05"/>
<circle cx="476.0" cy="663.0" r="1.05"/>
<circle cx="476.0" cy="627.2" r="1.05"/>
<circle cx="476.0" cy="664.7" r="1.05"/>
<circle cx="476.0" cy="631.2" r="1.05"/>
<circle cx="476.0" cy="639.1" r="1.05"/>
<circle cx="476.0" cy="634.8" r="1.05"/>
<circle cx="476.0" cy="670.5" r="1.05"/>
<circle cx="476.0" cy="643.9" r="1.05"/>
<circle cx="476.0" cy="658.8" r="1.05"/>
<circle cx="476.0" cy="638.7" r="1.05"/>
<circle cx="476.0" cy="622.4" r="1.05"/>
<circle cx="476.0" cy="616.5" r="1.05"/>
<circle cx="476.0" cy="632.6" r="1.05"/>
<circle cx="476.0" cy="654.5" r="1.05"/>
<circle cx="476.0" cy="653.6" r="1.05"/>
<circle cx="476.0" cy="661.8" r="1.05"/>
<circle cx="476.0" cy="641.1" r="1.05"/>
<circle cx="476.0" cy="667.0" r="1.05"/>
<circle cx="476.0" cy="665.0" r="1.05"/>
<circle cx="476.0" cy="630.6" r="1.05"/>
<circle cx="476.0" cy="604.1" r="1.05"/>
<circle cx="476.0" cy="643.4" r="1.05"/>
<circle cx="476.0" cy="631.7" r="1.05"/>
<circle cx="476.0" cy="630.0" r="1.05"/>
<circle cx="476.0" cy="647.0" r="1.05"/>
<circle cx="476.0" cy="634.1" r="1.05"/>
<circle cx="478.3" cy="668.6" r="1.05"/>
<circle cx="478.3" cy="643.2" r="1.05"/>
<circle cx="478.3" cy="677.1" r="1.05"/>
<circle cx="478.3" cy="646.7" r="1.05"/>
<circle cx="478.3" cy="657.4" r="1.05"/>
<circle cx="478.3" cy="673.9" r="1.05"/>
<circle cx="478.3" cy="647.6" r="1.05"/>
<circle cx="478.3" cy="663.0" r="1.05"/>
<circle cx="478.3" cy="625.6" r="1.05"/>
<circle cx="478.3" cy="628.9" r="1.05"/>
<circle cx="478.3" cy="602.5" r="1.05"/>
<circle cx="478.3" cy="654.0" r="1.05"/>
<circle cx="478.3" cy="632.7" r="1.05"/>
<circle cx="478.3" cy="670.5" r="1.05"/>
<circle cx="478.3" cy="639.0" r="1.05"/>
<circle cx="478.3" cy="645.2" r="1.05"/>
<circle cx="478.3" cy="638.7" r="1.05"/>
<circle cx="478.3" cy="672.5" r="1.05"/>
<circle cx="478.3" cy="649.1" r="1.05"/>
<circle cx="478.3" cy="653.4" r="1.05"/>
<circle cx="478.3" cy="690.4" r="1.05"/>
<circle cx="478.3" cy="630.2" r="1.05"/>
<circle cx="478.3" cy="644.1" r="1.05"/>
<circle cx="478.3" cy="636.4" r="1.05"/>
<circle cx="478.3" cy="650.3" r="1.05"/>
<circle cx="478.3" cy="647.1" r="1.05"/>
<circle cx="478.3" cy="642.3" r="1.05"/>
<circle cx="478.3" cy="673.0" r="1.05"/>
<circle cx="478.3" cy="664.5" r="1.05"/>
<circle cx="478.3" cy="679.7" r="1.05"/>
<circle cx="478.3" cy="682.0" r="1.05"/>
<circle cx="478.3" cy="652.4" r="1.05"/>
<circle cx="478.3" cy="633.9" r="1.05"/>
<circle cx="478.3" cy="632.1" r="1.05"/>
<circle cx="478.3" cy="612.6" r="1.05"/>
<circle cx="478.3" cy="667.6" r="1.05"/>
<circle cx="478.3" cy="662.0" r="1.05"/>
<circle cx="478.3" cy="665.3" r="1.05"/>
<circle cx="478.3" cy="628.6" r="1.05"/>
<circle cx="478.3" cy="651.2" r="1.05"/>
<circle cx="478.3" cy="640.2" r="1.05"/>
<circle cx="478.3" cy="674.9" r="1.05"/>
<circle cx="478.3" cy="645.7" r="1.05"/>
<circle cx="478.3" cy="655.3" r="1.05"/>
<circle cx="478.3" cy="633.4" r="1.05"/>
<circle cx="478.3" cy="646.1" r="1.05"/>
<circle cx="478.3" cy="654.4" r="1.05"/>
<circle cx="478.3" cy="626.7" r="1.05"/>
<circle cx="478.3" cy="650.2" r="1.05"/>
<circle cx="478.3" cy="651.3" r="1.05"/>
<circle cx="478.3" cy="631.2" r="1.05"/>
<circle cx="478.3" cy="630.3" r="1.05"/>
<circle cx="478.3" cy="676.5" r="1.05"/>
<circle cx="478.3" cy="627.8" r="1.05"/>
<circle cx="478.3" cy="649.5" r="1.05"/>
<circle cx="478.3" cy="682.8" r="1.05"/>
<circle cx="478.3" cy="669.0" r="1.05"/>
<circle cx="478.3" cy="640.8" r="1.05"/>
<circle cx="478.3" cy="666.1" r="1.05"/>
<circle cx="478.3" cy="699.8" r="1.05"/>
<circle cx="478.3" cy="638.1" r="1.05"/>
<circle cx="478.3" cy="622.7" r="1.05"/>
<circle cx="478.3" cy="648.7" r="1.05"/>
<circle cx="478.3" cy="662.5" r="1.05"/>
<circle cx="478.3" cy="668.0" r="1.05"/>
<circle cx="478.3" cy="647.9" r="1.05"/>
<circle cx="478.3" cy="635.4" r="1.05"/>
<circle cx="480.3" cy="651.9" r="1.05"/>
<circle cx="480.3" cy="621.5" r="1.05"/>
<circle cx="480.3" cy="622.1" r="1.05"/>
<circle cx="480.3" cy="611.6" r="1.05"/>
<circle cx="480.3" cy="631.1" r="1.05"/>
<circle cx="480.3" cy="629.7" r="1.05"/>
<circle cx="480.3" cy="628.7" r="1.05"/>
<circle cx="480.3" cy="642.4" r="1.05"/>
<circle cx="480.3" cy="636.0" r="1.05"/>
<circle cx="480.3" cy="644.5" r="1.05"/>
<circle cx="480.3" cy="667.3" r="1.05"/>
<circle cx="480.3" cy="650.8" r="1.05"/>
<circle cx="480.3" cy="624.4" r="1.05"/>
<circle cx="480.3" cy="647.6" r="1.05"/>
<circle cx="480.3" cy="630.5" r="1.05"/>
<circle cx="480.3" cy="642.9" r="1.05"/>
<circle cx="480.3" cy="641.4" r="1.05"/>
<circle cx="480.3" cy="640.9" r="1.05"/>
<circle cx="480.3" cy="646.8" r="1.05"/>
<circle cx="480.3" cy="637.5" r="1.05"/>
<circle cx="480.3" cy="655.7" r="1.05"/>
<circle cx="480.3" cy="645.6" r="1.05"/>
<circle cx="480.3" cy="641.9" r="1.05"/>
<circle cx="480.3" cy="652.5" r="1.05"/>
<circle cx="480.3" cy="687.8" r="1.05"/>
<circle cx="480.3" cy="653.4" r="1.05"/>
<circle cx="480.3" cy="634.7" r="1.05"/>
<circle cx="480.3" cy="649.5" r="1.05"/>
<circle cx="480.3" cy="668.6" r="1.05"/>
<circle cx="480.3" cy="647.8" r="1.05"/>
<circle cx="480.3" cy="664.2" r="1.05"/>
<circle cx="480.3" cy="620.8" r="1.05"/>
<circle cx="480.3" cy="628.9" r="1.05"/>
<circle cx="480.3" cy="636.7" r="1.05"/>
<circle cx="480.3" cy="654.8" r="1.05"/>
<circle cx="480.3" cy="646.0" r="1.05"/>
<circle cx="480.3" cy="658.3" r="1.05"/>
<circle cx="480.3" cy="627.3" r="1.05"/>
<circle cx="480.3" cy="635.7" r="1.05"/>
<circle cx="480.3" cy="631.7" r="1.05"/>
<circle cx="480.3" cy="648.4" r="1.05"/>
<circle cx="480.3" cy="665.5" r="1.05"/>
<circle cx="480.3" cy="639.8" r="1.05"/>
<circle cx="480.3" cy="637.2" r="1.05"/>
<circle cx="480.3" cy="679.7" r="1.05"/>
<circle cx="480.3" cy="638.9" r="1.05"/>
<circle cx="480.3" cy="662.3" r="1.05"/>
<circle cx="480.3" cy="638.4" r="1.05"/>
<circle cx="480.3" cy="654.3" r="1.05"/>
<circle cx="480.3" cy="617.4" r="1.05"/>
<circle cx="480.3" cy="622.3" r="1.05"/>
<circle cx="480.3" cy="660.7" r="1.05"/>
<circle cx="480.3" cy="632.4" r="1.05"/>
<circle cx="480.3" cy="623.8" r="1.05"/>
<circle cx="480.3" cy="632.8" r="1.05"/>
<circle cx="480.3" cy="653.1" r="1.05"/>
<circle cx="480.3" cy="651.5" r="1.05"/>
<circle cx="480.3" cy="619.1" r="1.05"/>
<circle cx="480.3" cy="702.6" r="1.05"/>
<circle cx="480.3" cy="634.8" r="1.05"/>
<circle cx="480.3" cy="644.2" r="1.05"/>
<circle cx="480.3" cy="646.7" r="1.05"/>
<circle cx="482.2" cy="650.1" r="1.05"/>
<circle cx="482.2" cy="630.3" r="1.05"/>
<circle cx="482.2" cy="646.0" r="1.05"/>
<circle cx="482.2" cy="668.3" r="1.05"/>
<circle cx="482.2" cy="650.7" r="1.05"/>
<circle cx="482.2" cy="647.0" r="1.05"/>
<circle cx="482.2" cy="659.0" r="1.05"/>
<circle cx="482.2" cy="606.1" r="1.05"/>
<circle cx="482.2" cy="665.3" r="1.05"/>
<circle cx="482.2" cy="631.3" r="1.05"/>
<circle cx="482.2" cy="635.9" r="1.05"/>
<circle cx="482.2" cy="651.9" r="1.05"/>
<circle cx="482.2" cy="632.6" r="1.05"/>
<circle cx="482.2" cy="597.9" r="1.05"/>
<circle cx="482.2" cy="616.3" r="1.05"/>
<circle cx="482.2" cy="655.1" r="1.05"/>
<circle cx="482.2" cy="638.0" r="1.05"/>
<circle cx="482.2" cy="643.4" r="1.05"/>
<circle cx="482.2" cy="675.4" r="1.05"/>
<circle cx="482.2" cy="635.2" r="1.05"/>
<circle cx="482.2" cy="658.5" r="1.05"/>
<circle cx="482.2" cy="644.1" r="1.05"/>
<circle cx="482.2" cy="625.7" r="1.05"/>
<circle cx="482.2" cy="657.1" r="1.05"/>
<circle cx="482.2" cy="638.5" r="1.05"/>
<circle cx="482.2" cy="640.8" r="1.05"/>
<circle cx="482.2" cy="636.8" r="1.05"/>
<circle cx="482.2" cy="652.6" r="1.05"/>
<circle cx="482.2" cy="629.6" r="1.05"/>
<circle cx="482.2" cy="646.4" r="1.05"/>
<circle cx="482.2" cy="642.3" r="1.05"/>
<circle cx="482.2" cy="653.4" r="1.05"/>
<circle cx="482.2" cy="662.5" r="1.05"/>
<circle cx="482.2" cy="641.9" r="1.05"/>
<circle cx="482.2" cy="647.6" r="1.05"/>
<circle cx="482.2" cy="639.3" r="1.05"/>
<circle cx="482.2" cy="651.2" r="1.05"/>
<circle cx="482.2" cy="644.9" r="1.05"/>
<circle cx="482.2" cy="610.3" r="1.05"/>
<circle cx="482.2" cy="616.9" r="1.05"/>
<circle cx="482.2" cy="651.4" r="1.05"/>
<circle cx="482.2" cy="663.0" r="1.05"/>
<circle cx="482.2" cy="632.9" r="1.05"/>
<circle cx="482.2" cy="648.3" r="1.05"/>
<circle cx="482.2" cy="667.6" r="1.05"/>
<circle cx="482.2" cy="611.8" r="1.05"/>
<circle cx="482.2" cy="639.9" r="1.05"/>
<circle cx="482.2" cy="649.0" r="1.05"/>
<circle cx="482.2" cy="659.9" r="1.05"/>
<circle cx="482.2" cy="639.1" r="1.05"/>
<circle cx="482.2" cy="628.9" r="1.05"/>
<circle cx="482.2" cy="640.6" r="1.05"/>
<circle cx="482.2" cy="641.5" r="1.05"/>
<circle cx="482.2" cy="626.3" r="1.05"/>
<circle cx="482.2" cy="603.1" r="1.05"/>
<circle cx="483.8" cy="646.9" r="1.05"/>
<circle cx="483.8" cy="645.4" r="1.05"/>
<circle cx="483.8" cy="639.1" r="1.05"/>
<circle cx="483.8" cy="636.9" r="1.05"/>
<circle cx="483.8" cy="652.9" r="1.05"/>
<circle cx="483.8" cy="620.0" r="1.05"/>
<circle cx="483.8" cy="608.9" r="1.05"/>
<circle cx="483.8" cy="640.9" r="1.05"/>
<circle cx="483.8" cy="633.9" r="1.05"/>
<circle cx="483.8" cy="625.5" r="1.05"/>
<circle cx="483.8" cy="627.4" r="1.05"/>
<circle cx="483.8" cy="652.6" r="1.05"/>
<circle cx="483.8" cy="658.1" r="1.05"/>
<circle cx="483.8" cy="649.4" r="1.05"/>
<circle cx="483.8" cy="654.5" r="1.05"/>
<circle cx="483.8" cy="655.1" r="1.05"/>
<circle cx="483.8" cy="643.9" r="1.05"/>
<circle cx="483.8" cy="652.0" r="1.05"/>
<circle cx="483.8" cy="646.1" r="1.05"/>
<circle cx="483.8" cy="595.4" r="1.05"/>
<circle cx="483.8" cy="661.4" r="1.05"/>
<circle cx="483.8" cy="634.7" r="1.05"/>
<circle cx="483.8" cy="636.5" r="1.05"/>
<circle cx="483.8" cy="637.7" r="1.05"/>
<circle cx="483.8" cy="638.0" r="1.05"/>
<circle cx="483.8" cy="624.6" r="1.05"/>
<circle cx="483.8" cy="624.1" r="1.05"/>
<circle cx="483.8" cy="649.2" r="1.05"/>
<circle cx="483.8" cy="645.1" r="1.05"/>
<circle cx="483.8" cy="631.9" r="1.05"/>
<circle cx="483.8" cy="649.8" r="1.05"/>
<circle cx="483.8" cy="664.5" r="1.05"/>
<circle cx="483.8" cy="650.7" r="1.05"/>
<circle cx="483.8" cy="660.3" r="1.05"/>
<circle cx="483.8" cy="633.7" r="1.05"/>
<circle cx="483.8" cy="641.9" r="1.05"/>
<circle cx="483.8" cy="639.8" r="1.05"/>
<circle cx="483.8" cy="630.8" r="1.05"/>
<circle cx="483.8" cy="658.8" r="1.05"/>
<circle cx="483.8" cy="626.9" r="1.05"/>
<circle cx="483.8" cy="632.8" r="1.05"/>
<circle cx="483.8" cy="643.0" r="1.05"/>
<circle cx="483.8" cy="639.5" r="1.05"/>
<circle cx="483.8" cy="615.7" r="1.05"/>
<circle cx="483.8" cy="618.6" r="1.05"/>
<circle cx="483.8" cy="631.6" r="1.05"/>
<circle cx="483.8" cy="616.9" r="1.05"/>
<circle cx="483.8" cy="644.4" r="1.05"/>
<circle cx="483.8" cy="621.0" r="1.05"/>
<circle cx="485.4" cy="634.5" r="1.05"/>
<circle cx="485.4" cy="622.4" r="1.05"/>
<circle cx="485.4" cy="653.9" r="1.05"/>
<circle cx="485.4" cy="608.4" r="1.05"/>
<circle cx="485.4" cy="648.7" r="1.05"/>
<circle cx="485.4" cy="630.3" r="1.05"/>
<circle cx="485.4" cy="646.8" r="1.05"/>
<circle cx="485.4" cy="632.1" r="1.05"/>
<circle cx="485.4" cy="665.5" r="1.05"/>
<circle cx="485.4" cy="616.3" r="1.05"/>
<circle cx="485.4" cy="647.3" r="1.05"/>
<circle cx="485.4" cy="578.5" r="1.05"/>
<circle cx="485.4" cy="633.8" r="1.05"/>
<circle cx="485.4" cy="574.3" r="1.05"/>
<circle cx="485.4" cy="668.6" r="1.05"/>
<circle cx="485.4" cy="634.8" r="1.05"/>
<circle cx="485.4" cy="642.3" r="1.05"/>
<circle cx="485.4" cy="613.7" r="1.05"/>
<circle cx="485.4" cy="635.8" r="1.05"/>
<circle cx="485.4" cy="622.1" r="1.05"/>
<circle cx="485.4" cy="655.8" r="1.05"/>
<circle cx="485.4" cy="643.3" r="1.05"/>
<circle cx="485.4" cy="635.3" r="1.05"/>
<circle cx="485.4" cy="666.7" r="1.05"/>
<circle cx="485.4" cy="624.3" r="1.05"/>
<circle cx="485.4" cy="625.1" r="1.05"/>
<circle cx="485.4" cy="655.5" r="1.05"/>
<circle cx="485.4" cy="664.5" r="1.05"/>
<circle cx="485.4" cy="641.8" r="1.05"/>
<circle cx="485.4" cy="638.3" r="1.05"/>
<circle cx="485.4" cy="646.1" r="1.05"/>
<circle cx="485.4" cy="651.5" r="1.05"/>
<circle cx="485.4" cy="661.2" r="1.05"/>
<circle cx="485.4" cy="647.8" r="1.05"/>
<circle cx="485.4" cy="619.2" r="1.05"/>
<circle cx="485.4" cy="629.4" r="1.05"/>
<circle cx="485.4" cy="648.9" r="1.05"/>
<circle cx="485.4" cy="663.4" r="1.05"/>
<circle cx="485.4" cy="621.3" r="1.05"/>
<circle cx="485.4" cy="652.9" r="1.05"/>
<circle cx="485.4" cy="623.8" r="1.05"/>
<circle cx="485.4" cy="663.0" r="1.05"/>
<circle cx="485.4" cy="650.8" r="1.05"/>
<circle cx="485.4" cy="649.9" r="1.05"/>
<circle cx="485.4" cy="637.1" r="1.05"/>
<circle cx="485.4" cy="640.8" r="1.05"/>
<circle cx="485.4" cy="633.7" r="1.05"/>
<circle cx="485.4" cy="641.3" r="1.05"/>
<circle cx="485.4" cy="643.0" r="1.05"/>
<circle cx="486.8" cy="654.8" r="1.05"/>
<circle cx="486.8" cy="630.0" r="1.05"/>
<circle cx="486.8" cy="649.0" r="1.05"/>
<circle cx="486.8" cy="645.2" r="1.05"/>
<circle cx="486.8" cy="636.5" r="1.05"/>
<circle cx="486.8" cy="646.5" r="1.05"/>
<circle cx="486.8" cy="634.3" r="1.05"/>
<circle cx="486.8" cy="621.5" r="1.05"/>
<circle cx="486.8" cy="654.1" r="1.05"/>
<circle cx="486.8" cy="643.6" r="1.05"/>
<circle cx="486.8" cy="646.1" r="1.05"/>
<circle cx="486.8" cy="638.5" r="1.05"/>
<circle cx="486.8" cy="629.5" r="1.05"/>
<circle cx="486.8" cy="666.4" r="1.05"/>
<circle cx="486.8" cy="628.1" r="1.05"/>
<circle cx="486.8" cy="648.4" r="1.05"/>
<circle cx="486.8" cy="642.3" r="1.05"/>
<circle cx="486.8" cy="639.0" r="1.05"/>
<circle cx="486.8" cy="626.8" r="1.05"/>
<circle cx="486.8" cy="650.2" r="1.05"/>
<circle cx="486.8" cy="657.8" r="1.05"/>
<circle cx="486.8" cy="645.5" r="1.05"/>
<circle cx="486.8" cy="647.4" r="1.05"/>
<circle cx="486.8" cy="641.7" r="1.05"/>
<circle cx="486.8" cy="669.3" r="1.05"/>
<circle cx="486.8" cy="642.8" r="1.05"/>
<circle cx="486.8" cy="656.5" r="1.05"/>
<circle cx="486.8" cy="632.1" r="1.05"/>
<circle cx="486.8" cy="631.6" r="1.05"/>
<circle cx="486.8" cy="677.1" r="1.05"/>
<circle cx="486.8" cy="651.9" r="1.05"/>
<circle cx="486.8" cy="657.3" r="1.05"/>
<circle cx="486.8" cy="649.6" r="1.05"/>
<circle cx="486.8" cy="637.5" r="1.05"/>
<circle cx="486.8" cy="661.0" r="1.05"/>
<circle cx="486.8" cy="614.6" r="1.05"/>
<circle cx="486.8" cy="656.9" r="1.05"/>
<circle cx="486.8" cy="674.4" r="1.05"/>
<circle cx="486.8" cy="632.4" r="1.05"/>
<circle cx="486.8" cy="654.4" r="1.05"/>
<circle cx="486.8" cy="658.6" r="1.05"/>
<circle cx="486.8" cy="605.2" r="1.05"/>
<circle cx="486.8" cy="640.8" r="1.05"/>
<circle cx="486.8" cy="613.0" r="1.05"/>
<circle cx="488.2" cy="650.4" r="1.05"/>
<circle cx="488.2" cy="672.1" r="1.05"/>
<circle cx="488.2" cy="648.2" r="1.05"/>
<circle cx="488.2" cy="639.6" r="1.05"/>
<circle cx="488.2" cy="634.7" r="1.05"/>
<circle cx="488.2" cy="667.0" r="1.05"/>
<circle cx="488.2" cy="641.7" r="1.05"/>
<circle cx="488.2" cy="612.5" r="1.05"/>
<circle cx="488.2" cy="638.9" r="1.05"/>
<circle cx="488.2" cy="642.9" r="1.05"/>
<circle cx="488.2" cy="643.6" r="1.05"/>
<circle cx="488.2" cy="619.6" r="1.05"/>
<circle cx="488.2" cy="644.8" r="1.05"/>
<circle cx="488.2" cy="670.9" r="1.05"/>
<circle cx="488.2" cy="644.4" r="1.05"/>
<circle cx="488.2" cy="640.2" r="1.05"/>
<circle cx="488.2" cy="633.6" r="1.05"/>
<circle cx="488.2" cy="676.0" r="1.05"/>
<circle cx="488.2" cy="635.6" r="1.05"/>
<circle cx="488.2" cy="643.8" r="1.05"/>
<circle cx="488.2" cy="646.2" r="1.05"/>
<circle cx="488.2" cy="631.0" r="1.05"/>
<circle cx="488.2" cy="661.4" r="1.05"/>
<circle cx="488.2" cy="650.1" r="1.05"/>
<circle cx="488.2" cy="626.7" r="1.05"/>
<circle cx="488.2" cy="634.1" r="1.05"/>
<circle cx="488.2" cy="615.1" r="1.05"/>
<circle cx="488.2" cy="664.7" r="1.05"/>
<circle cx="488.2" cy="649.2" r="1.05"/>
<circle cx="488.2" cy="651.3" r="1.05"/>
<circle cx="488.2" cy="637.5" r="1.05"/>
<circle cx="488.2" cy="629.5" r="1.05"/>
<circle cx="488.2" cy="646.8" r="1.05"/>
<circle cx="488.2" cy="627.9" r="1.05"/>
<circle cx="488.2" cy="632.3" r="1.05"/>
<circle cx="488.2" cy="658.1" r="1.05"/>
<circle cx="488.2" cy="617.1" r="1.05"/>
<circle cx="488.2" cy="649.5" r="1.05"/>
<circle cx="488.2" cy="652.2" r="1.05"/>
<circle cx="488.2" cy="662.0" r="1.05"/>
<circle cx="489.4" cy="628.5" r="1.05"/>
<circle cx="489.4" cy="640.5" r="1.05"/>
<circle cx="489.4" cy="651.4" r="1.05"/>
<circle cx="489.4" cy="637.7" r="1.05"/>
<circle cx="489.4" cy="626.2" r="1.05"/>
<circle cx="489.4" cy="649.3" r="1.05"/>
<circle cx="489.4" cy="655.1" r="1.05"/>
<circle cx="489.4" cy="650.8" r="1.05"/>
<circle cx="489.4" cy="620.7" r="1.05"/>
<circle cx="489.4" cy="654.5" r="1.05"/>
<circle cx="489.4" cy="682.0" r="1.05"/>
<circle cx="489.4" cy="642.5" r="1.05"/>
<circle cx="489.4" cy="641.9" r="1.05"/>
<circle cx="489.4" cy="663.0" r="1.05"/>
<circle cx="489.4" cy="668.0" r="1.05"/>
<circle cx="489.4" cy="650.4" r="1.05"/>
<circle cx="489.4" cy="646.7" r="1.05"/>
<circle cx="489.4" cy="646.9" r="1.05"/>
<circle cx="489.4" cy="622.4" r="1.05"/>
<circle cx="489.4" cy="630.3" r="1.05"/>
<circle cx="489.4" cy="661.4" r="1.05"/>
<circle cx="489.4" cy="635.5" r="1.05"/>
<circle cx="489.4" cy="657.9" r="1.05"/>
<circle cx="489.4" cy="647.4" r="1.05"/>
<circle cx="489.4" cy="628.9" r="1.05"/>
<circle cx="489.4" cy="666.1" r="1.05"/>
<circle cx="489.4" cy="642.8" r="1.05"/>
<circle cx="489.4" cy="628.1" r="1.05"/>
<circle cx="489.4" cy="635.1" r="1.05"/>
<circle cx="489.4" cy="633.1" r="1.05"/>
<circle cx="489.4" cy="652.7" r="1.05"/>
<circle cx="489.4" cy="629.7" r="1.05"/>
<circle cx="489.4" cy="648.7" r="1.05"/>
<circle cx="489.4" cy="619.9" r="1.05"/>
<circle cx="489.4" cy="604.0" r="1.05"/>
<circle cx="489.4" cy="621.3" r="1.05"/>
<circle cx="490.6" cy="640.7" r="1.05"/>
<circle cx="490.6" cy="642.3" r="1.05"/>
<circle cx="490.6" cy="639.7" r="1.05"/>
<circle cx="490.6" cy="624.9" r="1.05"/>
<circle cx="490.6" cy="646.6" r="1.05"/>
<circle cx="490.6" cy="637.9" r="1.05"/>
<circle cx="490.6" cy="631.0" r="1.05"/>
<circle cx="490.6" cy="621.2" r="1.05"/>
<circle cx="490.6" cy="648.7" r="1.05"/>
<circle cx="490.6" cy="639.0" r="1.05"/>
<circle cx="490.6" cy="611.8" r="1.05"/>
<circle cx="490.6" cy="630.7" r="1.05"/>
<circle cx="490.6" cy="650.4" r="1.05"/>
<circle cx="490.6" cy="628.1" r="1.05"/>
<circle cx="490.6" cy="674.9" r="1.05"/>
<circle cx="490.6" cy="623.8" r="1.05"/>
<circle cx="490.6" cy="644.2" r="1.05"/>
<circle cx="490.6" cy="634.0" r="1.05"/>
<circle cx="490.6" cy="642.2" r="1.05"/>
<circle cx="490.6" cy="631.9" r="1.05"/>
<circle cx="490.6" cy="639.9" r="1.05"/>
<circle cx="490.6" cy="643.2" r="1.05"/>
<circle cx="490.6" cy="634.9" r="1.05"/>
<circle cx="490.6" cy="645.2" r="1.05"/>
<circle cx="490.6" cy="633.4" r="1.05"/>
<circle cx="490.6" cy="646.9" r="1.05"/>
<circle cx="490.6" cy="625.7" r="1.05"/>
<circle cx="490.6" cy="633.0" r="1.05"/>
<circle cx="490.6" cy="614.2" r="1.05"/>
<circle cx="490.6" cy="635.7" r="1.05"/>
<circle cx="490.6" cy="627.5" r="1.05"/>
<circle cx="490.6" cy="659.0" r="1.05"/>
<circle cx="490.6" cy="631.3" r="1.05"/>
<circle cx="490.6" cy="624.3" r="1.05"/>
<circle cx="490.6" cy="649.4" r="1.05"/>
<circle cx="491.7" cy="625.3" r="1.05"/>
<circle cx="491.7" cy="636.8" r="1.05"/>
<circle cx="491.7" cy="655.7" r="1.05"/>
<circle cx="491.7" cy="669.3" r="1.05"/>
<circle cx="491.7" cy="632.5" r="1.05"/>
<circle cx="491.7" cy="653.1" r="1.05"/>
<circle cx="491.7" cy="632.8" r="1.05"/>
<circle cx="491.7" cy="660.5" r="1.05"/>
<circle cx="491.7" cy="632.2" r="1.05"/>
<circle cx="491.7" cy="635.5" r="1.05"/>
<circle cx="491.7" cy="626.5" r="1.05"/>
<circle cx="491.7" cy="627.9" r="1.05"/>
<circle cx="491.7" cy="636.5" r="1.05"/>
<circle cx="491.7" cy="644.3" r="1.05"/>
<circle cx="491.7" cy="649.4" r="1.05"/>
<circle cx="491.7" cy="638.7" r="1.05"/>
<circle cx="491.7" cy="659.6" r="1.05"/>
<circle cx="491.7" cy="612.3" r="1.05"/>
<circle cx="491.7" cy="633.3" r="1.05"/>
<circle cx="491.7" cy="609.7" r="1.05"/>
<circle cx="491.7" cy="645.5" r="1.05"/>
<circle cx="491.7" cy="607.1" r="1.05"/>
<circle cx="491.7" cy="642.1" r="1.05"/>
<circle cx="491.7" cy="626.1" r="1.05"/>
<circle cx="491.7" cy="650.6" r="1.05"/>
<circle cx="491.7" cy="629.2" r="1.05"/>
<circle cx="491.7" cy="647.7" r="1.05"/>
<circle cx="491.7" cy="648.1" r="1.05"/>
<circle cx="491.7" cy="656.3" r="1.05"/>
<circle cx="491.7" cy="653.5" r="1.05"/>
<circle cx="492.8" cy="623.9" r="1.05"/>
<circle cx="492.8" cy="640.6" r="1.05"/>
<circle cx="492.8" cy="621.1" r="1.05"/>
<circle cx="492.8" cy="646.0" r="1.05"/>
<circle cx="492.8" cy="675.4" r="1.05"/>
<circle cx="492.8" cy="622.7" r="1.05"/>
<circle cx="492.8" cy="637.8" r="1.05"/>
<circle cx="492.8" cy="640.8" r="1.05"/>
<circle cx="492.8" cy="651.8" r="1.05"/>
<circle cx="492.8" cy="651.5" r="1.05"/>
<circle cx="492.8" cy="635.8" r="1.05"/>
<circle cx="492.8" cy="619.0" r="1.05"/>
<circle cx="492.8" cy="667.6" r="1.05"/>
<circle cx="492.8" cy="676.5" r="1.05"/>
<circle cx="492.8" cy="642.8" r="1.05"/>
<circle cx="492.8" cy="644.2" r="1.05"/>
<circle cx="492.8" cy="670.1" r="1.05"/>
<circle cx="492.8" cy="632.1" r="1.05"/>
<circle cx="492.8" cy="619.9" r="1.05"/>
<circle cx="492.8" cy="631.4" r="1.05"/>
<circle cx="492.8" cy="636.4" r="1.05"/>
<circle cx="492.8" cy="685.6" r="1.05"/>
<circle cx="492.8" cy="648.7" r="1.05"/>
<circle cx="492.8" cy="622.1" r="1.05"/>
<circle cx="492.8" cy="655.7" r="1.05"/>
<circle cx="492.8" cy="666.7" r="1.05"/>
<circle cx="492.8" cy="674.4" r="1.05"/>
<circle cx="492.8" cy="628.8" r="1.05"/>
<circle cx="492.8" cy="631.1" r="1.05"/>
<circle cx="492.8" cy="634.0" r="1.05"/>
<circle cx="492.8" cy="632.8" r="1.05"/>
<circle cx="493.8" cy="656.8" r="1.05"/>
<circle cx="493.8" cy="626.7" r="1.05"/>
<circle cx="493.8" cy="652.4" r="1.05"/>
<circle cx="493.8" cy="627.8" r="1.05"/>
<circle cx="493.8" cy="673.9" r="1.05"/>
<circle cx="493.8" cy="644.5" r="1.05"/>
<circle cx="493.8" cy="639.1" r="1.05"/>
<circle cx="493.8" cy="648.1" r="1.05"/>
<circle cx="493.8" cy="623.6" r="1.05"/>
<circle cx="493.8" cy="631.6" r="1.05"/>
<circle cx="493.8" cy="655.4" r="1.05"/>
<circle cx="493.8" cy="621.0" r="1.05"/>
<circle cx="493.8" cy="648.6" r="1.05"/>
<circle cx="493.8" cy="662.3" r="1.05"/>
<circle cx="493.8" cy="643.3" r="1.05"/>
<circle cx="493.8" cy="636.0" r="1.05"/>
<circle cx="493.8" cy="661.2" r="1.05"/>
<circle cx="493.8" cy="619.9" r="1.05"/>
<circle cx="493.8" cy="632.4" r="1.05"/>
<circle cx="493.8" cy="639.7" r="1.05"/>
<circle cx="493.8" cy="671.7" r="1.05"/>
<circle cx="493.8" cy="636.3" r="1.05"/>
<circle cx="493.8" cy="641.1" r="1.05"/>
<circle cx="493.8" cy="630.9" r="1.05"/>
<circle cx="493.8" cy="676.5" r="1.05"/>
<circle cx="493.8" cy="587.8" r="1.05"/>
<circle cx="494.7" cy="637.4" r="1.05"/>
<circle cx="494.7" cy="617.1" r="1.05"/>
<circle cx="494.7" cy="643.6" r="1.05"/>
<circle cx="494.7" cy="634.1" r="1.05"/>
<circle cx="494.7" cy="610.4" r="1.05"/>
<circle cx="494.7" cy="623.8" r="1.05"/>
<circle cx="494.7" cy="615.8" r="1.05"/>
<circle cx="494.7" cy="630.4" r="1.05"/>
<circle cx="494.7" cy="663.9" r="1.05"/>
<circle cx="494.7" cy="646.2" r="1.05"/>
<circle cx="494.7" cy="643.9" r="1.05"/>
<circle cx="494.7" cy="640.4" r="1.05"/>
<circle cx="494.7" cy="612.4" r="1.05"/>
<circle cx="494.7" cy="645.5" r="1.05"/>
<circle cx="494.7" cy="622.2" r="1.05"/>
<circle cx="494.7" cy="641.2" r="1.05"/>
<circle cx="494.7" cy="638.4" r="1.05"/>
<circle cx="494.7" cy="658.1" r="1.05"/>
<circle cx="494.7" cy="635.3" r="1.05"/>
<circle cx="494.7" cy="626.9" r="1.05"/>
<circle cx="494.7" cy="661.0" r="1.05"/>
<circle cx="494.7" cy="635.9" r="1.05"/>
<circle cx="494.7" cy="658.3" r="1.05"/>
<circle cx="494.7" cy="662.0" r="1.05"/>
<circle cx="494.7" cy="659.0" r="1.05"/>
<circle cx="495.6" cy="667.3" r="1.05"/>
<circle cx="495.6" cy="609.9" r="1.05"/>
<circle cx="495.6" cy="663.0" r="1.05"/>
<circle cx="495.6" cy="647.4" r="1.05"/>
<circle cx="495.6" cy="645.5" r="1.05"/>
<circle cx="495.6" cy="661.8" r="1.05"/>
<circle cx="495.6" cy="641.9" r="1.05"/>
<circle cx="495.6" cy="640.1" r="1.05"/>
<circle cx="495.6" cy="666.4" r="1.05"/>
<circle cx="495.6" cy="636.3" r="1.05"/>
<circle cx="495.6" cy="565.6" r="1.05"/>
<circle cx="495.6" cy="655.3" r="1.05"/>
<circle cx="495.6" cy="623.1" r="1.05"/>
<circle cx="495.6" cy="654.3" r="1.05"/>
<circle cx="495.6" cy="656.3" r="1.05"/>
<circle cx="495.6" cy="650.0" r="1.05"/>
<circle cx="495.6" cy="636.9" r="1.05"/>
<circle cx="495.6" cy="647.9" r="1.05"/>
<circle cx="495.6" cy="660.7" r="1.05"/>
<circle cx="495.6" cy="634.0" r="1.05"/>
<circle cx="495.6" cy="613.0" r="1.05"/>
<circle cx="495.6" cy="631.4" r="1.05"/>
<circle cx="495.6" cy="625.0" r="1.05"/>
<circle cx="495.6" cy="662.3" r="1.05"/>
<circle cx="495.6" cy="646.5" r="1.05"/>
<circle cx="495.6" cy="643.8" r="1.05"/>
<circle cx="496.5" cy="623.6" r="1.05"/>
<circle cx="496.5" cy="641.1" r="1.05"/>
<circle cx="496.5" cy="644.4" r="1.05"/>
<circle cx="496.5" cy="625.0" r="1.05"/>
<circle cx="496.5" cy="609.7" r="1.05"/>
<circle cx="496.5" cy="600.6" r="1.05"/>
<circle cx="496.5" cy="626.6" r="1.05"/>
<circle cx="496.5" cy="645.1" r="1.05"/>
<circle cx="496.5" cy="636.9" r="1.05"/>
<circle cx="496.5" cy="638.5" r="1.05"/>
<circle cx="496.5" cy="659.4" r="1.05"/>
<circle cx="496.5" cy="638.9" r="1.05"/>
<circle cx="496.5" cy="618.1" r="1.05"/>
<circle cx="496.5" cy="649.7" r="1.05"/>
<circle cx="496.5" cy="659.9" r="1.05"/>
<circle cx="496.5" cy="653.2" r="1.05"/>
<circle cx="496.5" cy="683.7" r="1.05"/>
<circle cx="496.5" cy="643.0" r="1.05"/>
<circle cx="496.5" cy="647.7" r="1.05"/>
<circle cx="496.5" cy="648.7" r="1.05"/>
<circle cx="496.5" cy="624.5" r="1.05"/>
<circle cx="496.5" cy="639.8" r="1.05"/>
<circle cx="496.5" cy="635.7" r="1.05"/>
<circle cx="497.3" cy="639.8" r="1.05"/>
<circle cx="497.3" cy="635.8" r="1.05"/>
<circle cx="497.3" cy="649.0" r="1.05"/>
<circle cx="497.3" cy="629.8" r="1.05"/>
<circle cx="497.3" cy="638.5" r="1.05"/>
<circle cx="497.3" cy="679.7" r="1.05"/>
<circle cx="497.3" cy="631.0" r="1.05"/>
<circle cx="497.3" cy="666.4" r="1.05"/>
<circle cx="497.3" cy="622.4" r="1.05"/>
<circle cx="497.3" cy="626.1" r="1.05"/>
<circle cx="497.3" cy="639.2" r="1.05"/>
<circle cx="497.3" cy="649.8" r="1.05"/>
<circle cx="497.3" cy="603.4" r="1.05"/>
<circle cx="497.3" cy="668.3" r="1.05"/>
<circle cx="497.3" cy="656.5" r="1.05"/>
<circle cx="497.3" cy="631.5" r="1.05"/>
<circle cx="497.3" cy="663.7" r="1.05"/>
<circle cx="497.3" cy="614.1" r="1.05"/>
<circle cx="497.3" cy="651.7" r="1.05"/>
<circle cx="497.3" cy="620.0" r="1.05"/>
<circle cx="497.3" cy="645.9" r="1.05"/>
<circle cx="498.1" cy="655.8" r="1.05"/>
<circle cx="498.1" cy="649.8" r="1.05"/>
<circle cx="498.1" cy="654.4" r="1.05"/>
<circle cx="498.1" cy="643.7" r="1.05"/>
<circle cx="498.1" cy="649.3" r="1.05"/>
<circle cx="498.1" cy="652.7" r="1.05"/>
<circle cx="498.1" cy="622.1" r="1.05"/>
<circle cx="498.1" cy="633.9" r="1.05"/>
<circle cx="498.1" cy="636.7" r="1.05"/>
<circle cx="498.1" cy="628.0" r="1.05"/>
<circle cx="498.1" cy="638.9" r="1.05"/>
<circle cx="498.1" cy="614.4" r="1.05"/>
<circle cx="498.1" cy="647.6" r="1.05"/>
<circle cx="498.1" cy="633.1" r="1.05"/>
<circle cx="498.1" cy="638.1" r="1.05"/>
<circle cx="498.1" cy="654.8" r="1.05"/>
<circle cx="498.1" cy="621.1" r="1.05"/>
<circle cx="498.1" cy="614.0" r="1.05"/>
<circle cx="498.1" cy="630.4" r="1.05"/>
<circle cx="498.9" cy="632.9" r="1.05"/>
<circle cx="498.9" cy="650.2" r="1.05"/>
<circle cx="498.9" cy="642.1" r="1.05"/>
<circle cx="498.9" cy="622.1" r="1.05"/>
<circle cx="498.9" cy="666.1" r="1.05"/>
<circle cx="498.9" cy="634.9" r="1.05"/>
<circle cx="498.9" cy="654.7" r="1.05"/>
<circle cx="498.9" cy="669.0" r="1.05"/>
<circle cx="498.9" cy="652.1" r="1.05"/>
<circle cx="498.9" cy="638.0" r="1.05"/>
<circle cx="498.9" cy="637.3" r="1.05"/>
<circle cx="498.9" cy="611.7" r="1.05"/>
<circle cx="498.9" cy="644.8" r="1.05"/>
<circle cx="498.9" cy="634.1" r="1.05"/>
<circle cx="498.9" cy="648.9" r="1.05"/>
<circle cx="498.9" cy="632.4" r="1.05"/>
<circle cx="498.9" cy="664.2" r="1.05"/>
<circle cx="498.9" cy="650.3" r="1.05"/>
<circle cx="498.9" cy="651.5" r="1.05"/>
<circle cx="498.9" cy="648.3" r="1.05"/>
<circle cx="499.6" cy="663.0" r="1.05"/>
<circle cx="499.6" cy="648.7" r="1.05"/>
<circle cx="499.6" cy="656.9" r="1.05"/>
<circle cx="499.6" cy="632.4" r="1.05"/>
<circle cx="499.6" cy="634.1" r="1.05"/>
<circle cx="499.6" cy="639.8" r="1.05"/>
<circle cx="499.6" cy="611.3" r="1.05"/>
<circle cx="499.6" cy="616.5" r="1.05"/>
<circle cx="499.6" cy="621.8" r="1.05"/>
<circle cx="499.6" cy="641.9" r="1.05"/>
<circle cx="499.6" cy="661.0" r="1.05"/>
<circle cx="499.6" cy="584.7" r="1.05"/>
<circle cx="499.6" cy="671.7" r="1.05"/>
<circle cx="499.6" cy="659.6" r="1.05"/>
<circle cx="499.6" cy="625.5" r="1.05"/>
<circle cx="499.6" cy="623.2" r="1.05"/>
<circle cx="499.6" cy="628.6" r="1.05"/>
<circle cx="499.6" cy="640.5" r="1.05"/>
<circle cx="500.3" cy="643.4" r="1.05"/>
<circle cx="500.3" cy="684.6" r="1.05"/>
<circle cx="500.3" cy="617.5" r="1.05"/>
<circle cx="500.3" cy="659.7" r="1.05"/>
<circle cx="500.3" cy="639.8" r="1.05"/>
<circle cx="500.3" cy="629.5" r="1.05"/>
<circle cx="500.3" cy="624.8" r="1.05"/>
<circle cx="500.3" cy="644.1" r="1.05"/>
<circle cx="500.3" cy="631.0" r="1.05"/>
<circle cx="500.3" cy="639.5" r="1.05"/>
<circle cx="500.3" cy="630.1" r="1.05"/>
<circle cx="500.3" cy="651.0" r="1.05"/>
<circle cx="500.3" cy="645.0" r="1.05"/>
<circle cx="500.3" cy="613.0" r="1.05"/>
<circle cx="500.3" cy="643.0" r="1.05"/>
<circle cx="500.3" cy="634.3" r="1.05"/>
<circle cx="500.3" cy="655.5" r="1.05"/>
<circle cx="501.0" cy="637.9" r="1.05"/>
<circle cx="501.0" cy="648.6" r="1.05"/>
<circle cx="501.0" cy="638.5" r="1.05"/>
<circle cx="501.0" cy="623.8" r="1.05"/>
<circle cx="501.0" cy="655.0" r="1.05"/>
<circle cx="501.0" cy="613.6" r="1.05"/>
<circle cx="501.0" cy="636.3" r="1.05"/>
<circle cx="501.0" cy="628.9" r="1.05"/>
<circle cx="501.0" cy="610.3" r="1.05"/>
<circle cx="501.0" cy="623.4" r="1.05"/>
<circle cx="501.0" cy="631.4" r="1.05"/>
<circle cx="501.0" cy="638.8" r="1.05"/>
<circle cx="501.0" cy="636.2" r="1.05"/>
<circle cx="501.7" cy="597.3" r="1.05"/>
<circle cx="501.7" cy="628.1" r="1.05"/>
<circle cx="501.7" cy="655.7" r="1.05"/>
<circle cx="501.7" cy="630.0" r="1.05"/>
<circle cx="501.7" cy="604.0" r="1.05"/>
<circle cx="501.7" cy="656.5" r="1.05"/>
<circle cx="501.7" cy="625.3" r="1.05"/>
<circle cx="501.7" cy="641.5" r="1.05"/>
<circle cx="501.7" cy="641.2" r="1.05"/>
<circle cx="501.7" cy="643.9" r="1.05"/>
<circle cx="501.7" cy="626.5" r="1.05"/>
<circle cx="501.7" cy="598.6" r="1.05"/>
<circle cx="501.7" cy="635.5" r="1.05"/>
<circle cx="501.7" cy="651.0" r="1.05"/>
<circle cx="502.3" cy="634.4" r="1.05"/>
<circle cx="502.3" cy="633.5" r="1.05"/>
<circle cx="502.3" cy="631.8" r="1.05"/>
<circle cx="502.3" cy="630.4" r="1.05"/>
<circle cx="502.3" cy="605.8" r="1.05"/>
<circle cx="502.3" cy="638.7" r="1.05"/>
<circle cx="502.3" cy="652.6" r="1.05"/>
<circle cx="502.3" cy="644.1" r="1.05"/>
<circle cx="502.3" cy="653.9" r="1.05"/>
<circle cx="502.3" cy="646.1" r="1.05"/>
<circle cx="502.3" cy="623.1" r="1.05"/>
<circle cx="502.3" cy="625.5" r="1.05"/>
<circle cx="502.3" cy="629.0" r="1.05"/>
<circle cx="502.3" cy="618.7" r="1.05"/>
<circle cx="502.3" cy="642.3" r="1.05"/>
<circle cx="502.9" cy="631.4" r="1.05"/>
<circle cx="502.9" cy="636.4" r="1.05"/>
<circle cx="502.9" cy="627.8" r="1.05"/>
<circle cx="502.9" cy="654.0" r="1.05"/>
<circle cx="502.9" cy="619.1" r="1.05"/>
<circle cx="502.9" cy="626.3" r="1.05"/>
<circle cx="502.9" cy="614.0" r="1.05"/>
<circle cx="502.9" cy="617.7" r="1.05"/>
<circle cx="502.9" cy="638.0" r="1.05"/>
<circle cx="502.9" cy="625.7" r="1.05"/>
<circle cx="502.9" cy="605.1" r="1.05"/>
<circle cx="502.9" cy="644.0" r="1.05"/>
<circle cx="502.9" cy="635.4" r="1.05"/>
<circle cx="502.9" cy="638.9" r="1.05"/>
<circle cx="503.5" cy="648.0" r="1.05"/>
<circle cx="503.5" cy="619.1" r="1.05"/>
<circle cx="503.5" cy="611.5" r="1.05"/>
<circle cx="503.5" cy="630.5" r="1.05"/>
<circle cx="503.5" cy="643.1" r="1.05"/>
<circle cx="503.5" cy="658.8" r="1.05"/>
<circle cx="503.5" cy="610.7" r="1.05"/>
<circle cx="503.5" cy="620.3" r="1.05"/>
<circle cx="503.5" cy="641.6" r="1.05"/>
<circle cx="503.5" cy="649.7" r="1.05"/>
<circle cx="503.5" cy="653.4" r="1.05"/>
<circle cx="503.5" cy="644.2" r="1.05"/>
<circle cx="503.5" cy="664.7" r="1.05"/>
<circle cx="503.5" cy="632.0" r="1.05"/>
<circle cx="504.1" cy="599.4" r="1.05"/>
<circle cx="504.1" cy="636.8" r="1.05"/>
<circle cx="504.1" cy="651.3" r="1.05"/>
<circle cx="504.1" cy="648.6" r="1.05"/>
<circle cx="504.1" cy="612.9" r="1.05"/>
<circle cx="504.1" cy="674.9" r="1.05"/>
<circle cx="504.1" cy="649.4" r="1.05"/>
<circle cx="504.1" cy="639.0" r="1.05"/>
<circle cx="504.1" cy="611.7" r="1.05"/>
<circle cx="504.1" cy="645.3" r="1.05"/>
<circle cx="504.1" cy="635.9" r="1.05"/>
<circle cx="504.1" cy="627.6" r="1.05"/>
<circle cx="504.1" cy="613.6" r="1.05"/>
<circle cx="504.7" cy="628.6" r="1.05"/>
<circle cx="504.7" cy="625.7" r="1.05"/>
<circle cx="504.7" cy="628.8" r="1.05"/>
<circle cx="504.7" cy="621.7" r="1.05"/>
<circle cx="504.7" cy="631.4" r="1.05"/>
<circle cx="504.7" cy="641.8" r="1.05"/>
<circle cx="504.7" cy="630.0" r="1.05"/>
<circle cx="504.7" cy="627.6" r="1.05"/>
<circle cx="504.7" cy="624.7" r="1.05"/>
<circle cx="504.7" cy="625.1" r="1.05"/>
<circle cx="505.2" cy="638.7" r="1.05"/>
<circle cx="505.2" cy="618.2" r="1.05"/>
<circle cx="505.2" cy="606.7" r="1.05"/>
<circle cx="505.2" cy="630.9" r="1.05"/>
<circle cx="505.2" cy="663.9" r="1.05"/>
<circle cx="505.2" cy="648.2" r="1.05"/>
<circle cx="505.2" cy="616.4" r="1.05"/>
<circle cx="505.2" cy="662.3" r="1.05"/>
<circle cx="505.2" cy="623.2" r="1.05"/>
<circle cx="505.2" cy="644.6" r="1.05"/>
<circle cx="505.2" cy="629.3" r="1.05"/>
<circle cx="505.2" cy="611.6" r="1.05"/>
<circle cx="505.8" cy="640.1" r="1.05"/>
<circle cx="505.8" cy="643.5" r="1.05"/>
<circle cx="505.8" cy="584.8" r="1.05"/>
<circle cx="505.8" cy="592.2" r="1.05"/>
<circle cx="505.8" cy="650.2" r="1.05"/>
<circle cx="505.8" cy="669.3" r="1.05"/>
<circle cx="505.8" cy="654.7" r="1.05"/>
<circle cx="505.8" cy="629.5" r="1.05"/>
<circle cx="505.8" cy="659.9" r="1.05"/>
<circle cx="505.8" cy="650.3" r="1.05"/>
<circle cx="505.8" cy="644.5" r="1.05"/>
<circle cx="506.3" cy="621.1" r="1.05"/>
<circle cx="506.3" cy="658.1" r="1.05"/>
<circle cx="506.3" cy="624.9" r="1.05"/>
<circle cx="506.3" cy="648.6" r="1.05"/>
<circle cx="506.3" cy="644.7" r="1.05"/>
<circle cx="506.3" cy="634.1" r="1.05"/>
<circle cx="506.3" cy="630.9" r="1.05"/>
<circle cx="506.3" cy="619.9" r="1.05"/>
<circle cx="506.3" cy="672.1" r="1.05"/>
<circle cx="506.3" cy="626.7" r="1.05"/>
<circle cx="506.3" cy="620.3" r="1.05"/>
<circle cx="506.8" cy="624.8" r="1.05"/>
<circle cx="506.8" cy="665.8" r="1.05"/>
<circle cx="506.8" cy="646.3" r="1.05"/>
<circle cx="506.8" cy="649.4" r="1.05"/>
<circle cx="506.8" cy="639.3" r="1.05"/>
<circle cx="506.8" cy="621.2" r="1.05"/>
<circle cx="506.8" cy="630.0" r="1.05"/>
<circle cx="506.8" cy="601.7" r="1.05"/>
<circle cx="507.3" cy="610.1" r="1.05"/>
<circle cx="507.3" cy="657.6" r="1.05"/>
<circle cx="507.3" cy="629.6" r="1.05"/>
<circle cx="507.3" cy="644.3" r="1.05"/>
<circle cx="507.3" cy="642.6" r="1.05"/>
<circle cx="507.3" cy="634.3" r="1.05"/>
<circle cx="507.3" cy="611.3" r="1.05"/>
<circle cx="507.3" cy="632.0" r="1.05"/>
<circle cx="507.3" cy="666.7" r="1.05"/>
<circle cx="507.8" cy="631.8" r="1.05"/>
<circle cx="507.8" cy="647.4" r="1.05"/>
<circle cx="507.8" cy="645.9" r="1.05"/>
<circle cx="507.8" cy="646.8" r="1.05"/>
<circle cx="507.8" cy="626.0" r="1.05"/>
<circle cx="507.8" cy="616.5" r="1.05"/>
<circle cx="507.8" cy="620.3" r="1.05"/>
<circle cx="507.8" cy="619.6" r="1.05"/>
<circle cx="507.8" cy="617.6" r="1.05"/>
<circle cx="508.2" cy="621.4" r="1.05"/>
<circle cx="508.2" cy="647.8" r="1.05"/>
<circle cx="508.2" cy="626.8" r="1.05"/>
<circle cx="508.2" cy="637.2" r="1.05"/>
<circle cx="508.2" cy="633.5" r="1.05"/>
<circle cx="508.2" cy="664.2" r="1.05"/>
<circle cx="508.2" cy="622.4" r="1.05"/>
<circle cx="508.7" cy="632.6" r="1.05"/>
<circle cx="508.7" cy="632.2" r="1.05"/>
<circle cx="508.7" cy="628.3" r="1.05"/>
<circle cx="508.7" cy="624.5" r="1.05"/>
<circle cx="508.7" cy="625.5" r="1.05"/>
<circle cx="508.7" cy="645.1" r="1.05"/>
<circle cx="508.7" cy="654.4" r="1.05"/>
<circle cx="508.7" cy="624.0" r="1.05"/>
<circle cx="509.1" cy="626.7" r="1.05"/>
<circle cx="509.1" cy="639.4" r="1.05"/>
<circle cx="509.1" cy="635.1" r="1.05"/>
<circle cx="509.1" cy="622.1" r="1.05"/>
<circle cx="509.1" cy="651.7" r="1.05"/>
<circle cx="509.1" cy="638.7" r="1.05"/>
<circle cx="509.1" cy="604.3" r="1.05"/>
<circle cx="509.6" cy="643.5" r="1.05"/>
<circle cx="509.6" cy="652.4" r="1.05"/>
<circle cx="509.6" cy="615.2" r="1.05"/>
<circle cx="509.6" cy="619.6" r="1.05"/>
<circle cx="509.6" cy="638.8" r="1.05"/>
<circle cx="509.6" cy="611.7" r="1.05"/>
<circle cx="509.6" cy="644.7" r="1.05"/>
<circle cx="510.0" cy="629.0" r="1.05"/>
<circle cx="510.0" cy="663.4" r="1.05"/>
<circle cx="510.0" cy="619.3" r="1.05"/>
<circle cx="510.0" cy="610.8" r="1.05"/>
<circle cx="510.0" cy="660.3" r="1.05"/>
<circle cx="510.0" cy="643.4" r="1.05"/>
<circle cx="510.0" cy="609.5" r="1.05"/>
<circle cx="510.4" cy="616.8" r="1.05"/>
<circle cx="510.4" cy="630.8" r="1.05"/>
<circle cx="510.4" cy="647.0" r="1.05"/>
<circle cx="510.4" cy="641.2" r="1.05"/>
<circle cx="510.4" cy="609.4" r="1.05"/>
<circle cx="510.4" cy="661.6" r="1.05"/>
<circle cx="510.4" cy="617.9" r="1.05"/>
<circle cx="510.4" cy="632.2" r="1.05"/>
<circle cx="510.8" cy="628.8" r="1.05"/>
<circle cx="510.8" cy="624.1" r="1.05"/>
<circle cx="510.8" cy="629.5" r="1.05"/>
<circle cx="510.8" cy="665.0" r="1.05"/>
<circle cx="510.8" cy="637.7" r="1.05"/>
<circle cx="510.8" cy="671.3" r="1.05"/>
<circle cx="510.8" cy="664.7" r="1.05"/>
<circle cx="511.2" cy="646.2" r="1.05"/>
<circle cx="511.2" cy="654.7" r="1.05"/>
<circle cx="511.2" cy="638.2" r="1.05"/>
<circle cx="511.2" cy="658.8" r="1.05"/>
<circle cx="511.2" cy="645.5" r="1.05"/>
<circle cx="511.6" cy="641.3" r="1.05"/>
<circle cx="511.6" cy="596.2" r="1.05"/>
<circle cx="511.6" cy="607.5" r="1.05"/>
<circle cx="511.6" cy="617.0" r="1.05"/>
<circle cx="511.6" cy="621.5" r="1.05"/>
<circle cx="511.6" cy="614.0" r="1.05"/>
<circle cx="512.0" cy="649.0" r="1.05"/>
<circle cx="512.0" cy="600.4" r="1.05"/>
<circle cx="512.0" cy="614.0" r="1.05"/>
<circle cx="512.0" cy="654.4" r="1.05"/>
<circle cx="512.0" cy="622.6" r="1.05"/>
<circle cx="512.0" cy="622.0" r="1.05"/>
<circle cx="512.0" cy="613.7" r="1.05"/>
<circle cx="512.4" cy="652.7" r="1.05"/>
<circle cx="512.4" cy="659.4" r="1.05"/>
<circle cx="512.4" cy="658.8" r="1.05"/>
<circle cx="512.4" cy="645.4" r="1.05"/>
<circle cx="512.4" cy="625.4" r="1.05"/>
<circle cx="512.4" cy="613.8" r="1.05"/>
<circle cx="512.7" cy="633.3" r="1.05"/>
<circle cx="512.7" cy="629.9" r="1.05"/>
<circle cx="512.7" cy="618.2" r="1.05"/>
<circle cx="512.7" cy="617.6" r="1.05"/>
<circle cx="512.7" cy="616.2" r="1.05"/>
<circle cx="512.7" cy="629.3" r="1.05"/>
<circle cx="513.1" cy="648.2" r="1.05"/>
<circle cx="513.1" cy="651.8" r="1.05"/>
<circle cx="513.1" cy="657.6" r="1.05"/>
<circle cx="513.1" cy="626.4" r="1.05"/>
<circle cx="513.1" cy="600.4" r="1.05"/>
<circle cx="513.1" cy="615.9" r="1.05"/>
<circle cx="513.5" cy="670.1" r="1.05"/>
<circle cx="513.5" cy="623.6" r="1.05"/>
<circle cx="513.5" cy="649.2" r="1.05"/>
<circle cx="513.5" cy="634.2" r="1.05"/>
<circle cx="513.5" cy="631.8" r="1.05"/>
<circle cx="513.5" cy="618.4" r="1.05"/>
<circle cx="513.8" cy="632.9" r="1.05"/>
<circle cx="513.8" cy="639.8" r="1.05"/>
<circle cx="513.8" cy="638.8" r="1.05"/>
<circle cx="513.8" cy="662.3" r="1.05"/>
<circle cx="513.8" cy="665.8" r="1.05"/>
<circle cx="513.8" cy="660.1" r="1.05"/>
<circle cx="514.2" cy="636.9" r="1.05"/>
<circle cx="514.2" cy="617.6" r="1.05"/>
<circle cx="514.2" cy="622.3" r="1.05"/>
<circle cx="514.2" cy="623.3" r="1.05"/>
<circle cx="514.2" cy="619.3" r="1.05"/>
<circle cx="514.2" cy="645.9" r="1.05"/>
<circle cx="514.5" cy="618.3" r="1.05"/>
<circle cx="514.5" cy="620.8" r="1.05"/>
<circle cx="514.5" cy="615.4" r="1.05"/>
<circle cx="514.5" cy="626.5" r="1.05"/>
<circle cx="514.5" cy="608.5" r="1.05"/>
<circle cx="514.8" cy="635.5" r="1.05"/>
<circle cx="514.8" cy="642.1" r="1.05"/>
<circle cx="514.8" cy="627.4" r="1.05"/>
<circle cx="514.8" cy="619.9" r="1.05"/>
<circle cx="514.8" cy="650.3" r="1.05"/>
<circle cx="515.2" cy="632.3" r="1.05"/>
<circle cx="515.2" cy="614.8" r="1.05"/>
<circle cx="515.2" cy="636.5" r="1.05"/>
<circle cx="515.2" cy="636.2" r="1.05"/>
<circle cx="515.2" cy="649.9" r="1.05"/>
<circle cx="515.5" cy="631.6" r="1.05"/>
<circle cx="515.5" cy="648.8" r="1.05"/>
<circle cx="515.5" cy="635.3" r="1.05"/>
<circle cx="515.5" cy="619.7" r="1.05"/>
<circle cx="515.8" cy="656.5" r="1.05"/>
<circle cx="515.8" cy="638.1" r="1.05"/>
<circle cx="515.8" cy="634.3" r="1.05"/>
<circle cx="516.1" cy="646.8" r="1.05"/>
<circle cx="516.1" cy="628.2" r="1.05"/>
<circle cx="516.1" cy="607.2" r="1.05"/>
<circle cx="516.1" cy="642.4" r="1.05"/>
<circle cx="516.1" cy="648.7" r="1.05"/>
<circle cx="516.4" cy="654.0" r="1.05"/>
<circle cx="516.4" cy="653.4" r="1.05"/>
<circle cx="516.4" cy="642.8" r="1.05"/>
<circle cx="516.7" cy="631.6" r="1.05"/>
<circle cx="516.7" cy="624.5" r="1.05"/>
<circle cx="516.7" cy="625.1" r="1.05"/>
<circle cx="517.0" cy="612.0" r="1.05"/>
<circle cx="517.0" cy="633.8" r="1.05"/>
<circle cx="517.0" cy="637.6" r="1.05"/>
<circle cx="517.0" cy="641.5" r="1.05"/>
<circle cx="517.0" cy="631.5" r="1.05"/>
<circle cx="517.3" cy="647.9" r="1.05"/>
<circle cx="517.3" cy="626.7" r="1.05"/>
<circle cx="517.3" cy="627.1" r="1.05"/>
<circle cx="517.3" cy="650.7" r="1.05"/>
<circle cx="517.6" cy="621.2" r="1.05"/>
<circle cx="517.6" cy="649.7" r="1.05"/>
<circle cx="517.6" cy="633.8" r="1.05"/>
<circle cx="517.6" cy="640.8" r="1.05"/>
<circle cx="517.9" cy="649.7" r="1.05"/>
<circle cx="517.9" cy="634.0" r="1.05"/>
<circle cx="517.9" cy="645.9" r="1.05"/>
<circle cx="517.9" cy="614.8" r="1.05"/>
<circle cx="518.2" cy="658.5" r="1.05"/>
<circle cx="518.2" cy="629.1" r="1.05"/>
<circle cx="518.2" cy="608.0" r="1.05"/>
<circle cx="518.4" cy="638.0" r="1.05"/>
<circle cx="518.4" cy="626.5" r="1.05"/>
<circle cx="518.4" cy="594.4" r="1.05"/>
<circle cx="518.4" cy="619.2" r="1.05"/>
<circle cx="518.7" cy="638.5" r="1.05"/>
<circle cx="518.7" cy="611.3" r="1.05"/>
<circle cx="518.7" cy="639.7" r="1.05"/>
<circle cx="518.7" cy="635.0" r="1.05"/>
<circle cx="519.0" cy="665.0" r="1.05"/>
<circle cx="519.0" cy="645.1" r="1.05"/>
<circle cx="519.0" cy="612.6" r="1.05"/>
<circle cx="519.2" cy="624.0" r="1.05"/>
<circle cx="519.2" cy="593.8" r="1.05"/>
<circle cx="519.2" cy="657.6" r="1.05"/>
<circle cx="519.5" cy="628.6" r="1.05"/>
<circle cx="519.5" cy="639.9" r="1.05"/>
<circle cx="519.5" cy="624.6" r="1.05"/>
<circle cx="519.5" cy="629.1" r="1.05"/>
<circle cx="519.8" cy="651.4" r="1.05"/>
<circle cx="519.8" cy="626.6" r="1.05"/>
<circle cx="519.8" cy="653.7" r="1.05"/>
<circle cx="520.0" cy="629.0" r="1.05"/>
<circle cx="520.0" cy="640.4" r="1.05"/>
<circle cx="520.0" cy="646.1" r="1.05"/>
<circle cx="520.3" cy="646.0" r="1.05"/>
<circle cx="520.3" cy="622.4" r="1.05"/>
<circle cx="520.3" cy="662.5" r="1.05"/>
<circle cx="520.5" cy="624.4" r="1.05"/>
<circle cx="520.5" cy="647.3" r="1.05"/>
<circle cx="520.5" cy="629.5" r="1.05"/>
<circle cx="520.8" cy="621.3" r="1.05"/>
<circle cx="520.8" cy="641.0" r="1.05"/>
<circle cx="520.8" cy="599.1" r="1.05"/>
<circle cx="521.0" cy="608.8" r="1.05"/>
<circle cx="521.0" cy="648.6" r="1.05"/>
<circle cx="521.0" cy="651.7" r="1.05"/>
<circle cx="521.2" cy="640.7" r="1.05"/>
<circle cx="521.2" cy="633.7" r="1.05"/>
<circle cx="521.2" cy="614.5" r="1.05"/>
<circle cx="521.5" cy="649.2" r="1.05"/>
<circle cx="521.5" cy="621.1" r="1.05"/>
<circle cx="521.5" cy="626.4" r="1.05"/>
<circle cx="521.7" cy="627.7" r="1.05"/>
<circle cx="521.7" cy="646.4" r="1.05"/>
<circle cx="521.7" cy="634.2" r="1.05"/>
<circle cx="521.9" cy="636.2" r="1.05"/>
<circle cx="521.9" cy="604.9" r="1.05"/>
<circle cx="521.9" cy="633.0" r="1.05"/>
<circle cx="522.2" cy="632.6" r="1.05"/>
<circle cx="522.2" cy="627.1" r="1.05"/>
<circle cx="522.4" cy="624.2" r="1.05"/>
<circle cx="522.4" cy="647.3" r="1.05"/>
<circle cx="522.6" cy="621.2" r="1.05"/>
<circle cx="522.8" cy="644.4" r="1.05"/>
<circle cx="522.8" cy="631.0" r="1.05"/>
<circle cx="523.1" cy="636.6" r="1.05"/>
<circle cx="523.1" cy="615.5" r="1.05"/>
<circle cx="523.3" cy="637.1" r="1.05"/>
<circle cx="523.3" cy="605.5" r="1.05"/>
<circle cx="523.3" cy="635.5" r="1.05"/>
<circle cx="523.5" cy="643.4" r="1.05"/>
<circle cx="523.5" cy="630.6" r="1.05"/>
<circle cx="523.7" cy="631.3" r="1.05"/>
<circle cx="523.7" cy="644.2" r="1.05"/>
<circle cx="523.9" cy="633.7" r="1.05"/>
<circle cx="523.9" cy="639.3" r="1.05"/>
<circle cx="524.1" cy="643.8" r="1.05"/>
<circle cx="524.1" cy="641.2" r="1.05"/>
<circle cx="524.3" cy="605.8" r="1.05"/>
<circle cx="524.3" cy="615.8" r="1.05"/>
<circle cx="524.5" cy="642.8" r="1.05"/>
<circle cx="524.7" cy="626.7" r="1.05"/>
<circle cx="524.7" cy="627.4" r="1.05"/>
<circle cx="524.9" cy="655.8" r="1.05"/>
<circle cx="524.9" cy="646.5" r="1.05"/>
<circle cx="525.1" cy="618.7" r="1.05"/>
<circle cx="525.1" cy="636.7" r="1.05"/>
<circle cx="525.3" cy="577.9" r="1.05"/>
<circle cx="525.3" cy="655.4" r="1.05"/>
<circle cx="525.5" cy="608.0" r="1.05"/>
<circle cx="525.5" cy="594.7" r="1.05"/>
<circle cx="525.7" cy="654.3" r="1.05"/>
<circle cx="525.9" cy="646.5" r="1.05"/>
<circle cx="525.9" cy="614.7" r="1.05"/>
<circle cx="526.0" cy="635.3" r="1.05"/>
<circle cx="526.0" cy="632.6" r="1.05"/>
<circle cx="526.2" cy="628.5" r="1.05"/>
<circle cx="526.2" cy="617.4" r="1.05"/>
<circle cx="526.4" cy="633.5" r="1.05"/>
<circle cx="526.4" cy="616.2" r="1.05"/>
<circle cx="526.6" cy="645.7" r="1.05"/>
<circle cx="526.6" cy="591.1" r="1.05"/>
<circle cx="526.8" cy="626.3" r="1.05"/>
<circle cx="527.0" cy="652.4" r="1.05"/>
<circle cx="527.0" cy="631.9" r="1.05"/>
<circle cx="527.1" cy="612.3" r="1.05"/>
<circle cx="527.1" cy="623.4" r="1.05"/>
<circle cx="527.3" cy="621.4" r="1.05"/>
<circle cx="527.3" cy="646.1" r="1.05"/>
<circle cx="527.5" cy="627.8" r="1.05"/>
<circle cx="527.5" cy="636.9" r="1.05"/>
<circle cx="527.6" cy="616.0" r="1.05"/>
<circle cx="527.8" cy="630.3" r="1.05"/>
<circle cx="528.0" cy="632.4" r="1.05"/>
<circle cx="528.2" cy="611.7" r="1.05"/>
<circle cx="528.3" cy="638.5" r="1.05"/>
<circle cx="528.3" cy="598.3" r="1.05"/>
<circle cx="528.5" cy="615.5" r="1.05"/>
<circle cx="528.6" cy="632.7" r="1.05"/>
<circle cx="528.6" cy="613.8" r="1.05"/>
<circle cx="528.8" cy="616.1" r="1.05"/>
<circle cx="529.0" cy="610.2" r="1.05"/>
<circle cx="529.1" cy="641.4" r="1.05"/>
<circle cx="529.3" cy="624.7" r="1.05"/>
<circle cx="529.4" cy="636.1" r="1.05"/>
<circle cx="529.6" cy="654.7" r="1.05"/>
<circle cx="529.8" cy="629.0" r="1.05"/>
<circle cx="529.8" cy="617.0" r="1.05"/>
<circle cx="529.9" cy="597.3" r="1.05"/>
<circle cx="530.1" cy="639.6" r="1.05"/>
<circle cx="530.2" cy="652.2" r="1.05"/>
<circle cx="530.4" cy="623.8" r="1.05"/>
<circle cx="530.4" cy="641.3" r="1.05"/>
<circle cx="530.5" cy="654.3" r="1.05"/>
<circle cx="530.6" cy="609.2" r="1.05"/>
<circle cx="530.6" cy="593.1" r="1.05"/>
<circle cx="530.8" cy="627.1" r="1.05"/>
<circle cx="530.9" cy="629.3" r="1.05"/>
<circle cx="530.9" cy="625.7" r="1.05"/>
<circle cx="531.1" cy="614.9" r="1.05"/>
<circle cx="531.2" cy="644.8" r="1.05"/>
<circle cx="531.5" cy="668.3" r="1.05"/>
<circle cx="531.6" cy="604.6" r="1.05"/>
<circle cx="531.9" cy="642.9" r="1.05"/>
<circle cx="532.1" cy="646.1" r="1.05"/>
<circle cx="532.2" cy="615.0" r="1.05"/>
<circle cx="532.3" cy="597.2" r="1.05"/>
<circle cx="532.5" cy="614.5" r="1.05"/>
<circle cx="532.6" cy="641.2" r="1.05"/>
<circle cx="532.7" cy="648.4" r="1.05"/>
<circle cx="533.0" cy="612.5" r="1.05"/>
<circle cx="533.2" cy="655.0" r="1.05"/>
<circle cx="533.5" cy="629.3" r="1.05"/>
<circle cx="533.8" cy="640.8" r="1.05"/>
<circle cx="533.9" cy="636.7" r="1.05"/>
<circle cx="534.0" cy="630.0" r="1.05"/>
<circle cx="534.1" cy="648.2" r="1.05"/>
<circle cx="534.2" cy="615.9" r="1.05"/>
<circle cx="534.4" cy="620.4" r="1.05"/>
<circle cx="534.5" cy="615.0" r="1.05"/>
<circle cx="534.6" cy="634.4" r="1.05"/>
<circle cx="534.7" cy="583.9" r="1.05"/>
<circle cx="534.8" cy="633.3" r="1.05"/>
<circle cx="535.0" cy="627.3" r="1.05"/>
<circle cx="535.1" cy="634.1" r="1.05"/>
<circle cx="535.2" cy="645.2" r="1.05"/>
<circle cx="535.4" cy="637.8" r="1.05"/>
<circle cx="535.8" cy="648.8" r="1.05"/>
<circle cx="535.9" cy="630.3" r="1.05"/>
<circle cx="536.0" cy="599.4" r="1.05"/>
<circle cx="536.1" cy="630.1" r="1.05"/>
<circle cx="536.3" cy="650.2" r="1.05"/>
<circle cx="536.5" cy="612.7" r="1.05"/>
<circle cx="536.6" cy="608.3" r="1.05"/>
<circle cx="536.9" cy="628.5" r="1.05"/>
<circle cx="537.1" cy="643.8" r="1.05"/>
<circle cx="538.0" cy="638.4" r="1.05"/>
<circle cx="538.1" cy="619.7" r="1.05"/>
<circle cx="538.2" cy="628.4" r="1.05"/>
<circle cx="538.3" cy="601.4" r="1.05"/>
<circle cx="538.5" cy="625.0" r="1.05"/>
<circle cx="538.8" cy="638.6" r="1.05"/>
<circle cx="538.9" cy="603.3" r="1.05"/>
<circle cx="539.1" cy="601.9" r="1.05"/>
<circle cx="539.3" cy="618.4" r="1.05"/>
<circle cx="539.3" cy="620.3" r="1.05"/>
<circle cx="539.7" cy="635.5" r="1.05"/>
<circle cx="539.8" cy="613.3" r="1.05"/>
<circle cx="540.4" cy="611.3" r="1.05"/>
<circle cx="540.5" cy="633.1" r="1.05"/>
<circle cx="541.0" cy="628.1" r="1.05"/>
<circle cx="541.3" cy="605.8" r="1.05"/>
<circle cx="541.6" cy="649.4" r="1.05"/>
<circle cx="541.6" cy="614.6" r="1.05"/>
<circle cx="542.2" cy="623.1" r="1.05"/>
<circle cx="542.3" cy="622.5" r="1.05"/>
<circle cx="542.6" cy="627.9" r="1.05"/>
<circle cx="542.9" cy="611.7" r="1.05"/>
<circle cx="543.2" cy="585.9" r="1.05"/>
<circle cx="543.6" cy="618.6" r="1.05"/>
<circle cx="544.3" cy="644.8" r="1.05"/>
<circle cx="544.4" cy="633.0" r="1.05"/>
<circle cx="545.0" cy="625.4" r="1.05"/>
<circle cx="545.1" cy="629.6" r="1.05"/>
<circle cx="546.2" cy="610.4" r="1.05"/>
<circle cx="546.3" cy="618.0" r="1.05"/>
<circle cx="546.5" cy="599.8" r="1.05"/>
<circle cx="547.1" cy="643.6" r="1.05"/>
<circle cx="547.3" cy="642.9" r="1.05"/>
<circle cx="547.5" cy="627.8" r="1.05"/>
<circle cx="547.7" cy="599.7" r="1.05"/>
<circle cx="548.5" cy="640.2" r="1.05"/>
<circle cx="548.7" cy="619.4" r="1.05"/>
<circle cx="548.9" cy="633.2" r="1.05"/>
<circle cx="549.4" cy="593.6" r="1.05"/>
<circle cx="549.4" cy="597.3" r="1.05"/>
<circle cx="549.5" cy="614.5" r="1.05"/>
<circle cx="549.6" cy="616.5" r="1.05"/>
<circle cx="549.8" cy="607.2" r="1.05"/>
<circle cx="549.9" cy="619.1" r="1.05"/>
<circle cx="550.0" cy="620.1" r="1.05"/>
<circle cx="550.3" cy="611.9" r="1.05"/>
<circle cx="551.0" cy="606.1" r="1.05"/>
<circle cx="551.2" cy="604.1" r="1.05"/>
<circle cx="552.3" cy="623.7" r="1.05"/>
<circle cx="553.5" cy="619.8" r="1.05"/>
<circle cx="554.9" cy="617.6" r="1.05"/>
<circle cx="557.0" cy="608.0" r="1.05"/>
<circle cx="560.7" cy="618.2" r="1.05"/>
<circle cx="562.7" cy="619.4" r="1.05"/>
<circle cx="566.6" cy="617.2" r="1.05"/>
<circle cx="566.6" cy="620.9" r="1.05"/>
<circle cx="570.2" cy="597.9" r="1.05"/>
<circle cx="573.4" cy="622.3" r="1.05"/>
<circle cx="576.8" cy="610.0" r="1.05"/>
<circle cx="582.7" cy="597.1" r="1.05"/>
<circle cx="583.0" cy="642.8" r="1.05"/>
<circle cx="583.4" cy="610.9" r="1.05"/>
<circle cx="585.0" cy="611.0" r="1.05"/>
<circle cx="586.8" cy="587.0" r="1.05"/>
<circle cx="586.9" cy="601.3" r="1.05"/>
<circle cx="590.9" cy="609.3" r="1.05"/>
<circle cx="592.2" cy="625.9" r="1.05"/>
<circle cx="456.9" cy="727.5" r="1.05"/>
<circle cx="456.9" cy="716.8" r="1.05"/>
<circle cx="456.9" cy="702.6" r="1.05"/>
<circle cx="456.9" cy="699.8" r="1.05"/>
<circle cx="456.9" cy="691.9" r="1.05"/>
<circle cx="462.5" cy="710.5" r="1.05"/>
<circle cx="462.5" cy="706.1" r="1.05"/>
<circle cx="462.5" cy="699.8" r="1.05"/>
<circle cx="462.5" cy="693.5" r="1.05"/>
<circle cx="462.5" cy="691.9" r="1.05"/>
<circle cx="466.8" cy="727.5" r="1.05"/>
<circle cx="466.8" cy="710.5" r="1.05"/>
<circle cx="466.8" cy="706.1" r="1.05"/>
<circle cx="466.8" cy="697.4" r="1.05"/>
<circle cx="466.8" cy="693.5" r="1.05"/>
<circle cx="466.8" cy="691.9" r="1.05"/>
<circle cx="466.8" cy="689.1" r="1.05"/>
<circle cx="470.4" cy="716.8" r="1.05"/>
<circle cx="470.4" cy="710.5" r="1.05"/>
<circle cx="470.4" cy="699.8" r="1.05"/>
<circle cx="470.4" cy="691.9" r="1.05"/>
<circle cx="473.4" cy="710.5" r="1.05"/>
<circle cx="473.4" cy="706.1" r="1.05"/>
<circle cx="473.4" cy="693.5" r="1.05"/>
<circle cx="473.4" cy="690.4" r="1.05"/>
<circle cx="473.4" cy="689.1" r="1.05"/>
<circle cx="476.0" cy="716.8" r="1.05"/>
<circle cx="476.0" cy="710.5" r="1.05"/>
<circle cx="476.0" cy="699.8" r="1.05"/>
<circle cx="476.0" cy="697.4" r="1.05"/>
<circle cx="476.0" cy="691.9" r="1.05"/>
<circle cx="480.3" cy="690.4" r="1.05"/>
<circle cx="482.2" cy="695.3" r="1.05"/>
<circle cx="485.4" cy="689.1" r="1.05"/>
<circle cx="486.8" cy="699.8" r="1.05"/>
<circle cx="486.8" cy="695.3" r="1.05"/>
<circle cx="486.8" cy="690.4" r="1.05"/>
<circle cx="488.2" cy="699.8" r="1.05"/>
<circle cx="489.4" cy="697.4" r="1.05"/>
<circle cx="489.4" cy="695.3" r="1.05"/>
<circle cx="488.2" cy="727.5" r="1.05"/>
<circle cx="488.2" cy="716.8" r="1.05"/>
<circle cx="482.2" cy="710.5" r="1.05"/>
<circle cx="486.8" cy="706.1" r="1.05"/>
<circle cx="495.6" cy="699.8" r="1.05"/>
<circle cx="500.3" cy="695.3" r="1.05"/>
<circle cx="507.3" cy="689.1" r="1.05"/>
<circle cx="503.5" cy="693.5" r="1.05"/>
<circle cx="515.2" cy="677.7" r="1.05"/>
<circle cx="520.8" cy="681.2" r="1.05"/>
<circle cx="528.6" cy="672.5" r="1.05"/>
<circle cx="533.0" cy="664.2" r="1.05"/>
<circle cx="523.1" cy="670.5" r="1.05"/>
<circle cx="538.6" cy="661.8" r="1.05"/>
</g>
<clipPath id="ebox"><rect x="428.3" y="562.5" width="193.09999999999997" height="171.5"/></clipPath>
<line x1="428.30" y1="733.22" x2="621.40" y2="579.78" stroke="#222" stroke-width="0.9" clip-path="url(#ebox)"/>
<rect x="428.3" y="562.5" width="193.09999999999997" height="171.5" fill="none" stroke="#8a8a8a" stroke-width="0.9"/>
<line x1="425.00" y1="727.50" x2="428.30" y2="727.50" stroke="#666" stroke-width="0.8"/>
<text x="419.6" y="734.10" font-size="11" text-anchor="end" fill="#474747">10</text>
<text x="420.0" y="729.60" font-size="6.5" fill="#474747">0</text>
<line x1="435.50" y1="734.00" x2="435.50" y2="737.00" stroke="#666" stroke-width="0.8"/>
<text x="438.30" y="746.8" font-size="11" text-anchor="middle" fill="#474747">10<tspan dy="-4.6" font-size="6.5">0</tspan></text>
<line x1="425.00" y1="691.90" x2="428.30" y2="691.90" stroke="#666" stroke-width="0.8"/>
<text x="419.6" y="698.50" font-size="11" text-anchor="end" fill="#474747">10</text>
<text x="420.0" y="694.00" font-size="6.5" fill="#474747">1</text>
<line x1="480.30" y1="734.00" x2="480.30" y2="737.00" stroke="#666" stroke-width="0.8"/>
<text x="483.10" y="746.8" font-size="11" text-anchor="middle" fill="#474747">10<tspan dy="-4.6" font-size="6.5">1</tspan></text>
<line x1="425.00" y1="656.30" x2="428.30" y2="656.30" stroke="#666" stroke-width="0.8"/>
<text x="419.6" y="662.00" font-size="11" text-anchor="end" fill="#474747">10</text>
<text x="420.0" y="657.50" font-size="6.5" fill="#474747">2</text>
<line x1="525.10" y1="734.00" x2="525.10" y2="737.00" stroke="#666" stroke-width="0.8"/>
<text x="527.90" y="746.8" font-size="11" text-anchor="middle" fill="#474747">10<tspan dy="-4.6" font-size="6.5">2</tspan></text>
<line x1="425.00" y1="620.70" x2="428.30" y2="620.70" stroke="#666" stroke-width="0.8"/>
<text x="419.6" y="623.00" font-size="11" text-anchor="end" fill="#474747">10</text>
<text x="420.0" y="618.50" font-size="6.5" fill="#474747">3</text>
<line x1="569.90" y1="734.00" x2="569.90" y2="737.00" stroke="#666" stroke-width="0.8"/>
<text x="572.70" y="746.8" font-size="11" text-anchor="middle" fill="#474747">10<tspan dy="-4.6" font-size="6.5">3</tspan></text>
<line x1="425.00" y1="585.10" x2="428.30" y2="585.10" stroke="#666" stroke-width="0.8"/>
<text x="419.6" y="589.50" font-size="11" text-anchor="end" fill="#474747">10</text>
<text x="420.0" y="585.00" font-size="6.5" fill="#474747">4</text>
<line x1="614.70" y1="734.00" x2="614.70" y2="737.00" stroke="#666" stroke-width="0.8"/>
<text x="617.50" y="746.8" font-size="11" text-anchor="middle" fill="#474747">10<tspan dy="-4.6" font-size="6.5">4</tspan></text>
<text x="482.30" y="765.70" font-size="11.35" fill="#474747">No. of circular reads</text>
<text x="400.3" y="650.4" font-size="11.25" text-anchor="middle" fill="#474747" transform="rotate(-90 400.3 650.4)">No. of linear reads</text>
<text x="4.50" y="848.60" font-size="12.5" font-weight="bold" fill="#000">f</text>
<text x="130.8" y="830" font-size="11.4" fill="#474747">RNASeq: GFP<tspan dy="-4" font-size="7" dx="0.6">+</tspan><tspan dy="4"> vs. GFP</tspan><tspan dy="-4" font-size="7" dx="0.6">-</tspan></text>
<g class="vp" fill="#000">
<circle cx="163.5" cy="999.3" r=".85"/>
<circle cx="205.7" cy="999.9" r=".85"/>
<circle cx="187.1" cy="1001.0" r=".85"/>
<circle cx="215.5" cy="999.8" r=".85"/>
<circle cx="221.3" cy="999.2" r=".85"/>
<circle cx="199.5" cy="1001.2" r=".85"/>
<circle cx="173.6" cy="1000.6" r=".85"/>
<circle cx="161.7" cy="999.5" r=".85"/>
<circle cx="206.3" cy="1000.7" r=".85"/>
<circle cx="181.0" cy="1000.5" r=".85"/>
<circle cx="191.7" cy="1001.8" r=".85"/>
<circle cx="194.0" cy="1001.6" r=".85"/>
<circle cx="181.6" cy="1001.2" r=".85"/>
<circle cx="236.6" cy="998.1" r=".85"/>
<circle cx="194.4" cy="1001.5" r=".85"/>
<circle cx="176.2" cy="1000.0" r=".85"/>
<circle cx="157.1" cy="999.1" r=".85"/>
<circle cx="168.7" cy="999.3" r=".85"/>
<circle cx="205.5" cy="1000.6" r=".85"/>
<circle cx="195.5" cy="1001.6" r=".85"/>
<circle cx="180.6" cy="1000.8" r=".85"/>
<circle cx="224.7" cy="999.1" r=".85"/>
<circle cx="180.1" cy="1000.9" r=".85"/>
<circle cx="201.3" cy="1000.8" r=".85"/>
<circle cx="188.2" cy="1001.8" r=".85"/>
<circle cx="195.2" cy="1001.7" r=".85"/>
<circle cx="190.3" cy="1001.4" r=".85"/>
<circle cx="230.3" cy="998.6" r=".85"/>
<circle cx="170.4" cy="1000.0" r=".85"/>
<circle cx="197.4" cy="1001.5" r=".85"/>
<circle cx="214.3" cy="999.2" r=".85"/>
<circle cx="203.0" cy="1000.4" r=".85"/>
<circle cx="239.6" cy="997.5" r=".85"/>
<circle cx="178.5" cy="1000.8" r=".85"/>
<circle cx="151.5" cy="998.6" r=".85"/>
<circle cx="219.9" cy="999.2" r=".85"/>
<circle cx="203.6" cy="1000.3" r=".85"/>
<circle cx="244.0" cy="997.2" r=".85"/>
<circle cx="207.9" cy="1000.4" r=".85"/>
<circle cx="151.3" cy="998.2" r=".85"/>
<circle cx="162.7" cy="999.0" r=".85"/>
<circle cx="171.5" cy="1000.4" r=".85"/>
<circle cx="184.6" cy="1001.4" r=".85"/>
<circle cx="201.8" cy="1001.0" r=".85"/>
<circle cx="161.6" cy="998.4" r=".85"/>
<circle cx="218.5" cy="999.6" r=".85"/>
<circle cx="176.5" cy="1000.7" r=".85"/>
<circle cx="155.0" cy="998.6" r=".85"/>
<circle cx="167.5" cy="1000.0" r=".85"/>
<circle cx="238.1" cy="997.7" r=".85"/>
<circle cx="216.4" cy="999.8" r=".85"/>
<circle cx="196.8" cy="1001.4" r=".85"/>
<circle cx="184.0" cy="1000.6" r=".85"/>
<circle cx="163.0" cy="999.2" r=".85"/>
<circle cx="209.5" cy="1000.2" r=".85"/>
<circle cx="216.4" cy="999.3" r=".85"/>
<circle cx="183.4" cy="1001.1" r=".85"/>
<circle cx="235.0" cy="998.2" r=".85"/>
<circle cx="215.2" cy="999.9" r=".85"/>
<circle cx="153.6" cy="998.9" r=".85"/>
<circle cx="141.7" cy="997.1" r=".85"/>
<circle cx="221.4" cy="999.3" r=".85"/>
<circle cx="169.7" cy="1000.3" r=".85"/>
<circle cx="205.8" cy="1000.6" r=".85"/>
<circle cx="199.6" cy="1000.6" r=".85"/>
<circle cx="164.6" cy="999.4" r=".85"/>
<circle cx="195.9" cy="1001.1" r=".85"/>
<circle cx="167.1" cy="999.6" r=".85"/>
<circle cx="185.3" cy="1001.2" r=".85"/>
<circle cx="194.7" cy="1001.2" r=".85"/>
<circle cx="175.4" cy="999.9" r=".85"/>
<circle cx="172.7" cy="1000.2" r=".85"/>
<circle cx="219.0" cy="999.6" r=".85"/>
<circle cx="149.5" cy="998.4" r=".85"/>
<circle cx="165.9" cy="999.4" r=".85"/>
<circle cx="171.5" cy="1000.0" r=".85"/>
<circle cx="214.2" cy="999.6" r=".85"/>
<circle cx="246.9" cy="997.1" r=".85"/>
<circle cx="162.6" cy="999.6" r=".85"/>
<circle cx="212.2" cy="999.6" r=".85"/>
<circle cx="214.4" cy="999.9" r=".85"/>
<circle cx="177.3" cy="1000.4" r=".85"/>
<circle cx="188.7" cy="1001.7" r=".85"/>
<circle cx="178.3" cy="1000.7" r=".85"/>
<circle cx="166.6" cy="999.6" r=".85"/>
<circle cx="203.7" cy="1000.9" r=".85"/>
<circle cx="159.6" cy="999.2" r=".85"/>
<circle cx="197.1" cy="1001.0" r=".85"/>
<circle cx="185.9" cy="1001.6" r=".85"/>
<circle cx="174.3" cy="1000.7" r=".85"/>
<circle cx="192.5" cy="1001.8" r=".85"/>
<circle cx="168.6" cy="1000.1" r=".85"/>
<circle cx="167.2" cy="999.8" r=".85"/>
<circle cx="194.2" cy="1001.0" r=".85"/>
<circle cx="213.6" cy="1000.1" r=".85"/>
<circle cx="222.7" cy="998.8" r=".85"/>
<circle cx="182.7" cy="1001.3" r=".85"/>
<circle cx="170.5" cy="1000.3" r=".85"/>
<circle cx="140.2" cy="997.3" r=".85"/>
<circle cx="200.3" cy="1000.9" r=".85"/>
<circle cx="181.8" cy="1001.2" r=".85"/>
<circle cx="248.1" cy="996.8" r=".85"/>
<circle cx="173.9" cy="1000.5" r=".85"/>
<circle cx="191.2" cy="1002.0" r=".85"/>
<circle cx="181.0" cy="1001.1" r=".85"/>
<circle cx="157.4" cy="998.7" r=".85"/>
<circle cx="173.2" cy="1000.3" r=".85"/>
<circle cx="193.2" cy="1001.6" r=".85"/>
<circle cx="212.4" cy="1000.1" r=".85"/>
<circle cx="175.8" cy="1000.7" r=".85"/>
<circle cx="216.9" cy="999.7" r=".85"/>
<circle cx="216.8" cy="999.8" r=".85"/>
<circle cx="184.5" cy="1001.2" r=".85"/>
<circle cx="172.6" cy="1000.4" r=".85"/>
<circle cx="198.8" cy="1000.7" r=".85"/>
<circle cx="182.5" cy="1000.6" r=".85"/>
<circle cx="188.9" cy="1001.8" r=".85"/>
<circle cx="209.3" cy="1000.4" r=".85"/>
<circle cx="189.9" cy="1001.9" r=".85"/>
<circle cx="191.7" cy="1001.7" r=".85"/>
<circle cx="170.2" cy="1000.3" r=".85"/>
<circle cx="182.3" cy="1001.0" r=".85"/>
<circle cx="169.4" cy="1000.2" r=".85"/>
<circle cx="189.4" cy="1001.5" r=".85"/>
<circle cx="207.3" cy="1000.6" r=".85"/>
<circle cx="141.5" cy="997.6" r=".85"/>
<circle cx="212.2" cy="999.9" r=".85"/>
<circle cx="229.8" cy="998.6" r=".85"/>
<circle cx="140.5" cy="997.7" r=".85"/>
<circle cx="178.1" cy="1000.4" r=".85"/>
<circle cx="181.4" cy="1000.7" r=".85"/>
<circle cx="201.1" cy="1001.1" r=".85"/>
<circle cx="161.9" cy="999.6" r=".85"/>
<circle cx="207.6" cy="1000.2" r=".85"/>
<circle cx="193.7" cy="1001.7" r=".85"/>
<circle cx="195.7" cy="1001.0" r=".85"/>
<circle cx="199.1" cy="1000.8" r=".85"/>
<circle cx="226.4" cy="998.9" r=".85"/>
<circle cx="179.5" cy="1001.1" r=".85"/>
<circle cx="183.5" cy="1001.4" r=".85"/>
<circle cx="177.0" cy="1000.4" r=".85"/>
<circle cx="145.8" cy="998.2" r=".85"/>
<circle cx="215.7" cy="999.7" r=".85"/>
<circle cx="185.7" cy="1001.4" r=".85"/>
<circle cx="204.4" cy="1000.8" r=".85"/>
<circle cx="198.6" cy="1001.0" r=".85"/>
<circle cx="174.8" cy="1000.4" r=".85"/>
<circle cx="202.5" cy="1000.7" r=".85"/>
<circle cx="216.6" cy="999.0" r=".85"/>
<circle cx="228.4" cy="998.6" r=".85"/>
<circle cx="158.0" cy="998.8" r=".85"/>
<circle cx="172.2" cy="1000.2" r=".85"/>
<circle cx="226.8" cy="998.4" r=".85"/>
<circle cx="201.6" cy="1000.6" r=".85"/>
<circle cx="179.1" cy="1000.9" r=".85"/>
<circle cx="175.3" cy="1000.8" r=".85"/>
<circle cx="210.8" cy="1000.1" r=".85"/>
<circle cx="193.8" cy="1001.8" r=".85"/>
<circle cx="196.6" cy="1001.2" r=".85"/>
<circle cx="181.5" cy="1001.3" r=".85"/>
<circle cx="208.8" cy="1000.3" r=".85"/>
<circle cx="200.8" cy="1000.6" r=".85"/>
<circle cx="158.9" cy="998.5" r=".85"/>
<circle cx="200.1" cy="1000.9" r=".85"/>
<circle cx="223.4" cy="999.2" r=".85"/>
<circle cx="176.9" cy="1000.9" r=".85"/>
<circle cx="226.2" cy="998.8" r=".85"/>
<circle cx="205.2" cy="1000.5" r=".85"/>
<circle cx="154.3" cy="998.8" r=".85"/>
<circle cx="142.6" cy="997.7" r=".85"/>
<circle cx="171.2" cy="1000.4" r=".85"/>
<circle cx="190.0" cy="1001.5" r=".85"/>
<circle cx="194.1" cy="1000.7" r=".85"/>
<circle cx="169.8" cy="1000.0" r=".85"/>
<circle cx="187.4" cy="1001.8" r=".85"/>
<circle cx="197.3" cy="1000.5" r=".85"/>
<circle cx="204.6" cy="1000.7" r=".85"/>
<circle cx="214.9" cy="999.6" r=".85"/>
<circle cx="208.3" cy="1000.1" r=".85"/>
<circle cx="212.8" cy="1000.0" r=".85"/>
<circle cx="198.5" cy="1001.4" r=".85"/>
<circle cx="197.8" cy="1001.2" r=".85"/>
<circle cx="199.9" cy="1001.3" r=".85"/>
<circle cx="161.3" cy="999.2" r=".85"/>
<circle cx="160.6" cy="998.9" r=".85"/>
<circle cx="143.4" cy="997.9" r=".85"/>
<circle cx="155.3" cy="999.0" r=".85"/>
<circle cx="231.8" cy="998.4" r=".85"/>
<circle cx="196.0" cy="1001.6" r=".85"/>
<circle cx="206.0" cy="1000.2" r=".85"/>
<circle cx="147.5" cy="998.2" r=".85"/>
<circle cx="199.7" cy="1001.3" r=".85"/>
<circle cx="193.6" cy="1001.2" r=".85"/>
<circle cx="168.8" cy="1000.2" r=".85"/>
<circle cx="203.9" cy="1000.6" r=".85"/>
<circle cx="137.2" cy="996.5" r=".85"/>
<circle cx="178.1" cy="1000.9" r=".85"/>
<circle cx="168.5" cy="999.2" r=".85"/>
<circle cx="210.7" cy="999.9" r=".85"/>
<circle cx="182.2" cy="1001.4" r=".85"/>
<circle cx="204.2" cy="1000.2" r=".85"/>
<circle cx="164.8" cy="999.7" r=".85"/>
<circle cx="211.5" cy="1000.1" r=".85"/>
<circle cx="171.1" cy="1000.1" r=".85"/>
<circle cx="148.9" cy="998.0" r=".85"/>
<circle cx="192.7" cy="1001.4" r=".85"/>
<circle cx="211.2" cy="1000.3" r=".85"/>
<circle cx="211.1" cy="999.7" r=".85"/>
<circle cx="228.8" cy="998.4" r=".85"/>
<circle cx="143.0" cy="997.8" r=".85"/>
<circle cx="158.6" cy="998.7" r=".85"/>
<circle cx="165.4" cy="999.9" r=".85"/>
<circle cx="171.8" cy="1000.4" r=".85"/>
<circle cx="156.5" cy="998.4" r=".85"/>
<circle cx="150.2" cy="998.6" r=".85"/>
<circle cx="159.1" cy="999.3" r=".85"/>
<circle cx="150.3" cy="998.2" r=".85"/>
<circle cx="156.6" cy="998.9" r=".85"/>
<circle cx="220.9" cy="999.2" r=".85"/>
<circle cx="187.3" cy="1001.7" r=".85"/>
<circle cx="156.1" cy="998.7" r=".85"/>
<circle cx="141.1" cy="997.5" r=".85"/>
<circle cx="230.8" cy="998.1" r=".85"/>
<circle cx="149.2" cy="998.4" r=".85"/>
<circle cx="225.3" cy="998.8" r=".85"/>
<circle cx="216.1" cy="999.4" r=".85"/>
<circle cx="213.9" cy="1000.0" r=".85"/>
<circle cx="148.6" cy="998.3" r=".85"/>
<circle cx="164.1" cy="999.1" r=".85"/>
<circle cx="196.5" cy="1001.3" r=".85"/>
<circle cx="208.3" cy="1000.3" r=".85"/>
<circle cx="202.0" cy="1000.7" r=".85"/>
<circle cx="215.0" cy="999.0" r=".85"/>
<circle cx="192.0" cy="1001.8" r=".85"/>
<circle cx="154.0" cy="998.9" r=".85"/>
<circle cx="193.2" cy="1001.8" r=".85"/>
<circle cx="139.5" cy="997.5" r=".85"/>
<circle cx="190.7" cy="1002.0" r=".85"/>
<circle cx="210.2" cy="1000.1" r=".85"/>
<circle cx="167.9" cy="999.8" r=".85"/>
<circle cx="197.8" cy="1001.4" r=".85"/>
<circle cx="224.1" cy="998.9" r=".85"/>
<circle cx="187.7" cy="1001.2" r=".85"/>
<circle cx="225.2" cy="998.8" r=".85"/>
<circle cx="188.3" cy="1001.9" r=".85"/>
<circle cx="192.2" cy="1001.6" r=".85"/>
<circle cx="189.6" cy="1001.8" r=".85"/>
<circle cx="250.9" cy="996.5" r=".85"/>
<circle cx="199.8" cy="1000.7" r=".85"/>
<circle cx="214.5" cy="999.6" r=".85"/>
<circle cx="145.4" cy="997.2" r=".85"/>
<circle cx="249.2" cy="997.0" r=".85"/>
<circle cx="222.3" cy="998.5" r=".85"/>
<circle cx="200.4" cy="1000.6" r=".85"/>
<circle cx="183.2" cy="1001.4" r=".85"/>
<circle cx="241.5" cy="997.6" r=".85"/>
<circle cx="212.9" cy="999.6" r=".85"/>
<circle cx="184.8" cy="1001.5" r=".85"/>
<circle cx="209.5" cy="999.6" r=".85"/>
<circle cx="219.9" cy="999.5" r=".85"/>
<circle cx="138.2" cy="996.5" r=".85"/>
<circle cx="186.6" cy="1001.2" r=".85"/>
<circle cx="186.3" cy="1001.5" r=".85"/>
<circle cx="206.6" cy="1000.2" r=".85"/>
<circle cx="186.8" cy="1001.7" r=".85"/>
<circle cx="161.2" cy="999.5" r=".85"/>
<circle cx="166.6" cy="1000.0" r=".85"/>
<circle cx="204.0" cy="1000.8" r=".85"/>
<circle cx="195.1" cy="1001.2" r=".85"/>
<circle cx="167.5" cy="999.6" r=".85"/>
<circle cx="180.8" cy="1001.3" r=".85"/>
<circle cx="163.0" cy="999.4" r=".85"/>
<circle cx="175.7" cy="1000.7" r=".85"/>
<circle cx="245.4" cy="997.3" r=".85"/>
<circle cx="249.6" cy="996.6" r=".85"/>
<circle cx="134.3" cy="996.6" r=".85"/>
<circle cx="229.6" cy="997.9" r=".85"/>
<circle cx="121.4" cy="996.1" r=".85"/>
<circle cx="250.0" cy="996.7" r=".85"/>
<circle cx="235.4" cy="997.0" r=".85"/>
<circle cx="234.1" cy="997.9" r=".85"/>
<circle cx="132.1" cy="996.7" r=".85"/>
<circle cx="261.6" cy="995.8" r=".85"/>
<circle cx="152.9" cy="998.3" r=".85"/>
<circle cx="123.6" cy="994.7" r=".85"/>
<circle cx="141.8" cy="997.4" r=".85"/>
<circle cx="252.5" cy="996.2" r=".85"/>
<circle cx="227.6" cy="998.6" r=".85"/>
<circle cx="252.2" cy="996.6" r=".85"/>
<circle cx="235.8" cy="998.0" r=".85"/>
<circle cx="119.7" cy="995.4" r=".85"/>
<circle cx="228.0" cy="998.4" r=".85"/>
<circle cx="232.8" cy="997.9" r=".85"/>
<circle cx="152.7" cy="998.6" r=".85"/>
<circle cx="120.1" cy="995.7" r=".85"/>
<circle cx="254.2" cy="996.5" r=".85"/>
<circle cx="245.1" cy="996.6" r=".85"/>
<circle cx="241.1" cy="997.6" r=".85"/>
<circle cx="135.2" cy="996.9" r=".85"/>
<circle cx="136.6" cy="997.2" r=".85"/>
<circle cx="124.9" cy="996.1" r=".85"/>
<circle cx="134.3" cy="997.0" r=".85"/>
<circle cx="146.8" cy="997.3" r=".85"/>
<circle cx="127.0" cy="996.3" r=".85"/>
<circle cx="129.5" cy="996.5" r=".85"/>
<circle cx="132.5" cy="996.6" r=".85"/>
<circle cx="152.8" cy="998.0" r=".85"/>
<circle cx="233.8" cy="997.4" r=".85"/>
<circle cx="152.1" cy="998.5" r=".85"/>
<circle cx="143.7" cy="997.6" r=".85"/>
<circle cx="122.4" cy="995.6" r=".85"/>
<circle cx="240.4" cy="997.5" r=".85"/>
<circle cx="262.4" cy="995.3" r=".85"/>
<circle cx="261.1" cy="995.4" r=".85"/>
<circle cx="140.3" cy="997.0" r=".85"/>
<circle cx="250.5" cy="996.8" r=".85"/>
<circle cx="128.8" cy="996.0" r=".85"/>
<circle cx="255.3" cy="996.4" r=".85"/>
<circle cx="125.7" cy="996.5" r=".85"/>
<circle cx="256.9" cy="995.6" r=".85"/>
<circle cx="118.5" cy="995.8" r=".85"/>
<circle cx="249.6" cy="995.8" r=".85"/>
<circle cx="249.3" cy="997.0" r=".85"/>
<circle cx="131.0" cy="996.9" r=".85"/>
<circle cx="127.6" cy="996.2" r=".85"/>
<circle cx="252.9" cy="996.5" r=".85"/>
<circle cx="133.4" cy="996.2" r=".85"/>
<circle cx="226.3" cy="998.7" r=".85"/>
<circle cx="257.1" cy="996.2" r=".85"/>
<circle cx="241.9" cy="997.4" r=".85"/>
<circle cx="244.5" cy="996.7" r=".85"/>
<circle cx="125.5" cy="995.6" r=".85"/>
<circle cx="123.3" cy="995.0" r=".85"/>
<circle cx="262.9" cy="995.6" r=".85"/>
<circle cx="239.2" cy="996.9" r=".85"/>
<circle cx="119.3" cy="995.8" r=".85"/>
<circle cx="240.0" cy="996.8" r=".85"/>
<circle cx="130.0" cy="995.9" r=".85"/>
<circle cx="255.2" cy="995.5" r=".85"/>
<circle cx="130.9" cy="996.2" r=".85"/>
<circle cx="241.4" cy="997.0" r=".85"/>
<circle cx="236.8" cy="997.6" r=".85"/>
<circle cx="149.4" cy="997.6" r=".85"/>
<circle cx="260.4" cy="995.5" r=".85"/>
<circle cx="229.8" cy="997.9" r=".85"/>
<circle cx="125.2" cy="995.7" r=".85"/>
<circle cx="245.1" cy="996.9" r=".85"/>
<circle cx="145.3" cy="997.8" r=".85"/>
<circle cx="247.3" cy="996.2" r=".85"/>
<circle cx="254.6" cy="995.4" r=".85"/>
<circle cx="250.6" cy="996.6" r=".85"/>
<circle cx="131.6" cy="997.0" r=".85"/>
<circle cx="249.0" cy="996.3" r=".85"/>
<circle cx="234.8" cy="997.4" r=".85"/>
<circle cx="233.5" cy="998.0" r=".85"/>
<circle cx="130.0" cy="996.5" r=".85"/>
<circle cx="139.1" cy="996.8" r=".85"/>
<circle cx="124.5" cy="995.9" r=".85"/>
<circle cx="235.9" cy="997.5" r=".85"/>
<circle cx="252.8" cy="995.9" r=".85"/>
<circle cx="259.6" cy="995.4" r=".85"/>
<circle cx="153.7" cy="998.7" r=".85"/>
<circle cx="155.6" cy="998.2" r=".85"/>
<circle cx="123.2" cy="995.6" r=".85"/>
<circle cx="132.5" cy="996.8" r=".85"/>
<circle cx="144.3" cy="997.5" r=".85"/>
<circle cx="152.6" cy="998.1" r=".85"/>
<circle cx="119.7" cy="995.2" r=".85"/>
<circle cx="127.4" cy="996.6" r=".85"/>
<circle cx="137.2" cy="997.1" r=".85"/>
<circle cx="137.1" cy="997.4" r=".85"/>
<circle cx="225.6" cy="997.9" r=".85"/>
<circle cx="148.2" cy="998.4" r=".85"/>
<circle cx="225.1" cy="998.4" r=".85"/>
<circle cx="236.2" cy="996.4" r=".85"/>
<circle cx="226.4" cy="997.9" r=".85"/>
<circle cx="120.6" cy="996.0" r=".85"/>
<circle cx="254.8" cy="996.3" r=".85"/>
<circle cx="205.1" cy="998.9" r=".85"/>
<circle cx="215.8" cy="999.9" r=".85"/>
<circle cx="184.2" cy="996.7" r=".85"/>
<circle cx="222.1" cy="994.9" r=".85"/>
<circle cx="190.3" cy="1000.2" r=".85"/>
<circle cx="160.9" cy="997.9" r=".85"/>
<circle cx="188.7" cy="1001.2" r=".85"/>
<circle cx="168.4" cy="998.1" r=".85"/>
<circle cx="222.3" cy="993.1" r=".85"/>
<circle cx="173.8" cy="999.2" r=".85"/>
<circle cx="185.4" cy="996.8" r=".85"/>
<circle cx="213.9" cy="995.2" r=".85"/>
<circle cx="202.5" cy="998.6" r=".85"/>
<circle cx="200.4" cy="998.9" r=".85"/>
<circle cx="215.8" cy="998.8" r=".85"/>
<circle cx="192.9" cy="995.8" r=".85"/>
<circle cx="183.9" cy="1001.2" r=".85"/>
<circle cx="174.3" cy="996.9" r=".85"/>
<circle cx="181.2" cy="999.5" r=".85"/>
<circle cx="209.0" cy="997.0" r=".85"/>
<circle cx="200.8" cy="999.1" r=".85"/>
<circle cx="193.5" cy="1000.3" r=".85"/>
<circle cx="180.2" cy="999.2" r=".85"/>
<circle cx="183.3" cy="999.1" r=".85"/>
<circle cx="183.3" cy="999.9" r=".85"/>
<circle cx="190.5" cy="995.9" r=".85"/>
<circle cx="211.9" cy="999.2" r=".85"/>
<circle cx="193.1" cy="1000.6" r=".85"/>
<circle cx="203.1" cy="994.3" r=".85"/>
<circle cx="206.6" cy="997.3" r=".85"/>
<circle cx="201.0" cy="998.5" r=".85"/>
<circle cx="205.1" cy="999.9" r=".85"/>
<circle cx="195.6" cy="996.0" r=".85"/>
<circle cx="183.2" cy="999.8" r=".85"/>
<circle cx="198.4" cy="999.7" r=".85"/>
<circle cx="207.5" cy="996.9" r=".85"/>
<circle cx="212.4" cy="998.2" r=".85"/>
<circle cx="168.8" cy="990.6" r=".85"/>
<circle cx="188.1" cy="999.6" r=".85"/>
<circle cx="211.5" cy="997.0" r=".85"/>
<circle cx="188.4" cy="999.6" r=".85"/>
<circle cx="180.9" cy="998.7" r=".85"/>
<circle cx="177.5" cy="997.6" r=".85"/>
<circle cx="163.8" cy="995.8" r=".85"/>
<circle cx="191.1" cy="999.8" r=".85"/>
<circle cx="217.8" cy="998.9" r=".85"/>
<circle cx="203.7" cy="999.1" r=".85"/>
<circle cx="170.1" cy="996.0" r=".85"/>
<circle cx="190.6" cy="1000.6" r=".85"/>
<circle cx="209.5" cy="998.0" r=".85"/>
<circle cx="188.1" cy="990.4" r=".85"/>
<circle cx="183.4" cy="993.5" r=".85"/>
<circle cx="198.0" cy="999.4" r=".85"/>
<circle cx="172.4" cy="996.0" r=".85"/>
<circle cx="199.7" cy="999.5" r=".85"/>
<circle cx="187.6" cy="999.5" r=".85"/>
<circle cx="182.1" cy="997.1" r=".85"/>
<circle cx="157.8" cy="993.2" r=".85"/>
<circle cx="208.9" cy="993.2" r=".85"/>
<circle cx="200.5" cy="993.4" r=".85"/>
<circle cx="194.7" cy="998.1" r=".85"/>
<circle cx="180.5" cy="999.2" r=".85"/>
<circle cx="183.5" cy="996.4" r=".85"/>
<circle cx="175.4" cy="997.2" r=".85"/>
<circle cx="211.6" cy="998.2" r=".85"/>
<circle cx="190.9" cy="999.5" r=".85"/>
<circle cx="189.7" cy="994.5" r=".85"/>
<circle cx="192.4" cy="1001.0" r=".85"/>
<circle cx="194.2" cy="995.3" r=".85"/>
<circle cx="192.0" cy="998.0" r=".85"/>
<circle cx="206.8" cy="999.9" r=".85"/>
<circle cx="184.4" cy="995.9" r=".85"/>
<circle cx="177.1" cy="999.1" r=".85"/>
<circle cx="200.5" cy="1000.2" r=".85"/>
<circle cx="200.1" cy="997.4" r=".85"/>
<circle cx="189.1" cy="1001.2" r=".85"/>
<circle cx="181.6" cy="999.4" r=".85"/>
<circle cx="193.2" cy="998.1" r=".85"/>
<circle cx="170.2" cy="998.0" r=".85"/>
<circle cx="203.8" cy="995.2" r=".85"/>
<circle cx="227.7" cy="990.7" r=".85"/>
<circle cx="193.1" cy="1001.1" r=".85"/>
<circle cx="194.7" cy="990.6" r=".85"/>
<circle cx="189.0" cy="998.0" r=".85"/>
<circle cx="188.2" cy="996.2" r=".85"/>
<circle cx="210.1" cy="993.2" r=".85"/>
<circle cx="220.7" cy="996.7" r=".85"/>
<circle cx="230.5" cy="997.3" r=".85"/>
<circle cx="208.1" cy="998.4" r=".85"/>
<circle cx="202.2" cy="999.4" r=".85"/>
<circle cx="180.5" cy="999.5" r=".85"/>
<circle cx="228.5" cy="997.5" r=".85"/>
<circle cx="196.2" cy="1000.2" r=".85"/>
<circle cx="183.0" cy="1001.2" r=".85"/>
<circle cx="198.1" cy="998.9" r=".85"/>
<circle cx="171.7" cy="997.2" r=".85"/>
<circle cx="190.8" cy="1000.3" r=".85"/>
<circle cx="192.4" cy="999.2" r=".85"/>
<circle cx="195.4" cy="1000.6" r=".85"/>
<circle cx="195.6" cy="1000.0" r=".85"/>
<circle cx="181.5" cy="998.0" r=".85"/>
<circle cx="224.7" cy="989.4" r=".85"/>
<circle cx="203.3" cy="998.0" r=".85"/>
<circle cx="209.4" cy="995.0" r=".85"/>
<circle cx="199.2" cy="999.0" r=".85"/>
<circle cx="201.1" cy="995.1" r=".85"/>
<circle cx="209.2" cy="993.6" r=".85"/>
<circle cx="195.6" cy="994.3" r=".85"/>
<circle cx="205.8" cy="994.6" r=".85"/>
<circle cx="207.5" cy="993.1" r=".85"/>
<circle cx="192.6" cy="997.6" r=".85"/>
<circle cx="175.6" cy="997.6" r=".85"/>
<circle cx="179.6" cy="1000.3" r=".85"/>
<circle cx="192.7" cy="1000.6" r=".85"/>
<circle cx="213.6" cy="995.7" r=".85"/>
<circle cx="187.5" cy="995.3" r=".85"/>
<circle cx="192.5" cy="999.6" r=".85"/>
<circle cx="168.8" cy="998.2" r=".85"/>
<circle cx="197.4" cy="993.7" r=".85"/>
<circle cx="196.9" cy="993.9" r=".85"/>
<circle cx="185.1" cy="1000.8" r=".85"/>
<circle cx="207.0" cy="996.3" r=".85"/>
<circle cx="184.9" cy="996.2" r=".85"/>
<circle cx="194.6" cy="995.2" r=".85"/>
<circle cx="210.3" cy="999.6" r=".85"/>
<circle cx="199.1" cy="998.7" r=".85"/>
<circle cx="186.1" cy="1000.8" r=".85"/>
<circle cx="204.1" cy="998.3" r=".85"/>
<circle cx="176.6" cy="997.7" r=".85"/>
<circle cx="193.9" cy="1000.2" r=".85"/>
<circle cx="209.6" cy="995.7" r=".85"/>
<circle cx="188.8" cy="995.6" r=".85"/>
<circle cx="179.6" cy="997.0" r=".85"/>
<circle cx="180.2" cy="997.9" r=".85"/>
<circle cx="189.0" cy="1001.3" r=".85"/>
<circle cx="216.7" cy="998.4" r=".85"/>
<circle cx="197.4" cy="1000.0" r=".85"/>
<circle cx="179.3" cy="997.9" r=".85"/>
<circle cx="164.6" cy="999.1" r=".85"/>
<circle cx="193.5" cy="999.3" r=".85"/>
<circle cx="186.8" cy="999.5" r=".85"/>
<circle cx="225.2" cy="994.7" r=".85"/>
<circle cx="212.7" cy="999.1" r=".85"/>
<circle cx="216.2" cy="996.8" r=".85"/>
<circle cx="180.8" cy="1000.2" r=".85"/>
<circle cx="216.2" cy="997.8" r=".85"/>
<circle cx="176.3" cy="990.2" r=".85"/>
<circle cx="184.1" cy="999.1" r=".85"/>
<circle cx="221.2" cy="997.1" r=".85"/>
<circle cx="158.5" cy="997.5" r=".85"/>
<circle cx="179.8" cy="997.3" r=".85"/>
<circle cx="196.8" cy="999.4" r=".85"/>
<circle cx="221.4" cy="996.9" r=".85"/>
<circle cx="220.6" cy="994.8" r=".85"/>
<circle cx="174.8" cy="998.3" r=".85"/>
<circle cx="211.0" cy="999.0" r=".85"/>
<circle cx="204.3" cy="996.8" r=".85"/>
<circle cx="171.1" cy="999.0" r=".85"/>
<circle cx="211.6" cy="999.5" r=".85"/>
<circle cx="213.1" cy="996.7" r=".85"/>
<circle cx="182.7" cy="999.1" r=".85"/>
<circle cx="199.3" cy="990.4" r=".85"/>
<circle cx="174.6" cy="1000.0" r=".85"/>
<circle cx="192.3" cy="999.9" r=".85"/>
<circle cx="178.1" cy="1000.0" r=".85"/>
<circle cx="196.6" cy="999.2" r=".85"/>
<circle cx="213.2" cy="992.6" r=".85"/>
<circle cx="180.0" cy="998.4" r=".85"/>
<circle cx="184.2" cy="998.7" r=".85"/>
<circle cx="203.2" cy="999.8" r=".85"/>
<circle cx="196.4" cy="998.7" r=".85"/>
<circle cx="184.4" cy="997.3" r=".85"/>
<circle cx="179.5" cy="1000.1" r=".85"/>
<circle cx="179.2" cy="998.0" r=".85"/>
<circle cx="214.6" cy="998.2" r=".85"/>
<circle cx="192.0" cy="997.3" r=".85"/>
<circle cx="201.4" cy="996.7" r=".85"/>
<circle cx="187.3" cy="1000.0" r=".85"/>
<circle cx="188.8" cy="999.5" r=".85"/>
<circle cx="208.0" cy="999.1" r=".85"/>
<circle cx="228.8" cy="993.6" r=".85"/>
<circle cx="187.8" cy="1000.8" r=".85"/>
<circle cx="203.5" cy="989.7" r=".85"/>
<circle cx="225.0" cy="995.1" r=".85"/>
<circle cx="191.8" cy="996.4" r=".85"/>
<circle cx="218.7" cy="996.7" r=".85"/>
<circle cx="198.1" cy="993.3" r=".85"/>
<circle cx="214.7" cy="997.2" r=".85"/>
<circle cx="200.2" cy="998.6" r=".85"/>
<circle cx="202.4" cy="1000.9" r=".85"/>
<circle cx="208.9" cy="999.6" r=".85"/>
<circle cx="194.3" cy="1000.1" r=".85"/>
<circle cx="178.0" cy="996.7" r=".85"/>
<circle cx="185.1" cy="999.5" r=".85"/>
<circle cx="181.5" cy="996.8" r=".85"/>
<circle cx="217.2" cy="993.9" r=".85"/>
<circle cx="210.6" cy="994.5" r=".85"/>
<circle cx="188.9" cy="998.5" r=".85"/>
<circle cx="199.4" cy="998.1" r=".85"/>
<circle cx="182.3" cy="1000.2" r=".85"/>
<circle cx="196.4" cy="994.6" r=".85"/>
<circle cx="184.0" cy="990.6" r=".85"/>
<circle cx="196.6" cy="991.8" r=".85"/>
<circle cx="198.7" cy="998.0" r=".85"/>
<circle cx="203.2" cy="999.6" r=".85"/>
<circle cx="171.4" cy="999.5" r=".85"/>
<circle cx="197.3" cy="999.5" r=".85"/>
<circle cx="204.5" cy="999.3" r=".85"/>
<circle cx="200.9" cy="994.5" r=".85"/>
<circle cx="190.2" cy="1001.2" r=".85"/>
<circle cx="200.2" cy="990.7" r=".85"/>
<circle cx="175.5" cy="990.2" r=".85"/>
<circle cx="216.2" cy="996.0" r=".85"/>
<circle cx="189.5" cy="999.3" r=".85"/>
<circle cx="202.1" cy="999.1" r=".85"/>
<circle cx="191.2" cy="1001.7" r=".85"/>
<circle cx="188.6" cy="1000.2" r=".85"/>
<circle cx="195.9" cy="996.8" r=".85"/>
<circle cx="182.3" cy="993.8" r=".85"/>
<circle cx="204.1" cy="993.5" r=".85"/>
<circle cx="189.5" cy="1000.5" r=".85"/>
<circle cx="206.9" cy="998.4" r=".85"/>
<circle cx="182.9" cy="1000.7" r=".85"/>
<circle cx="194.9" cy="996.4" r=".85"/>
<circle cx="195.9" cy="1000.3" r=".85"/>
<circle cx="208.8" cy="998.6" r=".85"/>
<circle cx="223.5" cy="995.2" r=".85"/>
<circle cx="170.7" cy="996.9" r=".85"/>
<circle cx="148.1" cy="992.5" r=".85"/>
<circle cx="159.5" cy="997.3" r=".85"/>
<circle cx="158.2" cy="996.5" r=".85"/>
<circle cx="195.2" cy="999.4" r=".85"/>
<circle cx="186.3" cy="1000.1" r=".85"/>
<circle cx="215.2" cy="990.8" r=".85"/>
<circle cx="194.1" cy="994.4" r=".85"/>
<circle cx="199.9" cy="1000.2" r=".85"/>
<circle cx="212.5" cy="994.6" r=".85"/>
<circle cx="175.9" cy="997.2" r=".85"/>
<circle cx="169.0" cy="996.2" r=".85"/>
<circle cx="210.0" cy="998.9" r=".85"/>
<circle cx="208.1" cy="995.9" r=".85"/>
<circle cx="185.7" cy="999.2" r=".85"/>
<circle cx="203.3" cy="998.6" r=".85"/>
<circle cx="199.4" cy="997.2" r=".85"/>
<circle cx="205.7" cy="999.0" r=".85"/>
<circle cx="163.9" cy="996.8" r=".85"/>
<circle cx="209.2" cy="999.0" r=".85"/>
<circle cx="214.6" cy="993.6" r=".85"/>
<circle cx="181.9" cy="999.2" r=".85"/>
<circle cx="185.6" cy="999.7" r=".85"/>
<circle cx="202.6" cy="999.1" r=".85"/>
<circle cx="167.1" cy="996.9" r=".85"/>
<circle cx="204.4" cy="999.8" r=".85"/>
<circle cx="195.7" cy="999.6" r=".85"/>
<circle cx="215.6" cy="998.8" r=".85"/>
<circle cx="178.9" cy="998.4" r=".85"/>
<circle cx="197.0" cy="996.2" r=".85"/>
<circle cx="181.0" cy="999.1" r=".85"/>
<circle cx="207.7" cy="997.4" r=".85"/>
<circle cx="194.7" cy="995.4" r=".85"/>
<circle cx="189.2" cy="1000.4" r=".85"/>
<circle cx="194.8" cy="993.9" r=".85"/>
<circle cx="213.7" cy="999.4" r=".85"/>
<circle cx="151.8" cy="994.3" r=".85"/>
<circle cx="152.0" cy="995.4" r=".85"/>
<circle cx="226.3" cy="990.9" r=".85"/>
<circle cx="190.0" cy="1000.7" r=".85"/>
<circle cx="187.3" cy="998.9" r=".85"/>
<circle cx="197.9" cy="989.3" r=".85"/>
<circle cx="199.5" cy="994.5" r=".85"/>
<circle cx="191.0" cy="999.2" r=".85"/>
<circle cx="189.7" cy="991.5" r=".85"/>
<circle cx="199.1" cy="999.8" r=".85"/>
<circle cx="170.6" cy="997.4" r=".85"/>
<circle cx="217.0" cy="990.9" r=".85"/>
<circle cx="212.4" cy="998.5" r=".85"/>
<circle cx="208.4" cy="998.7" r=".85"/>
<circle cx="197.0" cy="997.6" r=".85"/>
<circle cx="219.8" cy="995.2" r=".85"/>
<circle cx="178.2" cy="999.7" r=".85"/>
<circle cx="201.7" cy="999.4" r=".85"/>
<circle cx="186.4" cy="993.7" r=".85"/>
<circle cx="209.2" cy="995.4" r=".85"/>
<circle cx="221.9" cy="999.1" r=".85"/>
<circle cx="171.0" cy="997.5" r=".85"/>
<circle cx="205.8" cy="995.2" r=".85"/>
<circle cx="172.5" cy="999.7" r=".85"/>
<circle cx="170.9" cy="995.6" r=".85"/>
<circle cx="186.7" cy="997.8" r=".85"/>
<circle cx="199.1" cy="999.6" r=".85"/>
<circle cx="226.0" cy="995.0" r=".85"/>
<circle cx="207.7" cy="998.3" r=".85"/>
<circle cx="193.0" cy="1000.0" r=".85"/>
<circle cx="190.1" cy="994.2" r=".85"/>
<circle cx="212.5" cy="996.5" r=".85"/>
<circle cx="192.0" cy="999.7" r=".85"/>
<circle cx="217.1" cy="998.3" r=".85"/>
<circle cx="187.2" cy="998.1" r=".85"/>
<circle cx="216.0" cy="982.4" r=".85"/>
<circle cx="188.1" cy="1001.6" r=".85"/>
<circle cx="183.6" cy="993.2" r=".85"/>
<circle cx="226.3" cy="995.0" r=".85"/>
<circle cx="219.6" cy="992.8" r=".85"/>
<circle cx="173.5" cy="996.6" r=".85"/>
<circle cx="205.0" cy="997.4" r=".85"/>
<circle cx="180.3" cy="1000.0" r=".85"/>
<circle cx="198.2" cy="1000.6" r=".85"/>
<circle cx="165.6" cy="999.3" r=".85"/>
<circle cx="208.0" cy="996.8" r=".85"/>
<circle cx="230.4" cy="993.7" r=".85"/>
<circle cx="219.6" cy="995.0" r=".85"/>
<circle cx="194.3" cy="997.5" r=".85"/>
<circle cx="210.5" cy="995.3" r=".85"/>
<circle cx="213.4" cy="999.0" r=".85"/>
<circle cx="210.5" cy="998.6" r=".85"/>
<circle cx="202.2" cy="993.2" r=".85"/>
<circle cx="193.8" cy="996.5" r=".85"/>
<circle cx="210.7" cy="997.8" r=".85"/>
<circle cx="224.6" cy="992.7" r=".85"/>
<circle cx="176.4" cy="992.1" r=".85"/>
<circle cx="223.8" cy="993.9" r=".85"/>
<circle cx="193.4" cy="998.5" r=".85"/>
<circle cx="183.7" cy="1000.5" r=".85"/>
<circle cx="192.1" cy="995.8" r=".85"/>
<circle cx="190.4" cy="999.7" r=".85"/>
<circle cx="193.6" cy="989.5" r=".85"/>
<circle cx="181.8" cy="999.8" r=".85"/>
<circle cx="181.6" cy="998.7" r=".85"/>
<circle cx="181.0" cy="995.1" r=".85"/>
<circle cx="182.6" cy="995.8" r=".85"/>
<circle cx="199.1" cy="998.0" r=".85"/>
<circle cx="170.3" cy="999.7" r=".85"/>
<circle cx="194.9" cy="994.3" r=".85"/>
<circle cx="197.5" cy="996.9" r=".85"/>
<circle cx="221.9" cy="997.6" r=".85"/>
<circle cx="195.7" cy="998.6" r=".85"/>
<circle cx="210.5" cy="997.1" r=".85"/>
<circle cx="199.5" cy="999.1" r=".85"/>
<circle cx="168.2" cy="997.5" r=".85"/>
<circle cx="206.2" cy="999.2" r=".85"/>
<circle cx="228.4" cy="994.6" r=".85"/>
<circle cx="211.2" cy="997.8" r=".85"/>
<circle cx="182.8" cy="998.8" r=".85"/>
<circle cx="165.8" cy="998.2" r=".85"/>
<circle cx="162.7" cy="989.6" r=".85"/>
<circle cx="219.4" cy="999.0" r=".85"/>
<circle cx="203.3" cy="999.8" r=".85"/>
<circle cx="174.4" cy="997.3" r=".85"/>
<circle cx="219.0" cy="996.7" r=".85"/>
<circle cx="225.0" cy="988.1" r=".85"/>
<circle cx="205.6" cy="996.7" r=".85"/>
<circle cx="217.6" cy="997.2" r=".85"/>
<circle cx="184.5" cy="1000.7" r=".85"/>
<circle cx="198.6" cy="1000.3" r=".85"/>
<circle cx="196.5" cy="992.4" r=".85"/>
<circle cx="184.3" cy="1000.2" r=".85"/>
<circle cx="189.1" cy="1000.1" r=".85"/>
<circle cx="187.0" cy="997.3" r=".85"/>
<circle cx="217.0" cy="999.2" r=".85"/>
<circle cx="163.5" cy="998.5" r=".85"/>
<circle cx="194.8" cy="1000.7" r=".85"/>
<circle cx="224.6" cy="995.3" r=".85"/>
<circle cx="186.1" cy="1000.1" r=".85"/>
<circle cx="186.3" cy="999.4" r=".85"/>
<circle cx="209.6" cy="989.3" r=".85"/>
<circle cx="187.4" cy="997.8" r=".85"/>
<circle cx="177.4" cy="999.0" r=".85"/>
<circle cx="202.1" cy="1000.2" r=".85"/>
<circle cx="205.5" cy="999.5" r=".85"/>
<circle cx="188.5" cy="1000.7" r=".85"/>
<circle cx="177.2" cy="998.5" r=".85"/>
<circle cx="190.5" cy="1000.8" r=".85"/>
<circle cx="216.9" cy="995.8" r=".85"/>
<circle cx="211.9" cy="998.2" r=".85"/>
<circle cx="196.8" cy="996.8" r=".85"/>
<circle cx="166.6" cy="994.9" r=".85"/>
<circle cx="196.8" cy="1000.6" r=".85"/>
<circle cx="177.0" cy="996.5" r=".85"/>
<circle cx="188.1" cy="997.7" r=".85"/>
<circle cx="202.9" cy="1000.9" r=".85"/>
<circle cx="215.5" cy="997.8" r=".85"/>
<circle cx="197.8" cy="997.9" r=".85"/>
<circle cx="172.8" cy="999.4" r=".85"/>
<circle cx="172.7" cy="994.6" r=".85"/>
<circle cx="169.5" cy="994.7" r=".85"/>
<circle cx="185.5" cy="997.7" r=".85"/>
<circle cx="208.5" cy="999.3" r=".85"/>
<circle cx="197.4" cy="995.0" r=".85"/>
<circle cx="178.8" cy="997.1" r=".85"/>
<circle cx="208.6" cy="998.9" r=".85"/>
<circle cx="200.1" cy="999.0" r=".85"/>
<circle cx="208.0" cy="990.5" r=".85"/>
<circle cx="177.1" cy="996.0" r=".85"/>
<circle cx="170.4" cy="998.7" r=".85"/>
<circle cx="165.4" cy="995.8" r=".85"/>
<circle cx="194.1" cy="999.2" r=".85"/>
<circle cx="217.4" cy="990.8" r=".85"/>
<circle cx="179.4" cy="995.3" r=".85"/>
<circle cx="156.1" cy="997.7" r=".85"/>
<circle cx="196.9" cy="998.2" r=".85"/>
<circle cx="196.5" cy="1000.2" r=".85"/>
<circle cx="168.1" cy="999.0" r=".85"/>
<circle cx="185.3" cy="999.8" r=".85"/>
<circle cx="208.3" cy="988.2" r=".85"/>
<circle cx="200.5" cy="995.0" r=".85"/>
<circle cx="181.6" cy="995.4" r=".85"/>
<circle cx="191.1" cy="995.7" r=".85"/>
<circle cx="191.3" cy="999.2" r=".85"/>
<circle cx="215.1" cy="998.4" r=".85"/>
<circle cx="189.2" cy="996.9" r=".85"/>
<circle cx="165.4" cy="996.5" r=".85"/>
<circle cx="176.7" cy="991.2" r=".85"/>
<circle cx="189.4" cy="1001.0" r=".85"/>
<circle cx="200.1" cy="994.8" r=".85"/>
<circle cx="196.4" cy="995.9" r=".85"/>
<circle cx="198.4" cy="991.2" r=".85"/>
<circle cx="200.4" cy="999.4" r=".85"/>
<circle cx="212.2" cy="993.0" r=".85"/>
<circle cx="214.0" cy="993.5" r=".85"/>
<circle cx="186.0" cy="998.6" r=".85"/>
<circle cx="196.2" cy="996.0" r=".85"/>
<circle cx="176.5" cy="999.0" r=".85"/>
<circle cx="189.9" cy="999.8" r=".85"/>
<circle cx="183.1" cy="997.5" r=".85"/>
<circle cx="209.2" cy="996.4" r=".85"/>
<circle cx="183.2" cy="999.7" r=".85"/>
<circle cx="215.7" cy="994.1" r=".85"/>
<circle cx="202.5" cy="994.3" r=".85"/>
<circle cx="204.8" cy="996.2" r=".85"/>
<circle cx="175.0" cy="999.8" r=".85"/>
<circle cx="185.8" cy="994.9" r=".85"/>
<circle cx="213.7" cy="997.0" r=".85"/>
<circle cx="233.4" cy="997.5" r=".85"/>
<circle cx="206.3" cy="997.9" r=".85"/>
<circle cx="176.6" cy="995.0" r=".85"/>
<circle cx="189.3" cy="1000.0" r=".85"/>
<circle cx="204.6" cy="993.9" r=".85"/>
<circle cx="211.2" cy="995.5" r=".85"/>
<circle cx="205.6" cy="996.2" r=".85"/>
<circle cx="172.0" cy="999.6" r=".85"/>
<circle cx="206.3" cy="994.1" r=".85"/>
<circle cx="184.0" cy="1001.4" r=".85"/>
<circle cx="213.3" cy="994.9" r=".85"/>
<circle cx="181.5" cy="999.8" r=".85"/>
<circle cx="170.0" cy="999.6" r=".85"/>
<circle cx="163.1" cy="997.2" r=".85"/>
<circle cx="181.1" cy="996.4" r=".85"/>
<circle cx="178.8" cy="992.2" r=".85"/>
<circle cx="202.9" cy="993.2" r=".85"/>
<circle cx="221.3" cy="997.3" r=".85"/>
<circle cx="220.3" cy="998.5" r=".85"/>
<circle cx="212.2" cy="992.3" r=".85"/>
<circle cx="185.5" cy="1000.4" r=".85"/>
<circle cx="194.8" cy="996.8" r=".85"/>
<circle cx="193.9" cy="999.5" r=".85"/>
<circle cx="200.7" cy="997.3" r=".85"/>
<circle cx="188.7" cy="996.1" r=".85"/>
<circle cx="192.6" cy="997.0" r=".85"/>
<circle cx="200.5" cy="996.7" r=".85"/>
<circle cx="172.1" cy="996.4" r=".85"/>
<circle cx="202.1" cy="996.1" r=".85"/>
<circle cx="203.4" cy="993.9" r=".85"/>
<circle cx="217.0" cy="994.7" r=".85"/>
<circle cx="179.1" cy="990.6" r=".85"/>
<circle cx="192.1" cy="990.0" r=".85"/>
<circle cx="200.3" cy="995.3" r=".85"/>
<circle cx="177.2" cy="995.2" r=".85"/>
<circle cx="186.1" cy="999.4" r=".85"/>
<circle cx="184.2" cy="999.8" r=".85"/>
<circle cx="211.2" cy="997.2" r=".85"/>
<circle cx="210.1" cy="999.3" r=".85"/>
<circle cx="160.8" cy="989.2" r=".85"/>
<circle cx="188.0" cy="998.5" r=".85"/>
<circle cx="206.8" cy="989.9" r=".85"/>
<circle cx="167.1" cy="994.6" r=".85"/>
<circle cx="180.1" cy="997.0" r=".85"/>
<circle cx="186.4" cy="1000.7" r=".85"/>
<circle cx="180.4" cy="986.1" r=".85"/>
<circle cx="205.0" cy="996.4" r=".85"/>
<circle cx="200.0" cy="993.9" r=".85"/>
<circle cx="188.5" cy="998.7" r=".85"/>
<circle cx="180.4" cy="998.3" r=".85"/>
<circle cx="170.7" cy="998.0" r=".85"/>
<circle cx="220.5" cy="999.2" r=".85"/>
<circle cx="191.0" cy="997.2" r=".85"/>
<circle cx="182.7" cy="999.7" r=".85"/>
<circle cx="200.5" cy="991.6" r=".85"/>
<circle cx="184.2" cy="997.0" r=".85"/>
<circle cx="185.1" cy="996.3" r=".85"/>
<circle cx="176.7" cy="1000.2" r=".85"/>
<circle cx="206.9" cy="999.7" r=".85"/>
<circle cx="211.5" cy="997.4" r=".85"/>
<circle cx="193.9" cy="998.6" r=".85"/>
<circle cx="190.3" cy="993.1" r=".85"/>
<circle cx="205.6" cy="994.7" r=".85"/>
<circle cx="201.1" cy="999.6" r=".85"/>
<circle cx="184.9" cy="995.0" r=".85"/>
<circle cx="210.4" cy="992.7" r=".85"/>
<circle cx="200.1" cy="999.7" r=".85"/>
<circle cx="205.1" cy="998.3" r=".85"/>
<circle cx="154.7" cy="985.4" r=".85"/>
<circle cx="164.1" cy="993.8" r=".85"/>
<circle cx="176.7" cy="1000.8" r=".85"/>
<circle cx="198.8" cy="993.5" r=".85"/>
<circle cx="186.6" cy="1001.8" r=".85"/>
<circle cx="210.6" cy="991.4" r=".85"/>
<circle cx="223.7" cy="986.7" r=".85"/>
<circle cx="207.7" cy="990.8" r=".85"/>
<circle cx="178.6" cy="989.9" r=".85"/>
<circle cx="214.3" cy="986.0" r=".85"/>
<circle cx="193.4" cy="996.3" r=".85"/>
<circle cx="233.9" cy="989.9" r=".85"/>
<circle cx="186.5" cy="998.3" r=".85"/>
<circle cx="204.1" cy="998.0" r=".85"/>
<circle cx="175.7" cy="992.6" r=".85"/>
<circle cx="211.0" cy="997.3" r=".85"/>
<circle cx="176.1" cy="998.6" r=".85"/>
<circle cx="194.3" cy="987.6" r=".85"/>
<circle cx="172.0" cy="982.6" r=".85"/>
<circle cx="208.5" cy="992.3" r=".85"/>
<circle cx="188.9" cy="983.2" r=".85"/>
<circle cx="151.5" cy="993.9" r=".85"/>
<circle cx="173.7" cy="989.5" r=".85"/>
<circle cx="177.9" cy="995.1" r=".85"/>
<circle cx="201.7" cy="985.0" r=".85"/>
<circle cx="211.9" cy="985.0" r=".85"/>
<circle cx="170.4" cy="991.7" r=".85"/>
<circle cx="217.2" cy="990.3" r=".85"/>
<circle cx="217.2" cy="980.6" r=".85"/>
<circle cx="203.8" cy="981.7" r=".85"/>
<circle cx="203.4" cy="991.6" r=".85"/>
<circle cx="173.9" cy="989.2" r=".85"/>
<circle cx="169.5" cy="979.1" r=".85"/>
<circle cx="222.4" cy="993.7" r=".85"/>
<circle cx="234.7" cy="995.2" r=".85"/>
<circle cx="186.5" cy="984.4" r=".85"/>
<circle cx="223.0" cy="989.7" r=".85"/>
<circle cx="163.4" cy="990.8" r=".85"/>
<circle cx="174.7" cy="995.0" r=".85"/>
<circle cx="203.6" cy="995.2" r=".85"/>
<circle cx="152.6" cy="984.0" r=".85"/>
<circle cx="231.9" cy="988.9" r=".85"/>
<circle cx="196.3" cy="993.3" r=".85"/>
<circle cx="210.8" cy="988.9" r=".85"/>
<circle cx="205.0" cy="990.4" r=".85"/>
<circle cx="200.8" cy="989.0" r=".85"/>
<circle cx="181.2" cy="993.2" r=".85"/>
<circle cx="210.1" cy="994.9" r=".85"/>
<circle cx="199.1" cy="994.5" r=".85"/>
<circle cx="196.2" cy="990.7" r=".85"/>
<circle cx="169.5" cy="993.7" r=".85"/>
<circle cx="189.2" cy="985.1" r=".85"/>
<circle cx="186.7" cy="988.3" r=".85"/>
<circle cx="167.3" cy="991.6" r=".85"/>
<circle cx="187.8" cy="994.7" r=".85"/>
<circle cx="157.9" cy="994.3" r=".85"/>
<circle cx="187.9" cy="980.2" r=".85"/>
<circle cx="195.1" cy="993.3" r=".85"/>
<circle cx="182.6" cy="987.7" r=".85"/>
<circle cx="136.4" cy="993.5" r=".85"/>
<circle cx="211.6" cy="992.6" r=".85"/>
<circle cx="167.3" cy="993.8" r=".85"/>
<circle cx="200.0" cy="991.8" r=".85"/>
<circle cx="198.9" cy="994.9" r=".85"/>
<circle cx="192.4" cy="991.9" r=".85"/>
<circle cx="174.5" cy="983.5" r=".85"/>
<circle cx="239.1" cy="986.3" r=".85"/>
<circle cx="173.0" cy="981.1" r=".85"/>
<circle cx="178.5" cy="992.9" r=".85"/>
<circle cx="223.9" cy="977.5" r=".85"/>
<circle cx="184.0" cy="993.9" r=".85"/>
<circle cx="173.5" cy="989.8" r=".85"/>
<circle cx="120.7" cy="980.3" r=".85"/>
<circle cx="117.5" cy="976.3" r=".85"/>
<circle cx="131.5" cy="992.0" r=".85"/>
<circle cx="143.4" cy="998.5" r=".85"/>
<circle cx="118.9" cy="978.3" r=".85"/>
<circle cx="147.0" cy="999.2" r=".85"/>
<circle cx="127.2" cy="988.3" r=".85"/>
<circle cx="138.8" cy="996.6" r=".85"/>
<circle cx="125.9" cy="986.6" r=".85"/>
<circle cx="136.9" cy="995.8" r=".85"/>
<circle cx="147.0" cy="999.3" r=".85"/>
<circle cx="122.1" cy="983.1" r=".85"/>
<circle cx="144.7" cy="998.5" r=".85"/>
<circle cx="134.5" cy="994.4" r=".85"/>
<circle cx="145.4" cy="998.6" r=".85"/>
<circle cx="127.4" cy="988.5" r=".85"/>
<circle cx="144.9" cy="998.7" r=".85"/>
<circle cx="139.8" cy="997.2" r=".85"/>
<circle cx="147.3" cy="998.5" r=".85"/>
<circle cx="132.4" cy="992.0" r=".85"/>
<circle cx="118.3" cy="977.3" r=".85"/>
<circle cx="137.6" cy="995.9" r=".85"/>
<circle cx="122.4" cy="982.4" r=".85"/>
<circle cx="145.4" cy="998.8" r=".85"/>
<circle cx="118.6" cy="978.4" r=".85"/>
<circle cx="149.3" cy="999.1" r=".85"/>
<circle cx="113.8" cy="970.5" r=".85"/>
<circle cx="124.4" cy="985.5" r=".85"/>
<circle cx="128.0" cy="988.8" r=".85"/>
<circle cx="126.8" cy="987.2" r=".85"/>
<circle cx="242.5" cy="996.4" r=".85"/>
<circle cx="231.9" cy="999.1" r=".85"/>
<circle cx="259.7" cy="984.7" r=".85"/>
<circle cx="245.2" cy="995.0" r=".85"/>
<circle cx="253.3" cy="990.2" r=".85"/>
<circle cx="248.2" cy="993.5" r=".85"/>
<circle cx="249.9" cy="992.8" r=".85"/>
<circle cx="228.2" cy="998.8" r=".85"/>
<circle cx="234.6" cy="997.9" r=".85"/>
<circle cx="252.8" cy="990.4" r=".85"/>
<circle cx="248.5" cy="993.9" r=".85"/>
<circle cx="265.1" cy="979.3" r=".85"/>
<circle cx="259.3" cy="985.4" r=".85"/>
<circle cx="226.9" cy="998.9" r=".85"/>
<circle cx="228.4" cy="998.9" r=".85"/>
<circle cx="246.7" cy="994.7" r=".85"/>
<circle cx="249.7" cy="993.1" r=".85"/>
<circle cx="268.3" cy="975.0" r=".85"/>
<circle cx="268.9" cy="974.3" r=".85"/>
<circle cx="268.8" cy="974.8" r=".85"/>
<circle cx="257.8" cy="986.8" r=".85"/>
<circle cx="233.3" cy="998.4" r=".85"/>
<circle cx="231.5" cy="999.1" r=".85"/>
<circle cx="230.5" cy="999.0" r=".85"/>
<circle cx="265.6" cy="978.2" r=".85"/>
<circle cx="266.2" cy="977.8" r=".85"/>
<circle cx="263.2" cy="981.6" r=".85"/>
<circle cx="239.3" cy="997.8" r=".85"/>
<circle cx="237.1" cy="998.2" r=".85"/>
<circle cx="250.7" cy="992.3" r=".85"/>
<circle cx="261.3" cy="983.4" r=".85"/>
<circle cx="246.2" cy="994.8" r=".85"/>
<circle cx="265.7" cy="978.6" r=".85"/>
<circle cx="249.2" cy="993.4" r=".85"/>
<circle cx="108.8" cy="994.2" r=".85"/>
<circle cx="129.6" cy="971.9" r=".85"/>
<circle cx="146.3" cy="978.4" r=".85"/>
<circle cx="145.4" cy="984.7" r=".85"/>
<circle cx="150.9" cy="983.8" r=".85"/>
<circle cx="166.1" cy="979.2" r=".85"/>
<circle cx="176.3" cy="974.5" r=".85"/>
<circle cx="175.2" cy="985.2" r=".85"/>
<circle cx="213.2" cy="978.9" r=".85"/>
<circle cx="222.3" cy="979.9" r=".85"/>
<circle cx="240.6" cy="979.9" r=".85"/>
<circle cx="252.7" cy="977.8" r=".85"/>
<circle cx="236.0" cy="988.4" r=".85"/>
<circle cx="245.1" cy="990.5" r=".85"/>
<circle cx="270.2" cy="971.5" r=".85"/>
<circle cx="273.2" cy="969.9" r=".85"/>
<circle cx="114.4" cy="973.1" r=".85"/>
</g>
<rect x="75.3" y="851.7" width="231.59999999999997" height="156.5999999999999" fill="none" stroke="#8a8a8a" stroke-width="0.9"/>
<line x1="175.20" y1="851.70" x2="175.20" y2="1008.30" stroke="#555" stroke-width="0.9"/>
<line x1="205.60" y1="851.70" x2="205.60" y2="1008.30" stroke="#cfcfcf" stroke-width="1.3"/>
<line x1="72.00" y1="1002.10" x2="75.30" y2="1002.10" stroke="#8a8a8a" stroke-width="0.8"/>
<text x="70.80" y="1005.60" font-size="9.6" text-anchor="end" fill="#474747">0</text>
<line x1="72.00" y1="981.00" x2="75.30" y2="981.00" stroke="#8a8a8a" stroke-width="0.8"/>
<text x="70.80" y="984.50" font-size="9.6" text-anchor="end" fill="#474747">2</text>
<line x1="72.00" y1="959.90" x2="75.30" y2="959.90" stroke="#8a8a8a" stroke-width="0.8"/>
<text x="70.80" y="963.40" font-size="9.6" text-anchor="end" fill="#474747">4</text>
<line x1="72.00" y1="938.80" x2="75.30" y2="938.80" stroke="#8a8a8a" stroke-width="0.8"/>
<text x="70.80" y="942.30" font-size="9.6" text-anchor="end" fill="#474747">6</text>
<line x1="72.00" y1="917.70" x2="75.30" y2="917.70" stroke="#8a8a8a" stroke-width="0.8"/>
<text x="70.80" y="921.20" font-size="9.6" text-anchor="end" fill="#474747">8</text>
<line x1="72.00" y1="896.60" x2="75.30" y2="896.60" stroke="#8a8a8a" stroke-width="0.8"/>
<text x="70.80" y="900.10" font-size="9.6" text-anchor="end" fill="#474747">10</text>
<line x1="72.00" y1="875.50" x2="75.30" y2="875.50" stroke="#8a8a8a" stroke-width="0.8"/>
<text x="70.80" y="879.00" font-size="9.6" text-anchor="end" fill="#474747">12</text>
<line x1="72.00" y1="854.40" x2="75.30" y2="854.40" stroke="#8a8a8a" stroke-width="0.8"/>
<text x="70.80" y="857.90" font-size="9.6" text-anchor="end" fill="#474747">14</text>
<line x1="99.20" y1="1008.30" x2="99.20" y2="1011.50" stroke="#8a8a8a" stroke-width="0.8"/>
<text x="98.60" y="1024.80" font-size="10.5" text-anchor="middle" fill="#474747">-6</text>
<line x1="129.60" y1="1008.30" x2="129.60" y2="1011.50" stroke="#8a8a8a" stroke-width="0.8"/>
<text x="129.00" y="1024.80" font-size="10.5" text-anchor="middle" fill="#474747">-4</text>
<line x1="160.00" y1="1008.30" x2="160.00" y2="1011.50" stroke="#8a8a8a" stroke-width="0.8"/>
<text x="159.40" y="1024.80" font-size="10.5" text-anchor="middle" fill="#474747">-2</text>
<line x1="190.40" y1="1008.30" x2="190.40" y2="1011.50" stroke="#8a8a8a" stroke-width="0.8"/>
<text x="190.40" y="1024.80" font-size="10.5" text-anchor="middle" fill="#474747">0</text>
<line x1="220.80" y1="1008.30" x2="220.80" y2="1011.50" stroke="#8a8a8a" stroke-width="0.8"/>
<text x="220.80" y="1024.80" font-size="10.5" text-anchor="middle" fill="#474747">2</text>
<line x1="251.20" y1="1008.30" x2="251.20" y2="1011.50" stroke="#8a8a8a" stroke-width="0.8"/>
<text x="251.20" y="1024.80" font-size="10.5" text-anchor="middle" fill="#474747">4</text>
<line x1="281.60" y1="1008.30" x2="281.60" y2="1011.50" stroke="#8a8a8a" stroke-width="0.8"/>
<text x="281.60" y="1024.80" font-size="10.5" text-anchor="middle" fill="#474747">6</text>
<text x="175.30" y="1041.60" font-size="11.3" fill="#474747">log2FC</text>
<text x="49.8" y="938.5" font-size="11" text-anchor="middle" fill="#474747" transform="rotate(-90 49.8 938.5)">-log10(pvalue)</text>
<text x="216.40" y="864.70" font-size="11" fill="#f0923c">Rmst</text>
<line x1="209.00" y1="858.00" x2="215.50" y2="862.00" stroke="#555" stroke-width="0.7"/>
<circle cx="205.70" cy="856.60" r="0.80" fill="#f0923c" stroke="none" stroke-width="1"/>
<text x="209.40" y="886.60" font-size="11" fill="#f0923c">Lmx1a</text>
<line x1="226.50" y1="887.70" x2="220.80" y2="903.50" stroke="#555" stroke-width="0.7"/>
<circle cx="219.90" cy="905.30" r="0.80" fill="#f0923c" stroke="none" stroke-width="1"/>
<text x="242.90" y="903.90" font-size="11" fill="#f0923c">AF529169</text>
<line x1="275.50" y1="909.00" x2="258.70" y2="920.60" stroke="#555" stroke-width="0.7"/>
<circle cx="255.40" cy="922.10" r="0.80" fill="#f0923c" stroke="none" stroke-width="1"/>
<text x="199.60" y="929.10" font-size="11" fill="#f0923c">Pbx3</text>
<line x1="210.50" y1="930.50" x2="210.50" y2="962.50" stroke="#444" stroke-width="0.8"/>
<circle cx="210.40" cy="964.20" r="0.80" fill="#f0923c" stroke="none" stroke-width="1"/>
<text x="263.00" y="930.90" font-size="11" fill="#f0923c">Bnc2</text>
<line x1="275.50" y1="933.70" x2="259.10" y2="947.70" stroke="#555" stroke-width="0.7"/>
<circle cx="257.10" cy="949.50" r="0.80" fill="#f0923c" stroke="none" stroke-width="1"/>
<text x="220.40" y="942.90" font-size="11" fill="#f0923c">Pde5a</text>
<line x1="235.70" y1="944.70" x2="218.60" y2="954.30" stroke="#555" stroke-width="0.7"/>
<circle cx="217.10" cy="956.00" r="0.80" fill="#f0923c" stroke="none" stroke-width="1"/>
<text x="280.10" y="944.00" font-size="11" fill="#f0923c">Pbx1</text>
<line x1="290.40" y1="948.40" x2="284.30" y2="950.60" stroke="#555" stroke-width="0.7"/>
<circle cx="282.30" cy="952.30" r="0.80" fill="#f0923c" stroke="none" stroke-width="1"/>
<text x="178.80" y="952.80" font-size="11" fill="#f0923c">Fat3</text>
<line x1="195.20" y1="957.00" x2="199.40" y2="961.50" stroke="#555" stroke-width="0.7"/>
<circle cx="201.20" cy="962.80" r="0.80" fill="#f0923c" stroke="none" stroke-width="1"/>
<text x="232.80" y="968.60" font-size="11" fill="#f0923c">Gfra1</text>
<line x1="222.50" y1="962.80" x2="231.50" y2="965.00" stroke="#555" stroke-width="0.7"/>
<circle cx="218.80" cy="962.80" r="0.80" fill="#f0923c" stroke="none" stroke-width="1"/>
<text x="251.20" y="1004.90" font-size="11" fill="#f0923c">Gm21949</text>
<line x1="274.80" y1="966.50" x2="279.50" y2="992.50" stroke="#555" stroke-width="0.7"/>
<circle cx="274.80" cy="965.50" r="0.80" fill="#f0923c" stroke="none" stroke-width="1"/>
<text x="134.90" y="954.20" font-size="11" fill="#5b8fc9">Plce1</text>
<line x1="154.00" y1="957.60" x2="157.40" y2="965.50" stroke="#555" stroke-width="0.7"/>
<circle cx="157.90" cy="966.80" r="0.80" fill="#f0923c" stroke="none" stroke-width="1"/>
<text x="387.90" y="811.80" font-size="12.5" font-weight="bold" fill="#000">g</text>
<text x="433.90" y="813.70" font-size="11" fill="#474747">CircRNA expression in E14 Pitx3-GFP</text>
<text x="481.20" y="826.00" font-size="11" fill="#474747">neurons (RTqPCR)</text>
<line x1="442.20" y1="994.50" x2="446.70" y2="994.50" stroke="#c8c8c8" stroke-width="0.8"/>
<text x="440.20" y="998.40" font-size="11" text-anchor="end" fill="#474747">0</text>
<line x1="442.20" y1="978.25" x2="446.70" y2="978.25" stroke="#c8c8c8" stroke-width="0.8"/>
<text x="440.20" y="982.15" font-size="11" text-anchor="end" fill="#474747">1</text>
<line x1="442.20" y1="962.00" x2="446.70" y2="962.00" stroke="#c8c8c8" stroke-width="0.8"/>
<text x="440.20" y="965.90" font-size="11" text-anchor="end" fill="#474747">2</text>
<line x1="442.20" y1="945.75" x2="446.70" y2="945.75" stroke="#c8c8c8" stroke-width="0.8"/>
<text x="440.20" y="949.65" font-size="11" text-anchor="end" fill="#474747">3</text>
<line x1="442.20" y1="929.50" x2="446.70" y2="929.50" stroke="#c8c8c8" stroke-width="0.8"/>
<text x="440.20" y="933.40" font-size="11" text-anchor="end" fill="#474747">4</text>
<line x1="442.20" y1="913.25" x2="446.70" y2="913.25" stroke="#c8c8c8" stroke-width="0.8"/>
<text x="440.20" y="917.15" font-size="11" text-anchor="end" fill="#474747">5</text>
<line x1="442.20" y1="897.00" x2="446.70" y2="897.00" stroke="#c8c8c8" stroke-width="0.8"/>
<text x="440.20" y="900.90" font-size="11" text-anchor="end" fill="#474747">6</text>
<line x1="442.20" y1="880.75" x2="446.70" y2="880.75" stroke="#c8c8c8" stroke-width="0.8"/>
<text x="440.20" y="884.65" font-size="11" text-anchor="end" fill="#474747">7</text>
<line x1="442.20" y1="864.50" x2="446.70" y2="864.50" stroke="#c8c8c8" stroke-width="0.8"/>
<text x="440.20" y="868.40" font-size="11" text-anchor="end" fill="#474747">8</text>
<line x1="443" y1="978.25" x2="629.6" y2="978.25" stroke="#9a9a9a" stroke-width="0.8" stroke-dasharray="1.6 1.6"/>
<rect x="445.10" y="927.06" width="12.90" height="67.44" fill="#1dbcc0"/>
<line x1="460.60" y1="993.00" x2="460.60" y2="995.00" stroke="#cfcfcf" stroke-width="0.8"/>
<text x="454.45" y="999.60" font-size="11" text-anchor="end" fill="#474747" transform="rotate(-45 454.45 999.60)" dominant-baseline="hanging">circ<tspan font-style="italic">Bnc2</tspan></text>
<rect x="463.20" y="961.02" width="12.90" height="33.48" fill="#1dbcc0"/>
<line x1="478.70" y1="993.00" x2="478.70" y2="995.00" stroke="#cfcfcf" stroke-width="0.8"/>
<text x="472.55" y="999.60" font-size="11" text-anchor="end" fill="#474747" transform="rotate(-45 472.55 999.60)" dominant-baseline="hanging">circ<tspan font-style="italic">Epha5</tspan></text>
<rect x="481.30" y="974.35" width="12.90" height="20.15" fill="#1dbcc0"/>
<line x1="496.80" y1="993.00" x2="496.80" y2="995.00" stroke="#cfcfcf" stroke-width="0.8"/>
<text x="490.65" y="999.60" font-size="11" text-anchor="end" fill="#474747" transform="rotate(-45 490.65 999.60)" dominant-baseline="hanging">circ<tspan font-style="italic">Fat3</tspan></text>
<rect x="499.40" y="975.33" width="12.90" height="19.17" fill="#1dbcc0"/>
<line x1="514.90" y1="993.00" x2="514.90" y2="995.00" stroke="#cfcfcf" stroke-width="0.8"/>
<text x="508.75" y="999.60" font-size="11" text-anchor="end" fill="#474747" transform="rotate(-45 508.75 999.60)" dominant-baseline="hanging">circ<tspan font-style="italic">Gfra1</tspan></text>
<rect x="517.50" y="936.00" width="12.90" height="58.50" fill="#1dbcc0"/>
<line x1="533.00" y1="993.00" x2="533.00" y2="995.00" stroke="#cfcfcf" stroke-width="0.8"/>
<text x="526.85" y="999.60" font-size="11" text-anchor="end" fill="#474747" transform="rotate(-45 526.85 999.60)" dominant-baseline="hanging">circ<tspan font-style="italic">Lmx1a</tspan></text>
<rect x="535.60" y="883.67" width="12.90" height="110.83" fill="#1dbcc0"/>
<line x1="551.10" y1="993.00" x2="551.10" y2="995.00" stroke="#cfcfcf" stroke-width="0.8"/>
<text x="544.95" y="999.60" font-size="11" text-anchor="end" fill="#474747" transform="rotate(-45 544.95 999.60)" dominant-baseline="hanging">circ<tspan font-style="italic">AF529169</tspan></text>
<rect x="553.70" y="946.08" width="12.90" height="48.42" fill="#1dbcc0"/>
<line x1="569.20" y1="993.00" x2="569.20" y2="995.00" stroke="#cfcfcf" stroke-width="0.8"/>
<text x="563.05" y="999.60" font-size="11" text-anchor="end" fill="#474747" transform="rotate(-45 563.05 999.60)" dominant-baseline="hanging">circ<tspan font-style="italic">Pde5a</tspan></text>
<rect x="571.80" y="990.44" width="12.90" height="4.06" fill="#1dbcc0"/>
<line x1="587.30" y1="993.00" x2="587.30" y2="995.00" stroke="#cfcfcf" stroke-width="0.8"/>
<text x="581.15" y="999.60" font-size="11" text-anchor="end" fill="#474747" transform="rotate(-45 581.15 999.60)" dominant-baseline="hanging">circ<tspan font-style="italic">Plce1</tspan></text>
<rect x="589.90" y="969.64" width="12.90" height="24.86" fill="#1dbcc0"/>
<line x1="605.40" y1="993.00" x2="605.40" y2="995.00" stroke="#cfcfcf" stroke-width="0.8"/>
<text x="599.25" y="999.60" font-size="11" text-anchor="end" fill="#474747" transform="rotate(-45 599.25 999.60)" dominant-baseline="hanging">circ<tspan font-style="italic">Rmst</tspan></text>
<rect x="608.00" y="977.92" width="12.90" height="16.58" fill="#1dbcc0"/>
<line x1="623.50" y1="993.00" x2="623.50" y2="995.00" stroke="#cfcfcf" stroke-width="0.8"/>
<text x="617.35" y="999.60" font-size="11" text-anchor="end" fill="#474747" transform="rotate(-45 617.35 999.60)" dominant-baseline="hanging">circ<tspan font-style="italic">Robo1</tspan></text>
<text x="417.4" y="923.5" font-size="11.3" text-anchor="middle" fill="#474747" transform="rotate(-90 417.4 923.5)">Relative expression to GFP-  (2^-ddCT)</text>
<circle cx="610.80" cy="886.40" r="15.80" fill="none" stroke="#1dbcc0" stroke-width="3.4"/>
<line x1="610.80" y1="862.60" x2="610.80" y2="876.20" stroke="#111" stroke-width="1.0"/>
<line x1="598.30" y1="869.40" x2="603.50" y2="866.70" stroke="#333" stroke-width="0.7"/>
<line x1="617.80" y1="875.00" x2="621.60" y2="878.50" stroke="#333" stroke-width="0.7"/>
<text x="602.90" y="862.00" font-size="11" fill="#474747">BSJ</text>
</svg></body></html>
